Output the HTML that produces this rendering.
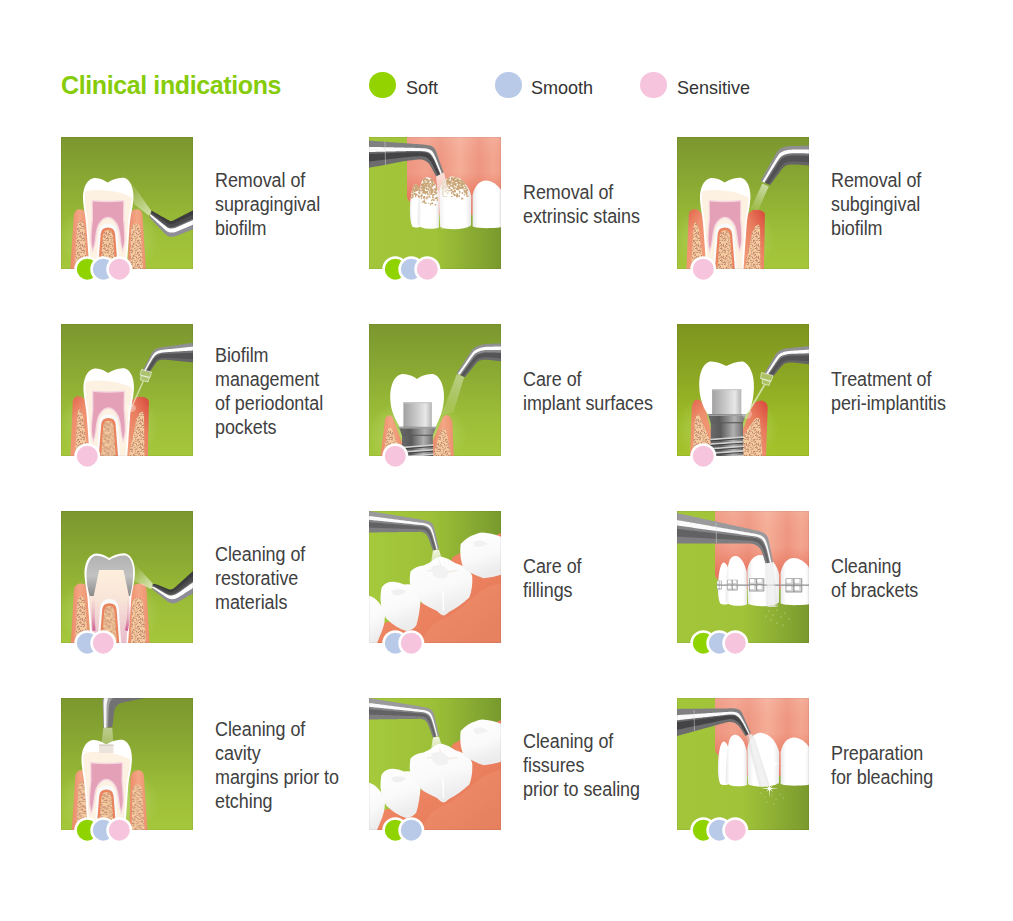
<!DOCTYPE html>
<html><head><meta charset="utf-8"><style>
html,body{margin:0;padding:0;background:#fff;}
body{width:1013px;height:921px;position:relative;overflow:hidden;font-family:"Liberation Sans",sans-serif;}
.t{position:absolute;left:61px;top:72.7px;font-size:25px;line-height:25px;font-weight:bold;color:#86cc0a;letter-spacing:-0.39px;white-space:nowrap;}
.lg{position:absolute;width:26.8px;height:26.8px;border-radius:50%;top:71.6px;}
.lt{position:absolute;top:77.5px;font-size:19px;line-height:19px;color:#333;white-space:nowrap;letter-spacing:0;transform:scaleX(0.948);transform-origin:0 50%}
.cell{position:absolute;width:132px;height:132px;}
.cell svg{position:absolute;left:0;top:0;overflow:visible}
.cap{position:absolute;height:132px;display:flex;align-items:center;font-size:19.5px;line-height:24.2px;color:#404040;letter-spacing:-0.05px;transform:scaleX(0.92);transform-origin:0 50%;white-space:nowrap;}
</style></head><body>

<div class="t">Clinical indications</div>
<div class="lg" style="left:368.8px;background:#93d300"></div><div class="lt" style="left:405.8px">Soft</div>
<div class="lg" style="left:494.8px;background:#b9cae9"></div><div class="lt" style="left:531px">Smooth</div>
<div class="lg" style="left:640.4px;background:#f6c5dd"></div><div class="lt" style="left:677px">Sensitive</div>
<svg width="0" height="0" style="position:absolute">
<defs>
<linearGradient id="bgV" x1="0" y1="0" x2="0" y2="1"><stop offset="0" stop-color="#7b972f"/><stop offset="0.35" stop-color="#8aa933"/><stop offset="0.7" stop-color="#9cbd38"/><stop offset="1" stop-color="#a5c73b"/></linearGradient>
<linearGradient id="bgV6" x1="0" y1="0" x2="0" y2="1"><stop offset="0" stop-color="#7e941f"/><stop offset="0.35" stop-color="#8aa523"/><stop offset="0.7" stop-color="#9bba27"/><stop offset="1" stop-color="#a4c22a"/></linearGradient>
<linearGradient id="bgH" x1="0" y1="0" x2="1" y2="0"><stop offset="0" stop-color="#a2c53a"/><stop offset="0.5" stop-color="#a0c339"/><stop offset="1" stop-color="#7a992e"/></linearGradient>
<linearGradient id="bgM" x1="0" y1="0" x2="1" y2="0"><stop offset="0" stop-color="#a6ca3c"/><stop offset="0.5" stop-color="#9cbf38"/><stop offset="1" stop-color="#789a2e"/></linearGradient>
<radialGradient id="glow" cx="0.5" cy="0.5" r="0.5"><stop offset="0" stop-color="#d8f0a0" stop-opacity="0.6"/><stop offset="0.6" stop-color="#c8e890" stop-opacity="0.3"/><stop offset="1" stop-color="#c8e890" stop-opacity="0"/></radialGradient>
<linearGradient id="gumG" x1="0" y1="0" x2="1" y2="0"><stop offset="0" stop-color="#ea8a6a"/><stop offset="0.5" stop-color="#f4a684"/><stop offset="1" stop-color="#ec906e"/></linearGradient>
<linearGradient id="gumRL" x1="0" y1="0" x2="0.4" y2="1"><stop offset="0" stop-color="#e2624a"/><stop offset="0.4" stop-color="#ee8e6c"/><stop offset="1" stop-color="#f19c7a"/></linearGradient>
<linearGradient id="gumRR" x1="1" y1="0" x2="0.3" y2="1"><stop offset="0" stop-color="#d8463a"/><stop offset="0.45" stop-color="#e97d5e"/><stop offset="1" stop-color="#f09a78"/></linearGradient>
<linearGradient id="gumF" x1="0" y1="0" x2="1" y2="0"><stop offset="0" stop-color="#ee9580"/><stop offset="0.2" stop-color="#f2a28c"/><stop offset="0.35" stop-color="#ee9782"/><stop offset="0.55" stop-color="#f5ae98"/><stop offset="0.75" stop-color="#ee9680"/><stop offset="0.9" stop-color="#f3a690"/><stop offset="1" stop-color="#ef9a84"/></linearGradient>
<linearGradient id="gumFv" x1="0" y1="0" x2="0" y2="1"><stop offset="0" stop-color="#fff" stop-opacity="0.1"/><stop offset="0.45" stop-color="#e8705a" stop-opacity="0"/><stop offset="0.8" stop-color="#e66a52" stop-opacity="0.75"/><stop offset="1" stop-color="#e66a52" stop-opacity="0.8"/></linearGradient>
<linearGradient id="gumM" x1="0" y1="0" x2="1" y2="1"><stop offset="0" stop-color="#ea7452"/><stop offset="0.5" stop-color="#ee8562"/><stop offset="1" stop-color="#e07454"/></linearGradient>
<pattern id="bone" width="12" height="12" patternUnits="userSpaceOnUse"><rect width="12" height="12" fill="#f4cb9e"/><rect x="5.4" y="6.7" width="1.2" height="0.9" fill="#c88a74"/><rect x="10.3" y="2.3" width="1.2" height="0.9" fill="#c88a74"/><rect x="9.5" y="1.1" width="0.8" height="0.7" fill="#9e5e54"/><rect x="7.6" y="7.1" width="0.9" height="0.9" fill="#9e5e54"/><rect x="7.4" y="1.9" width="0.6" height="1.0" fill="#b06a5c"/><rect x="0.4" y="10.6" width="1.0" height="1.1" fill="#c07a68"/><rect x="5.3" y="10.1" width="1.0" height="1.0" fill="#b87464"/><rect x="0.1" y="1.0" width="1.1" height="0.9" fill="#c88a74"/><rect x="11.9" y="10.1" width="1.1" height="0.8" fill="#a8645a"/><rect x="6.2" y="0.4" width="1.0" height="0.7" fill="#b06a5c"/><rect x="10.2" y="4.6" width="1.3" height="1.2" fill="#b06a5c"/><rect x="2.6" y="11.1" width="0.6" height="0.9" fill="#9e5e54"/><rect x="4.8" y="0.9" width="1.0" height="1.1" fill="#c07a68"/><rect x="4.0" y="3.7" width="0.6" height="0.9" fill="#b06a5c"/><rect x="1.6" y="8.5" width="0.6" height="0.9" fill="#b87464"/><rect x="2.1" y="6.7" width="0.9" height="0.7" fill="#9e5e54"/><rect x="9.2" y="5.0" width="0.9" height="0.9" fill="#a8645a"/><rect x="0.0" y="10.4" width="1.3" height="1.0" fill="#b06a5c"/><rect x="2.5" y="4.7" width="1.2" height="1.0" fill="#b06a5c"/><rect x="0.5" y="1.8" width="0.9" height="0.6" fill="#c88a74"/><rect x="3.9" y="3.6" width="0.7" height="0.7" fill="#c88a74"/><rect x="7.6" y="0.2" width="0.9" height="1.0" fill="#a8645a"/><rect x="11.5" y="5.8" width="1.0" height="1.2" fill="#a8645a"/><rect x="7.5" y="3.7" width="0.8" height="1.0" fill="#9e5e54"/><rect x="2.3" y="8.9" width="1.3" height="0.7" fill="#b87464"/><rect x="10.6" y="7.2" width="0.9" height="0.7" fill="#b06a5c"/><rect x="6.1" y="3.1" width="1.1" height="0.9" fill="#b87464"/><rect x="9.9" y="7.2" width="0.8" height="0.7" fill="#9e5e54"/><rect x="11.7" y="1.5" width="0.9" height="1.1" fill="#c88a74"/><rect x="7.4" y="3.4" width="1.2" height="0.7" fill="#b06a5c"/><rect x="0.8" y="4.9" width="0.8" height="0.6" fill="#c07a68"/><rect x="4.4" y="6.9" width="0.7" height="0.9" fill="#b87464"/><rect x="11.8" y="7.9" width="1.1" height="1.0" fill="#a8645a"/><rect x="7.1" y="11.1" width="0.9" height="0.9" fill="#c07a68"/><rect x="11.6" y="0.3" width="1.0" height="0.9" fill="#9e5e54"/><rect x="3.7" y="1.6" width="0.7" height="0.9" fill="#c07a68"/><rect x="8.8" y="10.8" width="1.1" height="1.1" fill="#c07a68"/><rect x="4.2" y="8.2" width="1.2" height="1.2" fill="#b87464"/><rect x="11.3" y="0.4" width="0.9" height="0.6" fill="#9e5e54"/><rect x="4.6" y="7.0" width="1.0" height="0.7" fill="#9e5e54"/><rect x="1.4" y="3.1" width="0.9" height="0.8" fill="#9e5e54"/><rect x="8.3" y="5.5" width="0.9" height="1.0" fill="#c88a74"/><rect x="9.0" y="0.4" width="1.0" height="0.9" fill="#a8645a"/><rect x="11.5" y="1.4" width="1.1" height="1.1" fill="#b87464"/><rect x="3.1" y="0.1" width="0.8" height="1.1" fill="#a8645a"/><rect x="6.2" y="9.0" width="0.8" height="1.3" fill="#b87464"/></pattern>
<pattern id="stain" width="4" height="4" patternUnits="userSpaceOnUse">
<rect width="4" height="4" fill="#c9a678"/><rect x="0.5" y="0.5" width="1.2" height="1" fill="#fff"/><rect x="2.6" y="2.2" width="1" height="1.2" fill="#f4eee2"/>
</pattern>
<linearGradient id="toothF" x1="0" y1="0" x2="1" y2="0"><stop offset="0" stop-color="#e8e8e8"/><stop offset="0.18" stop-color="#ffffff"/><stop offset="0.82" stop-color="#ffffff"/><stop offset="1" stop-color="#e6e6e6"/></linearGradient>
<linearGradient id="abut" x1="0" y1="0" x2="1" y2="0"><stop offset="0" stop-color="#a2a2a2"/><stop offset="0.4" stop-color="#c4c4c4"/><stop offset="0.78" stop-color="#e8e8e8"/><stop offset="1" stop-color="#b4b4b4"/></linearGradient>
<linearGradient id="collar" x1="0" y1="0" x2="1" y2="0"><stop offset="0" stop-color="#6a6a6a"/><stop offset="0.3" stop-color="#5a5a5a"/><stop offset="0.7" stop-color="#b0b0b0"/><stop offset="1" stop-color="#707070"/></linearGradient>
<linearGradient id="resto" x1="0" y1="0" x2="0" y2="1"><stop offset="0" stop-color="#b2b2b2"/><stop offset="0.5" stop-color="#c2c2c2"/><stop offset="1" stop-color="#8a8a8a"/></linearGradient>
<linearGradient id="canalP" x1="0" y1="0" x2="0" y2="1"><stop offset="0" stop-color="#e8b0c0" stop-opacity="0"/><stop offset="0.6" stop-color="#dc90ac" stop-opacity="0.6"/><stop offset="1" stop-color="#c8508a" stop-opacity="0.9"/></linearGradient>
<linearGradient id="dentP" gradientUnits="userSpaceOnUse" x1="0" y1="57" x2="0" y2="125"><stop offset="0" stop-color="#fef0dc"/><stop offset="0.45" stop-color="#f8e4d8"/><stop offset="1" stop-color="#eac0cc"/></linearGradient>
<linearGradient id="molar" x1="0" y1="0" x2="0.3" y2="1"><stop offset="0" stop-color="#ffffff"/><stop offset="0.6" stop-color="#fafafa"/><stop offset="1" stop-color="#ececec"/></linearGradient>
<linearGradient id="beam" x1="0" y1="0" x2="0" y2="1"><stop offset="0" stop-color="#fff" stop-opacity="0.7"/><stop offset="1" stop-color="#fff" stop-opacity="0.3"/></linearGradient>
<clipPath id="cb"><rect width="132" height="132"/></clipPath>
</defs></svg>
<div class="cell" style="left:61px;top:137px"><svg width="132" height="132" viewBox="0 0 132 132"><g clip-path="url(#cb)"><rect width="132" height="132" fill="url(#bgV)"/><ellipse cx="48" cy="102" rx="50" ry="40" fill="url(#glow)"/><g transform="translate(0.0,0)"><path d="M9.4,132 L12.8,78 Q14,72.2 18.8,72.2 Q24.5,72.2 26,80 L28,132 Z" fill="url(#gumG)"/><path d="M13.8,132 L16,88 Q17,83.6 19.2,83.6 Q22,83.6 23.5,90 L26,132 Z" fill="url(#bone)"/><path d="M67,132 L68,80 Q69.5,72.2 75.5,72.2 Q81,72.2 81.4,78 L84.9,132 Z" fill="url(#gumG)"/><path d="M69.1,132 L70,92 Q71.5,86.6 75,86.6 Q78.5,86.6 79.5,92 L82,132 Z" fill="url(#bone)"/></g><g transform="translate(0.0,0.0)"><path d="M22.3,66 C20.8,55 24,43.5 32,41.2 C38,40.2 43,43 46.7,45.5 C51,42.6 57,40.2 63,40.8 C71,43 73.3,55 72.2,64 C71.6,72 69.5,78 68.8,86 L65.5,132 L28.5,132 L25,86 C24.2,78 22.8,72 22.3,66 Z" fill="#ffffff"/><path d="M24.2,66 C23.6,61 23.6,57 24.2,54.5 C32,52.5 40,53 46.7,53.8 C56,54.5 64,57 70.6,60.5 C70.8,62 70.7,63 70.5,64 C70,72 67.8,78 67,86 L63.8,132 L30.2,132 L26.8,86 C26,78 24.5,72 24.2,66 Z" fill="#fdf2e2"/><path d="M30.6,63.2 Q31,63 32,63 Q46.9,64.6 62,63 Q63,63 63.4,63.2 L63.2,82 Q64.6,95 64.4,104 Q63.5,110 61.7,116 Q59.8,110 58.8,104 Q57.8,94 56,89 Q52,81.5 46.9,81.2 Q41.8,81.5 37.8,89 Q36,94 35,104 Q34,110 31.6,116 Q29.8,110 29.4,104 Q29.2,95 30.8,82 Z" fill="#f5d6e0"/><path d="M31.8,64.4 Q46.9,66 62.2,64.4 L62,82 Q63.3,95 63.1,104 Q62.6,108 61.7,112 Q60.8,108 60.2,104 Q59.2,94 57.3,88.5 Q53,80 46.9,79.8 Q40.8,80 36.5,88.5 Q34.6,94 33.6,104 Q33,108 31.8,112 Q30.8,108 30.6,104 Q30.5,95 32,82 Z" fill="#e3a0b7"/><path d="M35,132 L37.5,96 Q38.5,86.5 46.9,86.5 Q55.3,86.5 56.3,96 L58.8,132 Z" fill="#f8fafc"/><path d="M37,132 L39.7,97 Q40.5,90.6 46.9,90.6 Q53.3,90.6 54.1,97 L56.8,132 Z" fill="#e9845f"/><path d="M39.3,132 L41.8,98.5 Q42.5,93.3 46.9,93.3 Q51.3,93.3 52,98.5 L54.5,132 Z" fill="url(#bone)"/></g><linearGradient id="sp1" gradientUnits="userSpaceOnUse" x1="89.5" y1="77.0" x2="67.0" y2="49.5"><stop offset="0" stop-color="#f6fbee" stop-opacity="0.60"/><stop offset="1" stop-color="#f6fbee" stop-opacity="0.03"/></linearGradient><polygon points="91.4,75.4 61.0,32.0 73.0,67.0 87.6,78.6" fill="url(#sp1)"/><polygon points="90.50,73.60 91.32,74.06 92.14,74.53 92.97,74.99 93.79,75.45 94.61,75.92 95.43,76.38 96.25,76.85 97.07,77.31 97.90,77.77 98.72,78.24 99.54,78.70 100.36,79.16 101.18,79.63 102.01,80.09 102.83,80.55 103.65,81.02 104.47,81.48 105.29,81.94 106.12,82.41 106.94,82.87 107.76,83.34 108.61,83.74 109.53,83.97 110.47,83.99 111.39,83.81 112.26,83.45 113.10,83.02 113.94,82.59 114.78,82.16 115.62,81.73 116.46,81.30 117.30,80.87 118.14,80.45 118.99,80.02 119.83,79.59 120.67,79.16 121.51,78.73 122.35,78.30 123.19,77.87 124.03,77.45 124.87,77.02 125.71,76.59 126.55,76.16 127.39,75.73 128.23,75.30 129.07,74.87 129.91,74.44 130.75,74.02 131.59,73.59 132.43,73.16 133.28,72.73 134.12,72.30 134.96,71.87 135.80,71.44 136.64,71.01 137.48,70.59 138.32,70.16 139.16,69.73 140.00,69.30 140.00,74.87 139.12,75.29 138.25,75.70 137.37,76.12 136.50,76.53 135.62,76.94 134.74,77.36 133.87,77.77 132.99,78.19 132.12,78.60 131.24,79.02 130.36,79.43 129.49,79.84 128.61,80.26 127.74,80.67 126.86,81.09 125.98,81.50 125.11,81.92 124.23,82.33 123.36,82.75 122.48,83.16 121.60,83.57 120.73,83.99 119.85,84.40 118.98,84.82 118.10,85.23 117.22,85.64 116.34,86.05 115.45,86.43 114.56,86.78 113.67,87.10 112.77,87.39 111.88,87.65 111.00,87.87 110.11,88.01 109.19,88.00 108.28,87.81 107.40,87.46 106.58,86.96 105.78,86.42 104.99,85.87 104.20,85.33 103.41,84.79 102.62,84.24 101.82,83.70 101.03,83.15 100.24,82.61 99.45,82.06 98.65,81.52 97.86,80.98 97.07,80.43 96.28,79.89 95.49,79.34 94.69,78.80 93.90,78.25 93.11,77.71 92.32,77.16 91.52,76.62 90.73,76.08 89.94,75.53" fill="#3c3c3e"/><polygon points="90.06,75.12 90.86,75.65 91.66,76.17 92.46,76.70 93.25,77.23 94.05,77.75 94.85,78.28 95.65,78.81 96.45,79.33 97.25,79.86 98.05,80.39 98.84,80.92 99.64,81.44 100.44,81.97 101.24,82.50 102.04,83.02 102.84,83.55 103.64,84.08 104.43,84.60 105.23,85.13 106.03,85.66 106.83,86.19 107.66,86.66 108.54,86.99 109.46,87.14 110.38,87.11 111.27,86.92 112.14,86.65 113.02,86.36 113.91,86.04 114.79,85.70 115.67,85.33 116.55,84.94 117.42,84.53 118.29,84.11 119.16,83.70 120.03,83.28 120.89,82.86 121.76,82.44 122.63,82.03 123.50,81.61 124.37,81.19 125.24,80.77 126.11,80.36 126.97,79.94 127.84,79.52 128.71,79.11 129.58,78.69 130.45,78.27 131.32,77.85 132.18,77.44 133.05,77.02 133.92,76.60 134.79,76.18 135.66,75.77 136.53,75.35 137.39,74.93 138.26,74.51 139.13,74.10 140.00,73.68 140.00,79.05 139.10,79.45 138.19,79.86 137.29,80.26 136.39,80.67 135.49,81.07 134.58,81.47 133.68,81.88 132.78,82.28 131.88,82.68 130.97,83.09 130.07,83.49 129.17,83.90 128.27,84.30 127.36,84.70 126.46,85.11 125.56,85.51 124.66,85.91 123.75,86.32 122.85,86.72 121.95,87.12 121.05,87.53 120.14,87.93 119.24,88.34 118.34,88.74 117.43,89.14 116.53,89.54 115.62,89.93 114.70,90.27 113.77,90.56 112.83,90.81 111.89,90.99 110.97,91.12 110.05,91.18 109.14,91.16 108.23,91.00 107.34,90.69 106.49,90.24 105.69,89.68 104.92,89.08 104.15,88.47 103.38,87.87 102.61,87.26 101.84,86.66 101.07,86.05 100.30,85.45 99.53,84.84 98.76,84.24 97.99,83.63 97.22,83.03 96.45,82.42 95.68,81.82 94.91,81.21 94.14,80.61 93.37,80.01 92.60,79.40 91.83,78.80 91.06,78.19 90.29,77.59 89.52,76.98" fill="#4c4c4e"/><polygon points="89.64,76.57 90.42,77.15 91.19,77.74 91.97,78.33 92.75,78.92 93.52,79.50 94.30,80.09 95.07,80.68 95.85,81.27 96.63,81.85 97.40,82.44 98.18,83.03 98.96,83.62 99.73,84.21 100.51,84.79 101.29,85.38 102.06,85.97 102.84,86.56 103.61,87.14 104.39,87.73 105.17,88.32 105.94,88.91 106.75,89.45 107.61,89.87 108.51,90.14 109.42,90.26 110.32,90.24 111.23,90.13 112.14,89.96 113.07,89.75 113.99,89.48 114.91,89.17 115.83,88.82 116.73,88.43 117.62,88.03 118.52,87.62 119.41,87.21 120.31,86.81 121.20,86.40 122.10,85.99 122.99,85.59 123.89,85.18 124.78,84.77 125.68,84.36 126.57,83.96 127.47,83.55 128.36,83.14 129.26,82.74 130.15,82.33 131.05,81.92 131.94,81.52 132.84,81.11 133.73,80.70 134.63,80.30 135.52,79.89 136.42,79.48 137.31,79.08 138.21,78.67 139.10,78.26 140.00,77.86 140.00,80.64 139.09,81.04 138.17,81.44 137.26,81.84 136.35,82.24 135.44,82.64 134.52,83.04 133.61,83.44 132.70,83.84 131.79,84.24 130.87,84.64 129.96,85.04 129.05,85.44 128.13,85.84 127.22,86.24 126.31,86.64 125.40,87.04 124.48,87.44 123.57,87.84 122.66,88.24 121.75,88.64 120.83,89.03 119.92,89.43 119.01,89.83 118.09,90.23 117.18,90.63 116.27,91.03 115.35,91.40 114.41,91.73 113.46,92.00 112.51,92.22 111.56,92.36 110.62,92.44 109.69,92.45 108.78,92.36 107.87,92.15 106.98,91.79 106.14,91.31 105.35,90.72 104.59,90.09 103.83,89.46 103.07,88.84 102.31,88.21 101.54,87.58 100.78,86.95 100.02,86.32 99.26,85.70 98.50,85.07 97.74,84.44 96.98,83.81 96.21,83.18 95.45,82.56 94.69,81.93 93.93,81.30 93.17,80.67 92.41,80.04 91.64,79.42 90.88,78.79 90.12,78.16 89.36,77.53" fill="#707072"/><polygon points="89.48,77.12 90.25,77.73 91.02,78.34 91.78,78.95 92.55,79.56 93.32,80.17 94.09,80.78 94.86,81.39 95.62,82.00 96.39,82.61 97.16,83.23 97.93,83.84 98.69,84.45 99.46,85.06 100.23,85.67 101.00,86.28 101.77,86.89 102.53,87.50 103.30,88.11 104.07,88.72 104.84,89.33 105.61,89.94 106.40,90.51 107.25,90.97 108.14,91.29 109.05,91.46 109.96,91.50 110.88,91.45 111.81,91.33 112.75,91.16 113.69,90.92 114.63,90.63 115.55,90.29 116.47,89.91 117.37,89.52 118.28,89.11 119.18,88.71 120.09,88.31 120.99,87.90 121.90,87.50 122.80,87.10 123.71,86.70 124.61,86.29 125.52,85.89 126.42,85.49 127.33,85.09 128.23,84.68 129.14,84.28 130.04,83.88 130.95,83.48 131.85,83.07 132.76,82.67 133.66,82.27 134.57,81.86 135.47,81.46 136.38,81.06 137.28,80.66 138.19,80.25 139.09,79.85 140.00,79.45 140.00,85.62 139.06,86.00 138.11,86.39 137.17,86.78 136.22,87.17 135.28,87.55 134.33,87.94 133.39,88.33 132.45,88.71 131.50,89.10 130.56,89.49 129.61,89.87 128.67,90.26 127.72,90.65 126.78,91.03 125.83,91.42 124.89,91.81 123.95,92.19 123.00,92.58 122.06,92.97 121.11,93.35 120.17,93.74 119.22,94.13 118.28,94.52 117.34,94.90 116.39,95.29 115.44,95.67 114.49,96.02 113.51,96.30 112.52,96.51 111.52,96.63 110.51,96.65 109.53,96.57 108.56,96.39 107.63,96.12 106.73,95.72 105.87,95.22 105.06,94.63 104.30,93.96 103.56,93.26 102.83,92.56 102.09,91.86 101.36,91.16 100.62,90.46 99.89,89.76 99.15,89.06 98.42,88.36 97.68,87.66 96.95,86.96 96.21,86.26 95.48,85.56 94.74,84.86 94.01,84.16 93.27,83.46 92.54,82.76 91.80,82.06 91.07,81.36 90.33,80.66 89.60,79.96 88.86,79.26" fill="#ffffff"/><polygon points="88.98,78.84 89.72,79.53 90.46,80.21 91.20,80.89 91.95,81.57 92.69,82.26 93.43,82.94 94.17,83.62 94.91,84.31 95.65,84.99 96.39,85.67 97.14,86.35 97.88,87.04 98.62,87.72 99.36,88.40 100.10,89.08 100.84,89.77 101.58,90.45 102.33,91.13 103.07,91.81 103.81,92.50 104.55,93.18 105.32,93.83 106.13,94.40 107.00,94.86 107.90,95.21 108.83,95.45 109.79,95.58 110.77,95.62 111.75,95.57 112.74,95.43 113.73,95.21 114.69,94.91 115.64,94.56 116.58,94.17 117.52,93.78 118.45,93.39 119.39,93.00 120.33,92.61 121.26,92.22 122.20,91.83 123.14,91.44 124.07,91.05 125.01,90.66 125.95,90.27 126.89,89.88 127.82,89.49 128.76,89.10 129.70,88.71 130.63,88.32 131.57,87.93 132.51,87.54 133.44,87.15 134.38,86.76 135.32,86.37 136.25,85.98 137.19,85.59 138.13,85.20 139.06,84.81 140.00,84.42 140.00,89.20 139.03,89.58 138.07,89.96 137.10,90.33 136.13,90.71 135.16,91.09 134.20,91.47 133.23,91.84 132.26,92.22 131.30,92.60 130.33,92.98 129.36,93.35 128.39,93.73 127.43,94.11 126.46,94.49 125.49,94.86 124.53,95.24 123.56,95.62 122.59,96.00 121.62,96.38 120.66,96.75 119.69,97.13 118.72,97.51 117.76,97.89 116.79,98.26 115.82,98.64 114.85,99.01 113.87,99.34 112.86,99.60 111.83,99.75 110.80,99.80 109.76,99.73 108.74,99.55 107.75,99.24 106.80,98.82 105.91,98.30 105.06,97.69 104.28,97.02 103.54,96.29 102.82,95.54 102.10,94.79 101.39,94.03 100.67,93.28 99.96,92.53 99.24,91.78 98.52,91.03 97.81,90.27 97.09,89.52 96.38,88.77 95.66,88.02 94.94,87.27 94.23,86.51 93.51,85.76 92.80,85.01 92.08,84.26 91.36,83.51 90.65,82.76 89.93,82.00 89.22,81.25 88.50,80.50" fill="#8e8d98"/><rect x="0.3" y="0.3" width="131.4" height="131.4" fill="none" stroke="#000" stroke-opacity="0.07" stroke-width="0.8"/></g><circle cx="26.3" cy="132.2" r="11.75" fill="#8fd400" stroke="#fff" stroke-width="2.5"/><circle cx="42.3" cy="132.2" r="11.75" fill="#b9cae9" stroke="#fff" stroke-width="2.5"/><circle cx="58.3" cy="132.2" r="11.75" fill="#f6c5dd" stroke="#fff" stroke-width="2.5"/></svg></div>
<div class="cap" style="left:215px;top:138.0px">Removal of<br>supragingival<br>biofilm</div>
<div class="cell" style="left:369px;top:137px"><svg width="132" height="132" viewBox="0 0 132 132"><g clip-path="url(#cb)"><rect width="132" height="132" fill="url(#bgH)"/><path d="M38,0 H134 V78 H41.5 L41.5,65.0 Q38,63.0 38,58.0 Z" fill="url(#gumF)"/><path d="M38,0 H134 V78 H41.5 L41.5,65.0 Q38,63.0 38,58.0 Z" fill="url(#gumFv)"/><path d="M41,77.3 C40.6,62.3 43,48.3 46.4,47.3 C49.5,47.3 51.5,52.3 52.5,58.3 L51,90.0 C47,91.0 44,90.5 43,89.0 C41.5,85.0 41,80.0 41,77.3 Z" fill="url(#toothF)"/><path d="M48.8,88.0 C48.5,70.0 50,50.4 53,44.0 C55,40.5 57,40.2 59.2,40.4 C64,41.0 68,48.4 69.8,56.4 L70,90.5 C66,92.0 62,92.0 59.7,91.7 C55,91.5 51,90.5 48.8,88.0 Z" fill="url(#toothF)"/><path d="M70.5,54.0 C71.5,46.0 77,39.5 83.4,39.4 C92,39.5 100,48.0 102.3,59.4 L102,88.5 C98,91.0 92,92.2 85.4,92.2 C79,92.0 74,91.0 71.2,90.0 C70.4,80.0 70.3,64.0 70.5,54.0 Z" fill="url(#toothF)"/><path d="M103.6,58.0 C106,48.0 111,43.4 116.9,43.4 C124,43.5 131,50.0 134,56.0 L134,90.0 C128,91.0 122,91.2 117,91.2 C112,91.0 106,90.5 103.6,89.5 Z" fill="url(#toothF)"/><clipPath id="ftc"><path d="M41,77.3 C40.6,62.3 43,48.3 46.4,47.3 C49.5,47.3 51.5,52.3 52.5,58.3 L51,90.0 C47,91.0 44,90.5 43,89.0 C41.5,85.0 41,80.0 41,77.3 Z" fill="url(#toothF)"/><path d="M48.8,88.0 C48.5,70.0 50,50.4 53,44.0 C55,40.5 57,40.2 59.2,40.4 C64,41.0 68,48.4 69.8,56.4 L70,90.5 C66,92.0 62,92.0 59.7,91.7 C55,91.5 51,90.5 48.8,88.0 Z" fill="url(#toothF)"/><path d="M70.5,54.0 C71.5,46.0 77,39.5 83.4,39.4 C92,39.5 100,48.0 102.3,59.4 L102,88.5 C98,91.0 92,92.2 85.4,92.2 C79,92.0 74,91.0 71.2,90.0 C70.4,80.0 70.3,64.0 70.5,54.0 Z" fill="url(#toothF)"/><path d="M103.6,58.0 C106,48.0 111,43.4 116.9,43.4 C124,43.5 131,50.0 134,56.0 L134,90.0 C128,91.0 122,91.2 117,91.2 C112,91.0 106,90.5 103.6,89.5 Z" fill="url(#toothF)"/></clipPath><g clip-path="url(#ftc)"><g fill="#c9a474"><rect x="44.2" y="49.9" width="0.9" height="1.6"/><rect x="44.7" y="48.1" width="0.9" height="1.4"/><rect x="41.7" y="48.7" width="2.0" height="1.0"/><rect x="43.2" y="58.9" width="1.6" height="1.4"/><rect x="46.5" y="48.2" width="1.1" height="1.8"/><rect x="45.3" y="53.0" width="1.4" height="1.2"/><rect x="46.7" y="57.0" width="1.8" height="1.2"/><rect x="48.6" y="49.9" width="0.9" height="1.7"/><rect x="48.6" y="57.9" width="1.2" height="1.8"/><rect x="47.6" y="48.2" width="1.7" height="2.2"/><rect x="49.2" y="52.4" width="1.7" height="0.8"/><rect x="43.5" y="54.4" width="0.9" height="1.4"/><rect x="49.6" y="52.3" width="1.3" height="2.0"/><rect x="43.3" y="51.4" width="1.6" height="1.2"/><rect x="45.0" y="49.0" width="0.9" height="0.9"/><rect x="43.1" y="50.1" width="0.9" height="0.8"/><rect x="42.5" y="48.9" width="0.8" height="2.0"/><rect x="47.1" y="49.8" width="1.3" height="1.3"/><rect x="46.4" y="47.5" width="2.2" height="2.0"/><rect x="48.0" y="52.0" width="1.0" height="1.9"/><rect x="48.4" y="51.3" width="1.3" height="0.8"/><rect x="43.0" y="50.9" width="2.1" height="2.0"/><rect x="41.8" y="59.6" width="1.9" height="1.9"/><rect x="45.8" y="50.4" width="1.3" height="1.9"/><rect x="42.3" y="49.9" width="1.9" height="1.0"/><rect x="46.9" y="51.9" width="1.0" height="2.1"/><rect x="44.5" y="55.7" width="2.1" height="1.4"/><rect x="46.2" y="47.4" width="1.1" height="0.8"/><rect x="49.0" y="50.3" width="1.8" height="1.6"/><rect x="48.8" y="49.0" width="1.1" height="1.2"/><rect x="42.4" y="49.3" width="0.9" height="1.1"/><rect x="50.0" y="49.9" width="1.7" height="1.0"/><rect x="43.0" y="53.1" width="0.8" height="1.6"/><rect x="45.4" y="47.3" width="1.7" height="1.5"/><rect x="42.3" y="55.0" width="1.9" height="1.2"/><rect x="48.0" y="48.7" width="1.8" height="1.4"/><rect x="49.0" y="48.6" width="0.9" height="2.0"/><rect x="45.5" y="53.4" width="2.1" height="1.2"/><rect x="48.6" y="52.5" width="1.0" height="1.3"/><rect x="49.3" y="54.5" width="1.8" height="2.2"/><rect x="45.5" y="52.0" width="2.2" height="1.6"/><rect x="44.6" y="47.0" width="1.5" height="1.5"/><rect x="43.6" y="48.7" width="0.9" height="0.8"/><rect x="44.0" y="51.4" width="1.5" height="1.9"/><rect x="44.9" y="53.2" width="1.0" height="1.8"/><rect x="47.4" y="47.8" width="2.0" height="1.7"/><rect x="46.2" y="56.6" width="1.9" height="2.0"/><rect x="46.0" y="57.2" width="0.9" height="1.8"/><rect x="43.5" y="48.4" width="1.8" height="1.1"/><rect x="44.8" y="56.1" width="1.9" height="1.7"/><rect x="47.4" y="48.5" width="1.2" height="1.8"/><rect x="41.6" y="52.1" width="1.8" height="1.7"/><rect x="45.7" y="49.3" width="1.1" height="2.2"/><rect x="43.7" y="51.0" width="1.1" height="1.6"/><rect x="42.4" y="57.0" width="1.0" height="1.9"/><rect x="44.4" y="53.0" width="0.8" height="1.9"/><rect x="49.4" y="49.3" width="1.8" height="2.1"/><rect x="46.1" y="50.6" width="2.1" height="2.0"/><rect x="49.1" y="59.0" width="2.1" height="1.6"/><rect x="48.2" y="47.9" width="1.4" height="1.9"/><rect x="44.4" y="52.7" width="2.2" height="1.2"/><rect x="47.6" y="52.7" width="1.4" height="1.0"/><rect x="42.6" y="50.9" width="1.5" height="1.1"/><rect x="44.4" y="48.7" width="1.2" height="1.6"/><rect x="44.4" y="48.2" width="2.2" height="1.0"/><rect x="46.0" y="59.0" width="1.1" height="1.2"/><rect x="50.0" y="56.0" width="0.8" height="1.3"/><rect x="42.5" y="56.9" width="2.1" height="1.8"/><rect x="46.5" y="47.8" width="1.1" height="2.1"/><rect x="42.1" y="48.3" width="1.6" height="1.3"/><rect x="55.7" y="55.3" width="1.7" height="2.0"/><rect x="59.0" y="48.3" width="2.1" height="1.8"/><rect x="55.8" y="41.7" width="1.7" height="1.4"/><rect x="54.9" y="61.7" width="1.1" height="0.8"/><rect x="56.4" y="54.0" width="1.1" height="1.9"/><rect x="54.4" y="47.9" width="1.2" height="2.1"/><rect x="59.4" y="46.8" width="1.4" height="1.7"/><rect x="57.1" y="51.3" width="0.8" height="1.2"/><rect x="67.5" y="47.0" width="2.1" height="0.8"/><rect x="67.5" y="49.0" width="2.1" height="1.3"/><rect x="55.2" y="41.1" width="2.1" height="1.7"/><rect x="67.9" y="41.8" width="1.5" height="2.1"/><rect x="58.2" y="56.3" width="1.1" height="1.9"/><rect x="61.5" y="51.2" width="1.3" height="1.9"/><rect x="51.5" y="47.1" width="1.1" height="0.9"/><rect x="55.0" y="43.6" width="1.5" height="1.8"/><rect x="58.5" y="48.3" width="1.7" height="1.7"/><rect x="60.8" y="52.6" width="1.1" height="1.1"/><rect x="54.7" y="45.8" width="1.6" height="1.3"/><rect x="65.6" y="67.1" width="0.9" height="1.2"/><rect x="52.3" y="46.9" width="1.6" height="2.1"/><rect x="54.9" y="65.1" width="0.9" height="1.6"/><rect x="61.8" y="47.7" width="1.0" height="1.1"/><rect x="54.8" y="59.6" width="1.1" height="0.8"/><rect x="55.9" y="47.3" width="1.6" height="0.9"/><rect x="51.9" y="53.3" width="1.7" height="0.9"/><rect x="55.4" y="50.5" width="1.2" height="1.6"/><rect x="56.8" y="53.9" width="2.2" height="1.3"/><rect x="65.6" y="53.6" width="1.4" height="1.0"/><rect x="67.3" y="43.8" width="1.3" height="1.5"/><rect x="52.8" y="49.8" width="2.1" height="1.0"/><rect x="59.3" y="65.9" width="1.1" height="1.0"/><rect x="67.2" y="60.2" width="1.0" height="1.9"/><rect x="54.2" y="53.5" width="2.0" height="1.1"/><rect x="54.1" y="53.4" width="1.3" height="1.0"/><rect x="54.7" y="63.5" width="0.9" height="1.6"/><rect x="64.4" y="42.2" width="1.0" height="1.6"/><rect x="62.5" y="54.9" width="0.8" height="1.7"/><rect x="59.3" y="48.3" width="1.9" height="1.4"/><rect x="62.1" y="43.5" width="1.9" height="1.5"/><rect x="67.0" y="49.5" width="1.0" height="1.5"/><rect x="67.5" y="47.5" width="1.5" height="1.2"/><rect x="67.8" y="62.1" width="1.0" height="1.9"/><rect x="52.2" y="57.5" width="1.3" height="2.0"/><rect x="60.5" y="59.0" width="0.9" height="2.2"/><rect x="62.0" y="53.2" width="1.2" height="2.2"/><rect x="61.0" y="52.2" width="1.4" height="1.0"/><rect x="64.1" y="42.5" width="1.2" height="1.7"/><rect x="55.9" y="41.1" width="1.0" height="1.7"/><rect x="58.2" y="56.9" width="1.0" height="1.1"/><rect x="62.4" y="41.7" width="1.3" height="0.9"/><rect x="56.8" y="48.0" width="1.6" height="1.1"/><rect x="67.8" y="48.6" width="0.9" height="1.7"/><rect x="55.0" y="41.4" width="1.6" height="1.3"/><rect x="62.3" y="54.8" width="1.8" height="1.1"/><rect x="67.2" y="42.4" width="1.4" height="1.1"/><rect x="54.3" y="44.3" width="0.9" height="1.3"/><rect x="64.2" y="62.5" width="1.8" height="1.2"/><rect x="60.5" y="54.5" width="1.5" height="1.2"/><rect x="66.7" y="41.5" width="1.1" height="1.8"/><rect x="66.7" y="51.2" width="2.1" height="1.7"/><rect x="63.2" y="61.6" width="1.5" height="2.0"/><rect x="67.3" y="45.5" width="0.9" height="2.1"/><rect x="56.6" y="45.4" width="0.9" height="1.8"/><rect x="62.0" y="62.6" width="0.9" height="1.6"/><rect x="66.9" y="43.0" width="2.1" height="2.1"/><rect x="52.0" y="47.4" width="0.8" height="2.0"/><rect x="65.4" y="60.7" width="1.7" height="1.2"/><rect x="51.9" y="44.0" width="1.1" height="1.2"/><rect x="58.1" y="41.6" width="1.2" height="1.8"/><rect x="57.0" y="50.9" width="1.5" height="2.0"/><rect x="61.7" y="42.0" width="1.4" height="1.9"/><rect x="65.6" y="46.3" width="1.1" height="1.9"/><rect x="59.4" y="51.8" width="1.2" height="2.1"/><rect x="55.4" y="47.7" width="1.5" height="1.0"/><rect x="62.1" y="43.5" width="1.8" height="1.9"/><rect x="61.9" y="52.0" width="1.4" height="2.0"/><rect x="53.9" y="49.2" width="1.5" height="1.3"/><rect x="66.8" y="48.2" width="1.5" height="1.9"/><rect x="56.2" y="45.8" width="1.7" height="1.8"/><rect x="53.2" y="54.6" width="1.6" height="1.0"/><rect x="53.6" y="50.3" width="2.0" height="1.0"/><rect x="53.0" y="48.7" width="1.5" height="1.0"/><rect x="56.2" y="46.9" width="1.8" height="0.9"/><rect x="58.3" y="47.1" width="0.9" height="1.1"/><rect x="57.4" y="42.1" width="1.9" height="1.8"/><rect x="54.3" y="63.4" width="1.9" height="1.8"/><rect x="58.6" y="50.7" width="0.9" height="1.4"/><rect x="54.8" y="54.1" width="1.7" height="1.4"/><rect x="60.3" y="46.0" width="2.1" height="1.5"/><rect x="63.6" y="56.9" width="2.0" height="1.5"/><rect x="63.0" y="53.2" width="1.0" height="2.2"/><rect x="56.8" y="42.8" width="1.4" height="0.8"/><rect x="58.0" y="54.0" width="1.3" height="1.2"/><rect x="54.3" y="64.0" width="1.5" height="1.1"/><rect x="62.1" y="55.5" width="1.1" height="2.1"/><rect x="56.7" y="60.8" width="1.9" height="1.5"/><rect x="65.8" y="52.0" width="1.2" height="1.3"/><rect x="54.7" y="50.4" width="1.4" height="1.7"/><rect x="62.5" y="52.2" width="2.0" height="0.9"/><rect x="62.5" y="48.8" width="1.0" height="1.1"/><rect x="66.9" y="59.9" width="1.7" height="2.1"/><rect x="63.2" y="57.5" width="1.4" height="2.0"/><rect x="60.5" y="49.2" width="1.0" height="1.5"/><rect x="59.3" y="56.4" width="2.0" height="0.8"/><rect x="66.0" y="55.5" width="1.7" height="2.0"/><rect x="57.1" y="54.0" width="0.9" height="1.7"/><rect x="62.1" y="41.9" width="1.8" height="2.1"/><rect x="66.4" y="52.4" width="1.5" height="1.9"/><rect x="54.0" y="54.5" width="1.6" height="2.0"/><rect x="59.6" y="49.4" width="2.2" height="1.7"/><rect x="65.0" y="51.3" width="1.2" height="1.6"/><rect x="62.5" y="65.5" width="1.7" height="1.7"/><rect x="62.9" y="47.6" width="1.4" height="1.9"/><rect x="51.9" y="46.6" width="1.9" height="2.1"/><rect x="62.5" y="52.4" width="1.9" height="1.6"/><rect x="54.9" y="50.4" width="1.2" height="1.4"/><rect x="60.8" y="42.2" width="1.9" height="1.6"/><rect x="57.4" y="59.4" width="2.2" height="1.5"/><rect x="57.8" y="44.2" width="1.1" height="1.0"/><rect x="66.5" y="45.0" width="1.8" height="1.1"/><rect x="63.9" y="46.8" width="1.9" height="1.8"/><rect x="67.7" y="48.9" width="1.8" height="0.8"/><rect x="51.5" y="50.6" width="1.0" height="2.0"/><rect x="59.2" y="42.9" width="1.6" height="1.4"/><rect x="62.9" y="45.5" width="1.3" height="1.7"/><rect x="62.0" y="54.0" width="1.9" height="2.1"/><rect x="65.7" y="51.3" width="2.2" height="2.0"/><rect x="61.4" y="50.6" width="2.0" height="1.3"/><rect x="63.0" y="59.7" width="1.9" height="1.2"/><rect x="61.1" y="66.3" width="0.9" height="2.0"/><rect x="51.6" y="58.2" width="1.1" height="1.9"/><rect x="67.7" y="48.3" width="1.7" height="1.5"/><rect x="53.9" y="48.9" width="1.9" height="1.4"/><rect x="54.4" y="59.0" width="2.0" height="1.5"/><rect x="53.7" y="46.6" width="1.3" height="1.6"/><rect x="52.0" y="60.6" width="1.0" height="1.6"/><rect x="64.8" y="54.2" width="1.9" height="1.9"/><rect x="53.8" y="46.6" width="0.9" height="1.6"/><rect x="66.5" y="55.2" width="2.1" height="0.9"/><rect x="52.8" y="64.4" width="1.7" height="1.2"/><rect x="56.2" y="49.0" width="1.5" height="1.0"/><rect x="54.5" y="45.4" width="0.8" height="1.8"/><rect x="53.7" y="42.1" width="1.1" height="2.1"/><rect x="58.5" y="44.0" width="2.0" height="1.7"/><rect x="58.6" y="51.5" width="1.5" height="1.7"/><rect x="52.7" y="47.9" width="1.8" height="1.6"/><rect x="57.8" y="45.8" width="2.0" height="1.3"/><rect x="67.2" y="44.5" width="0.9" height="2.1"/><rect x="62.7" y="47.5" width="1.2" height="1.2"/><rect x="53.8" y="52.3" width="2.2" height="2.1"/><rect x="51.9" y="50.0" width="0.9" height="1.8"/><rect x="53.5" y="54.5" width="1.1" height="1.6"/><rect x="52.6" y="46.6" width="1.8" height="1.1"/><rect x="51.5" y="43.7" width="1.5" height="1.2"/><rect x="53.9" y="60.0" width="1.9" height="1.6"/><rect x="53.8" y="43.0" width="1.4" height="1.8"/><rect x="66.6" y="49.3" width="2.0" height="1.3"/><rect x="53.1" y="52.5" width="0.8" height="1.5"/><rect x="64.3" y="42.9" width="2.1" height="1.5"/><rect x="59.8" y="57.4" width="0.8" height="2.2"/><rect x="54.3" y="46.7" width="1.2" height="1.9"/><rect x="53.7" y="41.5" width="1.6" height="1.5"/><rect x="63.4" y="44.2" width="1.8" height="0.9"/><rect x="52.3" y="56.3" width="1.2" height="1.0"/><rect x="57.7" y="45.2" width="2.0" height="1.0"/><rect x="56.4" y="48.5" width="1.4" height="2.2"/><rect x="66.1" y="42.7" width="2.1" height="2.1"/><rect x="54.7" y="54.1" width="1.3" height="1.5"/><rect x="51.3" y="54.4" width="0.8" height="1.0"/><rect x="62.0" y="66.1" width="2.0" height="0.8"/><rect x="62.2" y="49.2" width="1.2" height="1.6"/><rect x="59.9" y="54.4" width="1.2" height="1.2"/><rect x="62.3" y="44.7" width="2.1" height="1.5"/><rect x="55.1" y="55.5" width="1.0" height="1.0"/><rect x="52.5" y="50.1" width="1.2" height="1.1"/><rect x="51.7" y="57.9" width="1.7" height="1.6"/><rect x="62.4" y="47.2" width="1.4" height="1.6"/><rect x="54.6" y="47.9" width="1.3" height="1.6"/><rect x="64.7" y="45.9" width="2.0" height="1.4"/><rect x="51.2" y="53.0" width="1.8" height="1.0"/><rect x="52.9" y="51.4" width="1.7" height="1.7"/><rect x="67.4" y="44.9" width="0.8" height="1.9"/><rect x="61.1" y="56.4" width="1.6" height="1.4"/><rect x="57.2" y="55.0" width="1.8" height="1.2"/><rect x="56.1" y="65.4" width="1.5" height="1.4"/><rect x="53.5" y="50.4" width="1.6" height="1.6"/><rect x="66.0" y="67.0" width="1.1" height="1.4"/><rect x="67.3" y="41.3" width="1.6" height="1.5"/><rect x="63.0" y="53.1" width="1.6" height="1.3"/><rect x="73.9" y="49.7" width="1.6" height="1.6"/><rect x="83.8" y="56.2" width="1.3" height="1.5"/><rect x="94.7" y="44.4" width="2.2" height="2.0"/><rect x="85.9" y="42.9" width="1.8" height="1.9"/><rect x="75.5" y="47.5" width="1.5" height="1.1"/><rect x="72.2" y="50.7" width="1.2" height="1.8"/><rect x="89.8" y="53.8" width="1.6" height="1.4"/><rect x="74.5" y="44.1" width="0.9" height="0.9"/><rect x="75.9" y="53.6" width="1.7" height="1.9"/><rect x="72.8" y="40.3" width="1.3" height="1.8"/><rect x="81.3" y="44.4" width="0.9" height="2.1"/><rect x="87.9" y="49.1" width="1.3" height="0.9"/><rect x="96.8" y="55.1" width="1.4" height="1.7"/><rect x="78.2" y="41.1" width="2.0" height="1.2"/><rect x="91.8" y="45.8" width="2.0" height="1.5"/><rect x="94.0" y="46.3" width="1.3" height="1.1"/><rect x="82.7" y="41.7" width="2.0" height="1.3"/><rect x="78.1" y="45.0" width="1.1" height="0.8"/><rect x="91.5" y="42.4" width="2.0" height="1.0"/><rect x="75.6" y="49.2" width="1.3" height="2.1"/><rect x="91.5" y="46.8" width="1.6" height="1.3"/><rect x="96.3" y="43.2" width="1.6" height="1.2"/><rect x="93.4" y="50.0" width="1.6" height="1.2"/><rect x="82.3" y="42.2" width="2.0" height="1.2"/><rect x="90.2" y="42.8" width="1.3" height="1.5"/><rect x="79.6" y="41.7" width="1.1" height="1.0"/><rect x="91.8" y="47.3" width="2.1" height="1.9"/><rect x="79.0" y="40.8" width="1.7" height="1.3"/><rect x="89.2" y="44.7" width="2.1" height="1.8"/><rect x="91.7" y="41.1" width="1.0" height="1.1"/><rect x="95.3" y="54.8" width="1.2" height="1.4"/><rect x="72.4" y="46.4" width="1.9" height="1.1"/><rect x="91.1" y="50.2" width="2.0" height="1.2"/><rect x="93.1" y="41.1" width="1.9" height="1.2"/><rect x="80.0" y="43.6" width="1.7" height="1.1"/><rect x="96.7" y="43.7" width="1.3" height="1.9"/><rect x="72.7" y="47.3" width="1.8" height="1.4"/><rect x="74.3" y="48.4" width="1.3" height="1.0"/><rect x="73.1" y="40.3" width="1.9" height="0.9"/><rect x="78.1" y="43.6" width="1.9" height="2.0"/><rect x="79.6" y="44.8" width="2.0" height="2.1"/><rect x="94.9" y="48.3" width="1.6" height="1.3"/><rect x="87.4" y="56.3" width="1.8" height="2.1"/><rect x="75.6" y="47.8" width="0.9" height="1.8"/><rect x="75.7" y="51.5" width="0.9" height="0.9"/><rect x="83.7" y="45.0" width="0.8" height="2.0"/><rect x="83.2" y="48.8" width="1.7" height="2.0"/><rect x="97.2" y="44.3" width="1.4" height="1.6"/><rect x="81.1" y="45.1" width="1.3" height="1.4"/><rect x="94.5" y="41.6" width="1.7" height="1.2"/><rect x="89.8" y="47.8" width="2.0" height="0.8"/><rect x="87.8" y="50.8" width="1.6" height="1.4"/><rect x="74.3" y="44.7" width="1.6" height="1.0"/><rect x="86.4" y="46.5" width="1.6" height="1.1"/><rect x="87.6" y="42.9" width="1.6" height="0.9"/><rect x="82.8" y="41.9" width="2.0" height="1.6"/><rect x="88.2" y="45.5" width="1.8" height="1.4"/><rect x="96.8" y="56.2" width="1.6" height="2.1"/><rect x="96.3" y="44.4" width="1.3" height="1.9"/><rect x="81.8" y="59.2" width="1.8" height="0.9"/><rect x="88.5" y="42.6" width="1.9" height="1.0"/><rect x="76.6" y="51.6" width="1.6" height="1.0"/><rect x="96.4" y="54.0" width="1.9" height="2.1"/><rect x="72.0" y="44.7" width="1.8" height="1.3"/><rect x="84.8" y="44.1" width="1.4" height="2.0"/><rect x="88.7" y="42.0" width="1.1" height="2.1"/><rect x="88.1" y="41.1" width="1.3" height="1.5"/><rect x="72.3" y="43.8" width="1.2" height="1.2"/><rect x="85.5" y="46.8" width="1.5" height="2.1"/><rect x="89.4" y="49.1" width="1.4" height="0.9"/><rect x="80.8" y="48.4" width="1.5" height="1.3"/><rect x="78.1" y="46.1" width="1.0" height="0.8"/><rect x="72.9" y="47.8" width="1.8" height="1.6"/><rect x="87.9" y="42.1" width="1.6" height="2.2"/><rect x="96.2" y="41.8" width="2.1" height="1.2"/><rect x="78.5" y="40.6" width="1.2" height="1.8"/><rect x="76.7" y="59.1" width="1.6" height="0.9"/><rect x="75.0" y="44.9" width="2.0" height="1.7"/><rect x="97.8" y="45.5" width="1.8" height="1.7"/><rect x="89.2" y="48.7" width="1.6" height="1.2"/><rect x="84.4" y="40.4" width="1.6" height="2.2"/><rect x="72.6" y="56.0" width="1.3" height="0.9"/><rect x="75.5" y="43.7" width="0.9" height="1.9"/><rect x="83.3" y="54.0" width="1.6" height="1.7"/><rect x="88.4" y="48.6" width="1.2" height="1.8"/><rect x="79.1" y="53.6" width="1.0" height="0.8"/><rect x="84.8" y="57.0" width="1.3" height="2.2"/><rect x="76.1" y="59.2" width="1.0" height="0.8"/><rect x="93.6" y="46.3" width="1.5" height="1.7"/><rect x="92.3" y="41.7" width="1.4" height="2.0"/><rect x="77.5" y="46.6" width="1.4" height="1.1"/><rect x="87.5" y="44.1" width="2.0" height="1.2"/><rect x="80.6" y="52.6" width="1.0" height="1.8"/><rect x="88.3" y="51.8" width="2.0" height="1.1"/><rect x="96.6" y="49.4" width="2.0" height="1.1"/><rect x="92.3" y="42.5" width="1.8" height="0.9"/><rect x="83.5" y="42.7" width="2.2" height="1.2"/><rect x="96.5" y="43.1" width="1.0" height="1.4"/><rect x="81.3" y="52.9" width="1.3" height="1.1"/><rect x="78.9" y="44.6" width="0.9" height="0.9"/><rect x="85.8" y="50.6" width="1.3" height="0.8"/><rect x="86.9" y="57.9" width="2.0" height="1.8"/><rect x="82.6" y="48.3" width="2.2" height="1.3"/><rect x="97.9" y="46.6" width="1.3" height="1.1"/><rect x="76.8" y="43.0" width="1.9" height="2.1"/><rect x="95.8" y="53.3" width="2.2" height="1.1"/><rect x="91.7" y="50.2" width="1.7" height="1.7"/><rect x="97.4" y="52.3" width="1.5" height="1.5"/><rect x="77.4" y="43.7" width="1.5" height="1.5"/><rect x="96.2" y="41.1" width="2.0" height="1.9"/><rect x="74.6" y="44.0" width="0.9" height="1.3"/><rect x="73.6" y="50.3" width="1.8" height="1.4"/><rect x="86.1" y="46.2" width="1.3" height="1.3"/><rect x="72.7" y="44.6" width="1.2" height="1.3"/><rect x="81.8" y="41.1" width="1.3" height="1.8"/><rect x="79.6" y="50.6" width="1.9" height="1.3"/><rect x="82.2" y="55.0" width="1.1" height="2.2"/><rect x="91.6" y="49.7" width="1.3" height="0.9"/><rect x="92.9" y="49.9" width="1.5" height="2.1"/><rect x="93.0" y="40.7" width="1.4" height="1.4"/><rect x="95.3" y="50.8" width="2.0" height="1.4"/><rect x="85.2" y="53.3" width="1.7" height="1.8"/><rect x="82.6" y="41.1" width="1.6" height="1.9"/><rect x="93.3" y="43.1" width="0.9" height="1.9"/><rect x="73.9" y="42.3" width="1.6" height="0.9"/><rect x="96.3" y="43.8" width="1.5" height="0.8"/><rect x="80.1" y="46.6" width="1.6" height="1.5"/><rect x="83.2" y="41.3" width="2.0" height="1.9"/><rect x="95.8" y="46.7" width="0.9" height="1.6"/><rect x="81.8" y="52.1" width="1.6" height="1.3"/><rect x="94.2" y="45.2" width="1.6" height="0.9"/><rect x="87.4" y="48.4" width="1.9" height="1.2"/><rect x="96.5" y="41.5" width="1.7" height="0.9"/><rect x="96.0" y="41.9" width="1.1" height="2.1"/><rect x="97.6" y="45.4" width="0.9" height="1.9"/><rect x="75.5" y="41.5" width="0.9" height="2.0"/><rect x="79.5" y="46.0" width="1.2" height="1.6"/><rect x="95.4" y="43.9" width="2.2" height="1.3"/><rect x="90.7" y="43.0" width="1.0" height="2.1"/><rect x="79.4" y="49.0" width="1.5" height="2.1"/><rect x="73.7" y="52.6" width="1.6" height="1.6"/><rect x="73.6" y="43.6" width="2.1" height="2.0"/><rect x="92.5" y="44.7" width="1.2" height="0.9"/><rect x="87.2" y="42.5" width="1.9" height="1.6"/><rect x="84.4" y="40.9" width="0.9" height="1.7"/><rect x="75.3" y="42.4" width="1.0" height="1.5"/><rect x="86.5" y="43.1" width="1.0" height="1.5"/><rect x="82.7" y="45.3" width="1.1" height="2.0"/><rect x="92.8" y="44.0" width="0.8" height="1.4"/><rect x="86.0" y="47.6" width="0.9" height="1.6"/><rect x="77.8" y="55.5" width="1.8" height="0.9"/><rect x="78.1" y="55.6" width="0.9" height="1.7"/><rect x="94.5" y="52.0" width="0.8" height="2.1"/><rect x="76.7" y="45.7" width="2.2" height="2.2"/><rect x="89.5" y="45.2" width="2.0" height="1.9"/><rect x="92.6" y="43.5" width="2.1" height="2.1"/><rect x="88.1" y="51.3" width="1.9" height="2.0"/><rect x="93.8" y="46.6" width="1.1" height="1.1"/><rect x="84.3" y="46.2" width="2.1" height="1.8"/><rect x="91.6" y="50.2" width="1.9" height="1.8"/><rect x="73.5" y="57.0" width="1.3" height="1.6"/><rect x="85.2" y="40.4" width="1.9" height="1.4"/><rect x="77.2" y="49.2" width="1.7" height="1.2"/><rect x="73.6" y="47.0" width="1.4" height="1.7"/><rect x="94.4" y="43.1" width="0.9" height="2.0"/><rect x="76.3" y="47.1" width="1.3" height="1.1"/><rect x="96.8" y="55.9" width="1.4" height="1.5"/><rect x="86.3" y="40.0" width="2.1" height="1.4"/><rect x="94.5" y="46.5" width="0.9" height="1.6"/><rect x="89.3" y="49.8" width="1.7" height="2.1"/><rect x="85.4" y="49.5" width="0.9" height="2.0"/><rect x="92.7" y="40.9" width="1.0" height="2.1"/><rect x="96.9" y="43.8" width="1.6" height="0.9"/><rect x="86.8" y="50.9" width="1.7" height="1.9"/><rect x="90.6" y="49.9" width="1.8" height="1.8"/><rect x="79.0" y="44.2" width="2.0" height="1.9"/><rect x="81.1" y="43.6" width="2.0" height="1.0"/><rect x="92.4" y="44.4" width="0.9" height="1.2"/><rect x="76.4" y="48.0" width="1.1" height="1.2"/><rect x="83.7" y="42.8" width="1.4" height="1.3"/><rect x="97.4" y="51.7" width="1.7" height="1.9"/><rect x="80.1" y="44.0" width="1.5" height="1.6"/><rect x="93.4" y="41.1" width="1.6" height="1.3"/><rect x="73.0" y="54.3" width="1.7" height="1.4"/><rect x="94.4" y="42.9" width="1.7" height="2.2"/><rect x="89.4" y="58.0" width="1.4" height="2.1"/><rect x="92.5" y="48.9" width="1.9" height="1.3"/><rect x="86.1" y="57.4" width="1.0" height="1.3"/><rect x="72.9" y="50.7" width="2.0" height="1.7"/><rect x="87.8" y="50.5" width="1.2" height="2.0"/><rect x="94.8" y="56.9" width="1.0" height="1.8"/><rect x="73.0" y="55.7" width="1.2" height="1.1"/><rect x="77.5" y="42.4" width="2.2" height="1.9"/><rect x="89.2" y="43.6" width="0.9" height="1.4"/><rect x="95.0" y="42.9" width="1.7" height="1.3"/><rect x="94.0" y="45.4" width="1.9" height="1.6"/><rect x="82.6" y="53.3" width="1.1" height="2.0"/><rect x="84.9" y="43.5" width="1.8" height="1.8"/><rect x="82.7" y="47.3" width="1.8" height="1.5"/><rect x="83.7" y="45.1" width="1.1" height="1.2"/><rect x="87.2" y="58.2" width="1.8" height="2.1"/><rect x="72.8" y="45.3" width="2.0" height="1.8"/><rect x="89.3" y="46.9" width="1.0" height="1.7"/><rect x="76.1" y="49.2" width="1.9" height="1.4"/><rect x="74.0" y="42.8" width="1.9" height="1.5"/><rect x="97.4" y="58.5" width="2.2" height="1.4"/><rect x="92.2" y="50.0" width="2.0" height="1.0"/><rect x="82.0" y="40.2" width="1.9" height="1.4"/><rect x="73.1" y="48.4" width="2.0" height="1.5"/><rect x="89.5" y="45.3" width="2.1" height="1.3"/><rect x="76.8" y="51.9" width="1.7" height="1.8"/><rect x="83.7" y="41.8" width="0.9" height="1.5"/><rect x="84.7" y="43.7" width="1.6" height="0.9"/><rect x="72.1" y="41.3" width="2.1" height="1.1"/><rect x="97.7" y="46.8" width="0.8" height="1.9"/><rect x="85.9" y="42.8" width="2.0" height="2.1"/><rect x="94.8" y="53.1" width="1.6" height="1.9"/><rect x="73.3" y="41.4" width="1.2" height="1.4"/><rect x="83.4" y="42.9" width="1.6" height="1.3"/><rect x="73.7" y="59.0" width="2.0" height="0.9"/><rect x="81.7" y="47.9" width="1.0" height="1.6"/><rect x="73.2" y="43.0" width="1.6" height="1.5"/><rect x="84.2" y="50.6" width="1.7" height="2.1"/><rect x="92.2" y="60.7" width="2.0" height="1.8"/><rect x="78.3" y="47.8" width="1.3" height="0.9"/><rect x="89.2" y="49.5" width="2.2" height="1.0"/><rect x="77.2" y="47.5" width="0.8" height="1.2"/><rect x="78.5" y="40.7" width="1.1" height="1.2"/><rect x="90.0" y="55.5" width="1.2" height="0.9"/><rect x="72.9" y="40.4" width="1.0" height="1.0"/><rect x="73.9" y="47.9" width="1.8" height="1.4"/><rect x="92.1" y="42.5" width="1.3" height="2.0"/><rect x="79.1" y="40.3" width="2.1" height="1.0"/><rect x="90.1" y="55.3" width="1.1" height="1.0"/><rect x="72.9" y="40.4" width="1.0" height="2.1"/><rect x="93.9" y="46.5" width="1.5" height="1.0"/><rect x="76.6" y="45.7" width="1.3" height="1.7"/><rect x="73.0" y="49.4" width="2.1" height="1.6"/><rect x="73.1" y="45.8" width="1.6" height="2.0"/><rect x="73.4" y="46.9" width="1.4" height="1.8"/><rect x="76.2" y="40.3" width="1.5" height="0.8"/><rect x="77.8" y="53.0" width="1.7" height="1.0"/><rect x="95.9" y="49.6" width="1.1" height="1.1"/><rect x="77.3" y="40.9" width="1.0" height="1.1"/><rect x="92.7" y="55.2" width="1.4" height="1.8"/><rect x="84.8" y="53.3" width="1.5" height="2.2"/><rect x="89.0" y="45.6" width="1.1" height="2.2"/><rect x="84.2" y="45.9" width="1.3" height="1.4"/><rect x="81.8" y="44.2" width="0.8" height="1.7"/></g></g><polygon points="67,38 75,35.5 88,92 72,92" fill="url(#beam)"/><polygon points="0.00,3.60 1.56,3.71 3.13,3.83 4.69,3.94 6.25,4.05 7.81,4.17 9.38,4.28 10.94,4.39 12.50,4.51 14.06,4.62 15.63,4.74 17.19,4.85 18.75,4.96 20.31,5.08 21.88,5.19 23.44,5.30 25.00,5.42 26.57,5.53 28.13,5.64 29.69,5.76 31.25,5.87 32.82,5.98 34.38,6.10 35.94,6.21 37.50,6.32 39.07,6.44 40.63,6.55 42.19,6.66 43.75,6.78 45.32,6.89 46.88,7.01 48.44,7.12 50.01,7.23 51.57,7.35 53.13,7.46 54.69,7.58 56.25,7.73 57.80,7.95 59.34,8.23 60.87,8.60 62.36,9.08 63.76,9.78 64.97,10.77 65.94,11.99 66.67,13.38 67.22,14.84 67.75,16.32 68.28,17.79 68.80,19.27 69.33,20.74 69.86,22.22 70.38,23.70 70.91,25.17 71.44,26.65 71.97,28.12 72.49,29.60 73.02,31.07 73.55,32.55 74.07,34.02 74.60,35.50 72.42,36.66 71.88,35.28 71.33,33.90 70.78,32.52 70.23,31.14 69.68,29.76 69.13,28.37 68.58,26.99 68.03,25.61 67.48,24.23 66.91,22.86 66.31,21.51 65.68,20.19 65.03,18.88 64.36,17.61 63.65,16.37 62.78,15.24 61.73,14.27 60.50,13.50 59.13,12.98 57.69,12.64 56.24,12.40 54.77,12.24 53.29,12.12 51.81,12.05 50.33,12.01 48.84,11.96 47.36,11.92 45.88,11.89 44.39,11.85 42.91,11.83 41.43,11.81 39.95,11.79 38.47,11.78 36.99,11.77 35.51,11.76 34.03,11.75 32.55,11.74 31.07,11.72 29.59,11.71 28.11,11.70 26.63,11.69 25.15,11.68 23.67,11.67 22.19,11.66 20.71,11.65 19.24,11.63 17.76,11.62 16.28,11.61 14.80,11.60 13.32,11.59 11.84,11.58 10.36,11.57 8.88,11.56 7.40,11.54 5.92,11.53 4.44,11.52 2.96,11.51 1.48,11.50 0.00,11.49" fill="#808082"/><polygon points="0.00,9.86 1.50,9.89 2.99,9.92 4.49,9.95 5.99,9.99 7.48,10.02 8.98,10.05 10.48,10.08 11.97,10.12 13.47,10.15 14.97,10.18 16.46,10.21 17.96,10.24 19.46,10.28 20.96,10.31 22.45,10.34 23.95,10.37 25.45,10.41 26.94,10.44 28.44,10.47 29.94,10.50 31.43,10.54 32.93,10.57 34.43,10.60 35.92,10.63 37.42,10.67 38.92,10.70 40.41,10.73 41.91,10.77 43.41,10.81 44.91,10.85 46.41,10.90 47.91,10.95 49.41,11.01 50.91,11.06 52.41,11.13 53.91,11.21 55.40,11.35 56.88,11.54 58.35,11.80 59.80,12.17 61.17,12.73 62.40,13.54 63.43,14.57 64.27,15.75 64.95,17.04 65.60,18.35 66.22,19.69 66.82,21.05 67.41,22.43 67.97,23.82 68.52,25.22 69.06,26.62 69.61,28.02 70.15,29.42 70.70,30.82 71.24,32.22 71.79,33.62 72.33,35.02 72.88,36.42 71.00,37.42 70.44,36.10 69.87,34.78 69.31,33.46 68.74,32.14 68.18,30.83 67.62,29.51 67.05,28.19 66.49,26.87 65.92,25.55 65.32,24.25 64.67,22.99 63.99,21.75 63.25,20.56 62.48,19.42 61.66,18.33 60.71,17.37 59.61,16.56 58.36,15.94 57.02,15.53 55.62,15.28 54.20,15.13 52.78,15.05 51.36,15.00 49.93,14.98 48.49,14.98 47.06,14.99 45.63,14.99 44.20,15.01 42.77,15.03 41.34,15.06 39.91,15.10 38.48,15.15 37.06,15.21 35.63,15.26 34.21,15.32 32.78,15.37 31.36,15.43 29.93,15.49 28.50,15.54 27.08,15.60 25.65,15.65 24.23,15.71 22.80,15.76 21.38,15.82 19.95,15.88 18.53,15.93 17.10,15.99 15.68,16.04 14.25,16.10 12.83,16.15 11.40,16.21 9.98,16.27 8.55,16.32 7.13,16.38 5.70,16.43 4.28,16.49 2.85,16.54 1.43,16.60 0.00,16.66" fill="#fafafa"/><polygon points="0.00,15.02 1.44,14.99 2.88,14.95 4.33,14.92 5.77,14.89 7.21,14.85 8.65,14.82 10.10,14.78 11.54,14.75 12.98,14.71 14.42,14.68 15.87,14.64 17.31,14.61 18.75,14.57 20.19,14.54 21.64,14.51 23.08,14.47 24.52,14.44 25.96,14.40 27.41,14.37 28.85,14.33 30.29,14.30 31.73,14.26 33.18,14.23 34.62,14.19 36.06,14.16 37.50,14.12 38.95,14.09 40.39,14.06 41.83,14.04 43.28,14.03 44.73,14.02 46.17,14.02 47.62,14.03 49.07,14.04 50.52,14.06 51.97,14.09 53.41,14.16 54.85,14.27 56.27,14.45 57.68,14.72 59.04,15.17 60.28,15.83 61.36,16.70 62.29,17.72 63.08,18.85 63.82,20.03 64.52,21.26 65.19,22.52 65.82,23.81 66.41,25.14 66.97,26.47 67.53,27.81 68.09,29.15 68.65,30.49 69.21,31.83 69.77,33.16 70.33,34.50 70.89,35.84 71.45,37.18 70.47,37.70 69.91,36.40 69.34,35.11 68.77,33.81 68.20,32.52 67.63,31.22 67.06,29.92 66.49,28.63 65.92,27.33 65.34,26.04 64.73,24.77 64.07,23.53 63.36,22.33 62.60,21.18 61.79,20.09 60.93,19.06 59.95,18.15 58.83,17.40 57.58,16.84 56.24,16.47 54.85,16.26 53.45,16.14 52.05,16.08 50.64,16.06 49.23,16.06 47.82,16.08 46.40,16.10 44.99,16.13 43.58,16.16 42.17,16.20 40.76,16.26 39.35,16.32 37.94,16.39 36.54,16.47 35.13,16.55 33.72,16.63 32.32,16.71 30.91,16.79 29.51,16.87 28.10,16.95 26.70,17.03 25.29,17.11 23.89,17.19 22.48,17.27 21.08,17.35 19.67,17.43 18.27,17.51 16.86,17.59 15.46,17.68 14.05,17.76 12.65,17.84 11.24,17.92 9.84,18.00 8.43,18.08 7.03,18.16 5.62,18.24 4.22,18.32 2.81,18.40 1.41,18.48 0.00,18.56" fill="#6a6a6c"/><polygon points="0.00,16.93 1.42,16.87 2.84,16.81 4.27,16.75 5.69,16.69 7.11,16.63 8.53,16.57 9.96,16.51 11.38,16.45 12.80,16.39 14.22,16.34 15.65,16.28 17.07,16.22 18.49,16.16 19.91,16.10 21.34,16.04 22.76,15.98 24.18,15.92 25.60,15.86 27.03,15.80 28.45,15.74 29.87,15.68 31.29,15.62 32.71,15.56 34.14,15.51 35.56,15.45 36.98,15.39 38.40,15.33 39.83,15.28 41.25,15.23 42.68,15.20 44.11,15.17 45.54,15.16 46.97,15.15 48.40,15.14 49.83,15.14 51.25,15.15 52.68,15.20 54.10,15.28 55.51,15.42 56.90,15.66 58.25,16.07 59.50,16.68 60.60,17.48 61.56,18.44 62.39,19.51 63.16,20.65 63.90,21.84 64.59,23.06 65.24,24.33 65.84,25.62 66.41,26.93 66.97,28.25 67.54,29.57 68.10,30.88 68.67,32.20 69.23,33.51 69.80,34.83 70.36,36.14 70.92,37.46 68.38,38.82 67.78,37.62 67.19,36.41 66.60,35.21 66.01,34.00 65.42,32.80 64.83,31.59 64.24,30.39 63.64,29.18 63.05,27.98 62.39,26.81 61.66,25.69 60.86,24.64 59.98,23.66 59.03,22.76 58.01,21.95 56.90,21.29 55.70,20.78 54.43,20.43 53.12,20.23 51.79,20.15 50.46,20.17 49.12,20.23 47.79,20.30 46.45,20.38 45.11,20.47 43.77,20.56 42.44,20.65 41.10,20.76 39.77,20.88 38.43,21.02 37.10,21.17 35.78,21.34 34.45,21.52 33.13,21.70 31.80,21.88 30.48,22.06 29.15,22.23 27.83,22.41 26.50,22.59 25.18,22.77 23.85,22.95 22.53,23.13 21.20,23.31 19.88,23.49 18.55,23.67 17.23,23.85 15.90,24.03 14.58,24.21 13.25,24.38 11.93,24.56 10.60,24.74 9.28,24.92 7.95,25.10 6.63,25.28 5.30,25.46 3.98,25.64 2.65,25.82 1.33,26.00 0.00,26.18" fill="#444446"/><polygon points="0.00,24.54 1.34,24.39 2.68,24.23 4.03,24.07 5.37,23.91 6.71,23.75 8.05,23.60 9.40,23.44 10.74,23.28 12.08,23.12 13.42,22.96 14.76,22.81 16.11,22.65 17.45,22.49 18.79,22.33 20.13,22.17 21.48,22.02 22.82,21.86 24.16,21.70 25.50,21.54 26.84,21.38 28.19,21.23 29.53,21.07 30.87,20.91 32.21,20.75 33.56,20.59 34.90,20.44 36.24,20.28 37.58,20.13 38.93,20.00 40.28,19.88 41.63,19.78 42.98,19.68 44.34,19.61 45.69,19.53 47.04,19.46 48.40,19.39 49.75,19.34 51.10,19.30 52.45,19.32 53.79,19.42 55.11,19.66 56.37,20.06 57.55,20.62 58.64,21.33 59.62,22.18 60.54,23.13 61.39,24.14 62.18,25.23 62.90,26.37 63.54,27.56 64.13,28.79 64.72,30.01 65.31,31.23 65.89,32.46 66.48,33.68 67.07,34.91 67.65,36.13 68.24,37.36 68.82,38.58 67.10,39.50 66.50,38.35 65.89,37.20 65.29,36.05 64.68,34.90 64.08,33.75 63.47,32.60 62.87,31.45 62.26,30.31 61.65,29.16 60.97,28.05 60.20,27.01 59.34,26.04 58.39,25.16 57.35,24.38 56.24,23.71 55.05,23.19 53.80,22.83 52.52,22.61 51.23,22.51 49.93,22.52 48.64,22.61 47.34,22.74 46.05,22.87 44.76,23.01 43.47,23.14 42.18,23.27 40.88,23.40 39.60,23.56 38.31,23.73 37.02,23.92 35.74,24.12 34.46,24.35 33.19,24.58 31.91,24.82 30.63,25.06 29.36,25.30 28.08,25.54 26.80,25.78 25.53,26.02 24.25,26.26 22.97,26.50 21.70,26.74 20.42,26.97 19.15,27.21 17.87,27.45 16.59,27.69 15.32,27.93 14.04,28.17 12.76,28.41 11.49,28.65 10.21,28.89 8.93,29.13 7.66,29.37 6.38,29.60 5.11,29.84 3.83,30.08 2.55,30.32 1.28,30.56 0.00,30.80" fill="#6c6c6e"/><line x1="16" y1="4.5" x2="16.5" y2="28" stroke="#d8d8d8" stroke-width="0.5"/><rect x="0.3" y="0.3" width="131.4" height="131.4" fill="none" stroke="#000" stroke-opacity="0.07" stroke-width="0.8"/></g><circle cx="26.3" cy="132.2" r="11.75" fill="#8fd400" stroke="#fff" stroke-width="2.5"/><circle cx="42.3" cy="132.2" r="11.75" fill="#b9cae9" stroke="#fff" stroke-width="2.5"/><circle cx="58.3" cy="132.2" r="11.75" fill="#f6c5dd" stroke="#fff" stroke-width="2.5"/></svg></div>
<div class="cap" style="left:523px;top:138.0px">Removal of<br>extrinsic stains</div>
<div class="cell" style="left:677px;top:137px"><svg width="132" height="132" viewBox="0 0 132 132"><g clip-path="url(#cb)"><rect width="132" height="132" fill="url(#bgV)"/><ellipse cx="48" cy="102" rx="50" ry="40" fill="url(#glow)"/><g transform="translate(0.0,0.0)"><path d="M9.4,132 L11.8,77 Q13,72.2 17.3,72.2 Q24,72.2 27,82 L29,132 Z" fill="url(#gumRL)"/><path d="M13.8,132 L16.5,90 Q17.3,85.6 18.3,85.6 Q20,85.6 22,92 L27,132 Z" fill="url(#bone)"/><path d="M66,132 L68,82 Q72,72.7 79,72.7 Q86,72.7 87.9,77 L86.9,132 Z" fill="url(#gumRR)"/><path d="M68,132 L75,96 Q78.5,87.6 81,87.6 Q82.5,87.6 83,92 L83.5,132 Z" fill="url(#bone)"/></g><g transform="translate(1.0,0.0)"><path d="M22.3,66 C20.8,55 24,43.5 32,41.2 C38,40.2 43,43 46.7,45.5 C51,42.6 57,40.2 63,40.8 C71,43 73.3,55 72.2,64 C71.6,72 69.5,78 68.8,86 L65.5,132 L28.5,132 L25,86 C24.2,78 22.8,72 22.3,66 Z" fill="#ffffff"/><path d="M24.2,66 C23.6,61 23.6,57 24.2,54.5 C32,52.5 40,53 46.7,53.8 C56,54.5 64,57 70.6,60.5 C70.8,62 70.7,63 70.5,64 C70,72 67.8,78 67,86 L63.8,132 L30.2,132 L26.8,86 C26,78 24.5,72 24.2,66 Z" fill="#fdf2e2"/><path d="M30.6,63.2 Q31,63 32,63 Q46.9,64.6 62,63 Q63,63 63.4,63.2 L63.2,82 Q64.6,95 64.4,104 Q63.5,110 61.7,116 Q59.8,110 58.8,104 Q57.8,94 56,89 Q52,81.5 46.9,81.2 Q41.8,81.5 37.8,89 Q36,94 35,104 Q34,110 31.6,116 Q29.8,110 29.4,104 Q29.2,95 30.8,82 Z" fill="#f5d6e0"/><path d="M31.8,64.4 Q46.9,66 62.2,64.4 L62,82 Q63.3,95 63.1,104 Q62.6,108 61.7,112 Q60.8,108 60.2,104 Q59.2,94 57.3,88.5 Q53,80 46.9,79.8 Q40.8,80 36.5,88.5 Q34.6,94 33.6,104 Q33,108 31.8,112 Q30.8,108 30.6,104 Q30.5,95 32,82 Z" fill="#e3a0b7"/><path d="M35,132 L37.5,96 Q38.5,86.5 46.9,86.5 Q55.3,86.5 56.3,96 L58.8,132 Z" fill="#f8fafc"/><path d="M37,132 L39.7,97 Q40.5,90.6 46.9,90.6 Q53.3,90.6 54.1,97 L56.8,132 Z" fill="#e9845f"/><path d="M39.3,132 L41.8,98.5 Q42.5,93.3 46.9,93.3 Q51.3,93.3 52,98.5 L54.5,132 Z" fill="url(#bone)"/></g><linearGradient id="sp2" gradientUnits="userSpaceOnUse" x1="88.5" y1="48.0" x2="77.5" y2="72.5"><stop offset="0" stop-color="#f6fbee" stop-opacity="0.60"/><stop offset="1" stop-color="#f6fbee" stop-opacity="0.10"/></linearGradient><polygon points="85.3,46.6 74.0,71.0 81.0,74.0 91.7,49.4" fill="url(#sp2)"/><polygon points="83.50,44.00 84.13,42.89 84.75,41.78 85.38,40.67 86.01,39.56 86.63,38.45 87.26,37.34 87.89,36.23 88.51,35.12 89.14,34.01 89.77,32.90 90.39,31.79 91.02,30.68 91.65,29.57 92.27,28.46 92.90,27.35 93.53,26.24 94.15,25.13 94.78,24.02 95.41,22.91 96.03,21.80 96.66,20.69 97.29,19.58 97.91,18.47 98.54,17.36 99.17,16.25 99.80,15.15 100.55,14.12 101.42,13.19 102.40,12.37 103.48,11.69 104.61,11.10 105.77,10.57 106.97,10.15 108.20,9.82 109.45,9.56 110.71,9.37 111.97,9.23 113.25,9.15 114.52,9.10 115.79,9.06 117.07,9.02 118.34,8.98 119.62,8.94 120.89,8.90 122.16,8.86 123.44,8.82 124.71,8.78 125.99,8.74 127.26,8.70 128.53,8.66 129.81,8.62 131.08,8.58 132.36,8.54 133.63,8.50 134.90,8.46 136.18,8.42 137.45,8.38 138.73,8.34 140.00,8.30 140.00,13.53 138.81,13.53 137.61,13.54 136.42,13.55 135.23,13.56 134.03,13.57 132.84,13.58 131.64,13.59 130.45,13.60 129.26,13.61 128.06,13.62 126.87,13.63 125.68,13.64 124.48,13.65 123.29,13.66 122.10,13.67 120.90,13.68 119.71,13.69 118.51,13.70 117.32,13.71 116.13,13.72 114.93,13.74 113.74,13.79 112.55,13.88 111.37,14.01 110.19,14.21 109.03,14.46 107.89,14.79 106.78,15.20 105.70,15.68 104.66,16.22 103.69,16.89 102.81,17.67 102.04,18.55 101.36,19.51 100.70,20.48 100.05,21.47 99.41,22.47 98.78,23.48 98.16,24.50 97.54,25.52 96.93,26.55 96.32,27.57 95.71,28.60 95.10,29.62 94.49,30.65 93.87,31.67 93.26,32.70 92.65,33.72 92.04,34.75 91.43,35.77 90.82,36.80 90.21,37.82 89.59,38.85 88.98,39.87 88.37,40.90 87.76,41.92 87.15,42.95 86.54,43.97 85.92,45.00" fill="#909092"/><polygon points="85.34,44.76 85.96,43.71 86.57,42.67 87.19,41.62 87.80,40.58 88.42,39.53 89.03,38.49 89.65,37.44 90.26,36.40 90.88,35.35 91.49,34.31 92.11,33.26 92.72,32.21 93.34,31.17 93.95,30.12 94.57,29.08 95.18,28.03 95.80,26.99 96.41,25.94 97.03,24.90 97.65,23.85 98.27,22.81 98.90,21.78 99.54,20.75 100.18,19.73 100.83,18.72 101.50,17.73 102.27,16.82 103.14,16.00 104.12,15.30 105.17,14.72 106.26,14.22 107.38,13.78 108.54,13.43 109.71,13.15 110.91,12.94 112.11,12.80 113.32,12.69 114.53,12.63 115.74,12.61 116.95,12.59 118.17,12.57 119.38,12.56 120.59,12.54 121.81,12.52 123.02,12.51 124.23,12.49 125.44,12.47 126.66,12.46 127.87,12.44 129.08,12.42 130.30,12.41 131.51,12.39 132.72,12.37 133.94,12.36 135.15,12.34 136.36,12.32 137.57,12.30 138.79,12.29 140.00,12.27 140.00,17.70 138.87,17.69 137.74,17.68 136.61,17.66 135.48,17.65 134.35,17.63 133.22,17.62 132.09,17.60 130.97,17.59 129.84,17.57 128.71,17.56 127.58,17.54 126.45,17.53 125.32,17.51 124.19,17.50 123.06,17.48 121.93,17.47 120.80,17.46 119.67,17.44 118.54,17.43 117.41,17.41 116.28,17.41 115.16,17.43 114.03,17.49 112.91,17.58 111.79,17.72 110.68,17.91 109.59,18.17 108.52,18.49 107.48,18.86 106.46,19.30 105.50,19.85 104.62,20.51 103.83,21.27 103.11,22.11 102.42,22.98 101.76,23.87 101.11,24.79 100.47,25.72 99.86,26.66 99.25,27.61 98.65,28.57 98.05,29.53 97.45,30.49 96.85,31.44 96.26,32.40 95.66,33.36 95.06,34.31 94.46,35.27 93.86,36.23 93.26,37.19 92.66,38.14 92.06,39.10 91.46,40.06 90.86,41.01 90.26,41.97 89.66,42.93 89.06,43.89 88.46,44.84 87.86,45.80" fill="#fcfcfc"/><polygon points="87.28,45.56 87.89,44.58 88.49,43.60 89.09,42.63 89.69,41.65 90.30,40.67 90.90,39.69 91.50,38.72 92.11,37.74 92.71,36.76 93.31,35.78 93.92,34.81 94.52,33.83 95.12,32.85 95.72,31.87 96.33,30.90 96.93,29.92 97.53,28.94 98.14,27.96 98.74,26.99 99.35,26.01 99.97,25.05 100.60,24.09 101.24,23.15 101.91,22.23 102.59,21.33 103.29,20.46 104.08,19.66 104.96,18.96 105.92,18.38 106.94,17.91 108.00,17.50 109.08,17.15 110.19,16.88 111.31,16.67 112.44,16.51 113.59,16.41 114.73,16.34 115.88,16.31 117.03,16.30 118.18,16.31 119.32,16.32 120.47,16.32 121.62,16.33 122.77,16.34 123.92,16.35 125.07,16.35 126.22,16.36 127.37,16.37 128.51,16.38 129.66,16.38 130.81,16.39 131.96,16.40 133.11,16.41 134.26,16.41 135.41,16.42 136.55,16.43 137.70,16.44 138.85,16.44 140.00,16.45 140.00,20.21 138.91,20.18 137.82,20.15 136.73,20.13 135.64,20.10 134.55,20.07 133.46,20.04 132.36,20.01 131.27,19.98 130.18,19.95 129.09,19.92 128.00,19.89 126.91,19.86 125.82,19.83 124.73,19.80 123.64,19.77 122.55,19.75 121.46,19.72 120.37,19.69 119.28,19.66 118.19,19.63 117.09,19.61 116.00,19.62 114.91,19.65 113.83,19.72 112.75,19.83 111.67,19.99 110.61,20.19 109.57,20.46 108.54,20.78 107.54,21.15 106.59,21.63 105.71,22.22 104.90,22.91 104.17,23.67 103.46,24.48 102.78,25.31 102.13,26.18 101.49,27.06 100.88,27.96 100.28,28.87 99.69,29.78 99.09,30.70 98.50,31.62 97.91,32.53 97.32,33.45 96.73,34.37 96.13,35.28 95.54,36.20 94.95,37.12 94.36,38.03 93.77,38.95 93.17,39.87 92.58,40.78 91.99,41.70 91.40,42.61 90.81,43.53 90.21,44.45 89.62,45.36 89.03,46.28" fill="#727274"/><polygon points="88.45,46.04 89.04,45.10 89.64,44.17 90.23,43.23 90.83,42.29 91.43,41.36 92.02,40.42 92.62,39.48 93.21,38.55 93.81,37.61 94.40,36.67 95.00,35.74 95.60,34.80 96.19,33.86 96.79,32.93 97.38,31.99 97.98,31.05 98.57,30.11 99.17,29.18 99.77,28.24 100.37,27.31 100.98,26.39 101.62,25.48 102.27,24.59 102.94,23.73 103.64,22.89 104.36,22.09 105.16,21.36 106.05,20.74 107.00,20.22 108.01,19.82 109.05,19.47 110.10,19.18 111.18,18.95 112.27,18.78 113.37,18.65 114.47,18.57 115.58,18.52 116.69,18.51 117.80,18.52 118.91,18.54 120.02,18.56 121.13,18.59 122.24,18.61 123.35,18.63 124.46,18.65 125.57,18.67 126.68,18.70 127.79,18.72 128.90,18.74 130.01,18.76 131.12,18.78 132.23,18.81 133.34,18.83 134.45,18.85 135.56,18.87 136.67,18.89 137.78,18.92 138.89,18.94 140.00,18.96 140.00,26.90 139.01,26.83 138.02,26.77 137.04,26.70 136.05,26.63 135.06,26.56 134.07,26.49 133.09,26.43 132.10,26.36 131.11,26.29 130.12,26.22 129.13,26.15 128.15,26.09 127.16,26.02 126.17,25.95 125.18,25.88 124.19,25.81 123.21,25.75 122.22,25.68 121.23,25.61 120.24,25.54 119.25,25.49 118.27,25.45 117.28,25.43 116.29,25.43 115.30,25.46 114.31,25.51 113.33,25.59 112.36,25.72 111.39,25.87 110.43,26.07 109.49,26.37 108.60,26.76 107.76,27.27 106.97,27.84 106.22,28.48 105.51,29.16 104.84,29.88 104.21,30.63 103.60,31.41 103.01,32.21 102.44,33.02 101.87,33.83 101.30,34.64 100.72,35.44 100.15,36.25 99.58,37.06 99.00,37.87 98.43,38.68 97.86,39.48 97.29,40.29 96.71,41.10 96.14,41.91 95.57,42.71 95.00,43.52 94.42,44.33 93.85,45.14 93.28,45.94 92.71,46.75 92.13,47.56" fill="#525254"/><polygon points="91.55,47.32 92.13,46.49 92.70,45.66 93.28,44.84 93.86,44.01 94.43,43.18 95.01,42.35 95.58,41.52 96.16,40.70 96.74,39.87 97.31,39.04 97.89,38.21 98.47,37.38 99.04,36.55 99.62,35.73 100.20,34.90 100.77,34.07 101.35,33.24 101.92,32.41 102.50,31.59 103.09,30.77 103.70,29.96 104.33,29.19 105.00,28.44 105.71,27.73 106.45,27.06 107.22,26.45 108.06,25.91 108.95,25.48 109.89,25.15 110.85,24.92 111.83,24.73 112.82,24.58 113.82,24.47 114.82,24.40 115.83,24.36 116.83,24.35 117.84,24.36 118.85,24.39 119.86,24.44 120.86,24.49 121.87,24.55 122.88,24.61 123.89,24.68 124.89,24.74 125.90,24.80 126.91,24.86 127.91,24.92 128.92,24.98 129.93,25.04 130.94,25.10 131.94,25.16 132.95,25.22 133.96,25.28 134.96,25.34 135.97,25.40 136.98,25.46 137.99,25.53 138.99,25.59 140.00,25.65 140.00,29.20 139.05,29.12 138.10,29.04 137.14,28.96 136.19,28.87 135.24,28.79 134.29,28.71 133.33,28.63 132.38,28.55 131.43,28.47 130.48,28.39 129.52,28.31 128.57,28.22 127.62,28.14 126.67,28.06 125.71,27.98 124.76,27.90 123.81,27.82 122.86,27.74 121.90,27.66 120.95,27.58 120.00,27.51 119.04,27.45 118.09,27.41 117.13,27.39 116.18,27.39 115.22,27.41 114.27,27.45 113.31,27.52 112.36,27.63 111.42,27.77 110.49,28.00 109.59,28.33 108.74,28.76 107.94,29.27 107.17,29.85 106.45,30.48 105.78,31.15 105.14,31.86 104.53,32.60 103.95,33.36 103.39,34.13 102.82,34.90 102.26,35.67 101.69,36.44 101.12,37.22 100.56,37.99 99.99,38.76 99.43,39.53 98.86,40.30 98.29,41.07 97.73,41.84 97.16,42.61 96.60,43.38 96.03,44.15 95.46,44.92 94.90,45.69 94.33,46.46 93.77,47.23 93.20,48.00" fill="#646466"/><rect x="0.3" y="0.3" width="131.4" height="131.4" fill="none" stroke="#000" stroke-opacity="0.07" stroke-width="0.8"/></g><circle cx="26.3" cy="132.2" r="11.75" fill="#f6c5dd" stroke="#fff" stroke-width="2.5"/></svg></div>
<div class="cap" style="left:831px;top:138.0px">Removal of<br>subgingival<br>biofilm</div>
<div class="cell" style="left:61px;top:324px"><svg width="132" height="132" viewBox="0 0 132 132"><g clip-path="url(#cb)"><rect width="132" height="132" fill="url(#bgV)"/><ellipse cx="48" cy="102" rx="50" ry="40" fill="url(#glow)"/><g transform="translate(0.0,0.0)"><path d="M9.4,132 L11.8,77 Q13,72.2 17.3,72.2 Q24,72.2 27,82 L29,132 Z" fill="url(#gumRL)"/><path d="M13.8,132 L16.5,90 Q17.3,85.6 18.3,85.6 Q20,85.6 22,92 L27,132 Z" fill="url(#bone)"/><path d="M66,132 L68,82 Q72,72.7 79,72.7 Q86,72.7 87.9,77 L86.9,132 Z" fill="url(#gumRR)"/><path d="M68,132 L75,96 Q78.5,87.6 81,87.6 Q82.5,87.6 83,92 L83.5,132 Z" fill="url(#bone)"/></g><g transform="translate(0.5,3.5)"><path d="M22.3,66 C20.8,55 24,43.5 32,41.2 C38,40.2 43,43 46.7,45.5 C51,42.6 57,40.2 63,40.8 C71,43 73.3,55 72.2,64 C71.6,72 69.5,78 68.8,86 L65.5,132 L28.5,132 L25,86 C24.2,78 22.8,72 22.3,66 Z" fill="#ffffff"/><path d="M24.2,66 C23.6,61 23.6,57 24.2,54.5 C32,52.5 40,53 46.7,53.8 C56,54.5 64,57 70.6,60.5 C70.8,62 70.7,63 70.5,64 C70,72 67.8,78 67,86 L63.8,132 L30.2,132 L26.8,86 C26,78 24.5,72 24.2,66 Z" fill="#fdf2e2"/><path d="M30.6,63.2 Q31,63 32,63 Q46.9,64.6 62,63 Q63,63 63.4,63.2 L63.2,82 Q64.6,95 64.4,104 Q63.5,110 61.7,116 Q59.8,110 58.8,104 Q57.8,94 56,89 Q52,81.5 46.9,81.2 Q41.8,81.5 37.8,89 Q36,94 35,104 Q34,110 31.6,116 Q29.8,110 29.4,104 Q29.2,95 30.8,82 Z" fill="#f5d6e0"/><path d="M31.8,64.4 Q46.9,66 62.2,64.4 L62,82 Q63.3,95 63.1,104 Q62.6,108 61.7,112 Q60.8,108 60.2,104 Q59.2,94 57.3,88.5 Q53,80 46.9,79.8 Q40.8,80 36.5,88.5 Q34.6,94 33.6,104 Q33,108 31.8,112 Q30.8,108 30.6,104 Q30.5,95 32,82 Z" fill="#e3a0b7"/><path d="M35,132 L37.5,96 Q38.5,86.5 46.9,86.5 Q55.3,86.5 56.3,96 L58.8,132 Z" fill="#f8fafc"/><path d="M37,132 L39.7,97 Q40.5,90.6 46.9,90.6 Q53.3,90.6 54.1,97 L56.8,132 Z" fill="#e9845f"/><path d="M39.3,132 L41.8,98.5 Q42.5,93.3 46.9,93.3 Q51.3,93.3 52,98.5 L54.5,132 Z" fill="url(#bone)"/></g><polygon points="81.5,57.0 83.0,57.5 70.5,85.0 69.3,84.5" fill="#f4fae8" fill-opacity="0.60"/><ellipse cx="70" cy="84" rx="5" ry="4" fill="#fff" fill-opacity="0.35"/><polygon points="81.90,46.10 82.46,45.04 83.02,43.97 83.58,42.91 84.13,41.85 84.69,40.79 85.25,39.72 85.81,38.66 86.37,37.60 86.93,36.54 87.49,35.47 88.05,34.41 88.60,33.35 89.16,32.29 89.72,31.22 90.28,30.16 90.84,29.10 91.48,28.08 92.22,27.14 93.06,26.29 94.01,25.55 95.05,24.95 96.15,24.47 97.29,24.09 98.45,23.78 99.62,23.53 100.80,23.31 101.99,23.13 103.17,22.96 104.36,22.79 105.55,22.61 106.74,22.44 107.93,22.27 109.11,22.09 110.30,21.92 111.49,21.75 112.68,21.58 113.87,21.40 115.05,21.23 116.24,21.06 117.43,20.88 118.62,20.71 119.81,20.54 120.99,20.37 122.18,20.19 123.37,20.02 124.56,19.85 125.74,19.67 126.93,19.50 128.12,19.33 129.31,19.16 130.50,18.98 131.68,18.81 132.87,18.64 134.06,18.46 135.25,18.29 136.44,18.12 137.62,17.95 138.81,17.77 140.00,17.60 140.00,23.00 138.87,23.11 137.74,23.21 136.61,23.32 135.47,23.42 134.34,23.53 133.21,23.64 132.08,23.74 130.95,23.85 129.82,23.95 128.68,24.06 127.55,24.17 126.42,24.27 125.29,24.38 124.16,24.49 123.03,24.59 121.90,24.70 120.76,24.80 119.63,24.91 118.50,25.02 117.37,25.12 116.24,25.23 115.11,25.33 113.97,25.44 112.84,25.55 111.71,25.65 110.58,25.76 109.45,25.86 108.32,25.97 107.19,26.08 106.05,26.18 104.92,26.29 103.79,26.39 102.66,26.51 101.53,26.65 100.41,26.82 99.30,27.03 98.21,27.31 97.14,27.65 96.12,28.10 95.17,28.66 94.29,29.31 93.50,30.05 92.79,30.87 92.14,31.76 91.52,32.68 90.92,33.63 90.33,34.60 89.76,35.59 89.20,36.58 88.64,37.58 88.09,38.57 87.53,39.57 86.98,40.57 86.42,41.57 85.87,42.56 85.31,43.56 84.76,44.56 84.20,45.55 83.65,46.55" fill="#909092"/><polygon points="83.23,46.44 83.79,45.43 84.34,44.42 84.90,43.40 85.45,42.39 86.01,41.38 86.56,40.37 87.12,39.35 87.68,38.34 88.23,37.33 88.79,36.32 89.35,35.30 89.91,34.30 90.49,33.31 91.09,32.33 91.70,31.37 92.32,30.44 93.01,29.57 93.79,28.79 94.66,28.09 95.61,27.49 96.64,27.00 97.71,26.63 98.82,26.33 99.94,26.09 101.07,25.90 102.21,25.74 103.36,25.61 104.50,25.49 105.65,25.37 106.79,25.24 107.94,25.12 109.08,25.00 110.23,24.88 111.37,24.76 112.52,24.63 113.66,24.51 114.81,24.39 115.95,24.27 117.10,24.15 118.24,24.02 119.39,23.90 120.53,23.78 121.68,23.66 122.82,23.54 123.97,23.41 125.11,23.29 126.26,23.17 127.40,23.05 128.55,22.93 129.69,22.80 130.84,22.68 131.98,22.56 133.13,22.44 134.27,22.31 135.42,22.19 136.56,22.07 137.71,21.95 138.85,21.83 140.00,21.70 140.00,27.32 138.91,27.37 137.83,27.43 136.74,27.48 135.65,27.53 134.57,27.58 133.48,27.64 132.40,27.69 131.31,27.74 130.22,27.79 129.14,27.85 128.05,27.90 126.96,27.95 125.88,28.00 124.79,28.06 123.70,28.11 122.62,28.16 121.53,28.22 120.44,28.27 119.36,28.32 118.27,28.37 117.19,28.43 116.10,28.48 115.01,28.53 113.93,28.58 112.84,28.64 111.75,28.69 110.67,28.74 109.58,28.79 108.49,28.85 107.41,28.90 106.32,28.95 105.23,29.01 104.15,29.06 103.07,29.14 101.99,29.25 100.92,29.39 99.86,29.57 98.81,29.82 97.81,30.14 96.85,30.56 95.95,31.05 95.11,31.62 94.34,32.28 93.63,33.03 92.96,33.85 92.32,34.71 91.71,35.60 91.12,36.53 90.56,37.47 90.01,38.41 89.46,39.35 88.91,40.30 88.36,41.24 87.81,42.19 87.26,43.13 86.70,44.08 86.15,45.02 85.60,45.97 85.05,46.91" fill="#fcfcfc"/><polygon points="84.63,46.80 85.18,45.84 85.73,44.88 86.29,43.92 86.84,42.96 87.39,42.00 87.94,41.04 88.50,40.08 89.05,39.12 89.60,38.16 90.15,37.20 90.71,36.24 91.29,35.30 91.90,34.39 92.53,33.50 93.19,32.65 93.88,31.85 94.63,31.14 95.46,30.53 96.35,29.99 97.30,29.53 98.31,29.17 99.36,28.89 100.43,28.68 101.52,28.52 102.61,28.39 103.70,28.30 104.80,28.22 105.90,28.15 107.00,28.08 108.10,28.02 109.20,27.95 110.30,27.88 111.40,27.81 112.50,27.74 113.60,27.67 114.70,27.60 115.80,27.54 116.90,27.47 118.00,27.40 119.10,27.33 120.20,27.26 121.30,27.19 122.40,27.12 123.50,27.05 124.60,26.99 125.70,26.92 126.80,26.85 127.90,26.78 129.00,26.71 130.10,26.64 131.20,26.57 132.30,26.50 133.40,26.44 134.50,26.37 135.60,26.30 136.70,26.23 137.80,26.16 138.90,26.09 140.00,26.02 140.00,29.91 138.94,29.93 137.88,29.95 136.82,29.97 135.76,29.99 134.70,30.02 133.64,30.04 132.58,30.06 131.53,30.08 130.47,30.10 129.41,30.12 128.35,30.14 127.29,30.16 126.23,30.18 125.17,30.20 124.11,30.22 123.05,30.24 121.99,30.26 120.93,30.28 119.87,30.30 118.81,30.32 117.75,30.35 116.69,30.37 115.64,30.39 114.58,30.41 113.52,30.43 112.46,30.45 111.40,30.47 110.34,30.49 109.28,30.51 108.22,30.53 107.16,30.55 106.10,30.57 105.04,30.60 103.99,30.64 102.93,30.70 101.88,30.80 100.84,30.93 99.82,31.12 98.82,31.37 97.86,31.69 96.95,32.09 96.08,32.56 95.28,33.12 94.53,33.80 93.82,34.55 93.16,35.35 92.53,36.21 91.94,37.09 91.39,38.00 90.84,38.91 90.29,39.82 89.74,40.73 89.19,41.65 88.64,42.56 88.09,43.47 87.54,44.39 86.99,45.30 86.44,46.21 85.89,47.13" fill="#727274"/><polygon points="85.47,47.02 86.02,46.09 86.57,45.16 87.12,44.23 87.67,43.30 88.22,42.37 88.77,41.45 89.32,40.52 89.87,39.59 90.42,38.66 90.98,37.73 91.53,36.81 92.12,35.91 92.74,35.03 93.39,34.20 94.08,33.41 94.81,32.70 95.60,32.09 96.45,31.57 97.36,31.13 98.32,30.76 99.32,30.47 100.35,30.25 101.40,30.09 102.46,29.97 103.53,29.89 104.60,29.83 105.67,29.79 106.74,29.75 107.81,29.72 108.89,29.68 109.96,29.64 111.03,29.61 112.11,29.57 113.18,29.53 114.25,29.50 115.32,29.46 116.40,29.42 117.47,29.39 118.54,29.35 119.62,29.31 120.69,29.28 121.76,29.24 122.83,29.20 123.91,29.17 124.98,29.13 126.05,29.09 127.13,29.06 128.20,29.02 129.27,28.98 130.34,28.95 131.42,28.91 132.49,28.87 133.56,28.84 134.64,28.80 135.71,28.76 136.78,28.73 137.85,28.69 138.93,28.65 140.00,28.62 140.00,36.82 139.01,36.76 138.03,36.69 137.04,36.63 136.05,36.56 135.06,36.50 134.08,36.44 133.09,36.37 132.10,36.31 131.12,36.24 130.13,36.18 129.14,36.11 128.15,36.05 127.17,35.98 126.18,35.92 125.19,35.85 124.21,35.79 123.22,35.72 122.23,35.66 121.24,35.59 120.26,35.53 119.27,35.46 118.28,35.40 117.30,35.33 116.31,35.27 115.32,35.20 114.33,35.14 113.35,35.07 112.36,35.01 111.37,34.94 110.39,34.88 109.40,34.81 108.41,34.75 107.42,34.69 106.44,34.63 105.45,34.59 104.47,34.56 103.48,34.56 102.50,34.58 101.52,34.63 100.56,34.73 99.61,34.87 98.67,35.07 97.77,35.38 96.91,35.84 96.13,36.41 95.40,37.08 94.74,37.81 94.13,38.59 93.58,39.41 93.03,40.24 92.49,41.07 91.94,41.90 91.40,42.73 90.85,43.56 90.31,44.39 89.76,45.21 89.22,46.04 88.67,46.87 88.13,47.70" fill="#525254"/><polygon points="87.71,47.59 88.26,46.75 88.80,45.90 89.35,45.06 89.89,44.21 90.44,43.37 90.98,42.53 91.53,41.68 92.07,40.84 92.62,39.99 93.16,39.15 93.72,38.31 94.33,37.51 94.98,36.75 95.69,36.06 96.47,35.45 97.30,34.96 98.19,34.60 99.11,34.35 100.06,34.16 101.02,34.02 102.00,33.93 102.99,33.88 103.98,33.86 104.98,33.86 105.98,33.88 106.98,33.92 107.98,33.97 108.98,34.02 109.98,34.06 110.98,34.11 111.98,34.16 112.98,34.21 113.98,34.26 114.98,34.31 115.98,34.36 116.98,34.41 117.99,34.45 118.99,34.50 119.99,34.55 120.99,34.60 121.99,34.65 122.99,34.70 123.99,34.75 124.99,34.80 125.99,34.84 126.99,34.89 127.99,34.94 128.99,34.99 129.99,35.04 130.99,35.09 131.99,35.14 133.00,35.19 134.00,35.24 135.00,35.28 136.00,35.33 137.00,35.38 138.00,35.43 139.00,35.48 140.00,35.53 140.00,39.20 139.04,39.11 138.08,39.01 137.11,38.92 136.15,38.82 135.19,38.73 134.23,38.63 133.26,38.54 132.30,38.45 131.34,38.35 130.38,38.26 129.41,38.16 128.45,38.07 127.49,37.98 126.53,37.88 125.57,37.79 124.60,37.69 123.64,37.60 122.68,37.50 121.72,37.41 120.75,37.32 119.79,37.22 118.83,37.13 117.87,37.03 116.90,36.94 115.94,36.85 114.98,36.75 114.02,36.66 113.05,36.56 112.09,36.47 111.13,36.37 110.17,36.28 109.21,36.19 108.24,36.09 107.28,36.00 106.32,35.92 105.35,35.85 104.39,35.80 103.42,35.77 102.45,35.76 101.49,35.77 100.52,35.82 99.56,35.93 98.62,36.16 97.73,36.54 96.92,37.05 96.17,37.67 95.50,38.36 94.89,39.11 94.33,39.90 93.78,40.70 93.24,41.50 92.70,42.30 92.16,43.10 91.61,43.90 91.07,44.70 90.53,45.50 89.99,46.30 89.44,47.10 88.90,47.90" fill="#646466"/><g stroke="#ffffff" stroke-opacity="0.8" stroke-width="0.7" fill="#e8f0dc" fill-opacity="0.35"><polygon points="80.5,45.5 90.5,48 89,53.5 79,51"/><polygon points="80,51.5 88.5,53.5 87,58 79.5,56"/></g><rect x="0.3" y="0.3" width="131.4" height="131.4" fill="none" stroke="#000" stroke-opacity="0.07" stroke-width="0.8"/></g><circle cx="26.3" cy="132.2" r="11.75" fill="#f6c5dd" stroke="#fff" stroke-width="2.5"/></svg></div>
<div class="cap" style="left:215px;top:325.0px">Biofilm<br>management<br>of periodontal<br>pockets</div>
<div class="cell" style="left:369px;top:324px"><svg width="132" height="132" viewBox="0 0 132 132"><g clip-path="url(#cb)"><rect width="132" height="132" fill="url(#bgV)"/><ellipse cx="48" cy="110" rx="50" ry="36" fill="url(#glow)"/><linearGradient id="sp3" gradientUnits="userSpaceOnUse" x1="91.5" y1="51.5" x2="78.5" y2="89.5"><stop offset="0" stop-color="#f6fbee" stop-opacity="0.42"/><stop offset="1" stop-color="#f6fbee" stop-opacity="0.10"/></linearGradient><polygon points="87.7,50.2 72.5,91.0 84.5,88.0 95.3,52.8" fill="url(#sp3)"/><path d="M11.5,132 L16.2,94.6 Q19.9,89 23.5,93 L33,118.8 L33,132 Z" fill="url(#gumG)"/><path d="M14.3,132 L18.5,106 Q20.9,101 23.5,106 L33,132 Z" fill="url(#bone)"/><path d="M63.8,132 L63.8,117 L74,93 Q77.8,89 81.5,93.5 L83.4,97.4 L84.8,132 Z" fill="url(#gumG)"/><path d="M63.8,132 L71,109 Q74.1,101 77.5,107 L82,132 Z" fill="url(#bone)"/><path d="M21.3,75.9 C20.5,62 25,52 32.1,50.2 C38,49.5 44,52 48,54.9 C52,52 58,49.5 64.8,50.2 C71,52 75.5,62 75,74 C74.5,86 71,94 66.6,103 L30.7,103 C25.5,94 21.8,86 21.3,75.9 Z" fill="#ffffff"/><rect x="34.4" y="78.2" width="28.5" height="25.3" fill="url(#abut)"/><rect x="34.4" y="78.2" width="28.5" height="1.2" fill="#c8c8c8"/><path d="M29.7,102.7 L67.1,102.7 L63.8,111.5 L33.0,111.5 Z" fill="url(#collar)"/><rect x="29.7" y="103.0" width="37.4" height="1.6" fill="#a0a0a0"/><rect x="33.0" y="110.7" width="30.8" height="28.5" fill="url(#collar)"/><rect x="33.0" y="110.7" width="30.8" height="1.2" fill="#5e5e5e"/><path d="M32.5,122.7 L64.3,120.3 L64.3,122.1 L32.5,124.5 Z" fill="#d0d0d0"/><path d="M32.5,124.9 L64.3,122.5" stroke="#3a3a3a" stroke-width="0.9"/><path d="M32.5,127.3 L64.3,124.9 L64.3,126.7 L32.5,129.1 Z" fill="#d0d0d0"/><path d="M32.5,129.5 L64.3,127.1" stroke="#3a3a3a" stroke-width="0.9"/><path d="M32.5,131.9 L64.3,129.5 L64.3,131.3 L32.5,133.7 Z" fill="#d0d0d0"/><path d="M32.5,134.1 L64.3,131.7" stroke="#3a3a3a" stroke-width="0.9"/><path d="M32.5,136.5 L64.3,134.1 L64.3,135.9 L32.5,138.3 Z" fill="#d0d0d0"/><path d="M32.5,138.7 L64.3,136.3" stroke="#3a3a3a" stroke-width="0.9"/><polygon points="87.50,49.20 88.12,48.26 88.75,47.32 89.37,46.38 90.00,45.45 90.62,44.51 91.25,43.57 91.87,42.63 92.50,41.69 93.12,40.75 93.74,39.81 94.37,38.88 94.99,37.94 95.62,37.00 96.24,36.06 96.87,35.12 97.49,34.18 98.12,33.24 98.74,32.31 99.36,31.37 99.99,30.43 100.61,29.49 101.24,28.55 101.86,27.61 102.49,26.68 103.18,25.79 103.96,24.97 104.81,24.24 105.74,23.60 106.73,23.05 107.74,22.55 108.75,22.07 109.79,21.63 110.85,21.24 111.93,20.91 113.02,20.63 114.12,20.40 115.24,20.24 116.36,20.11 117.48,20.04 118.61,19.98 119.73,19.92 120.86,19.87 121.99,19.81 123.11,19.75 124.24,19.70 125.36,19.64 126.49,19.58 127.62,19.53 128.74,19.47 129.87,19.41 130.99,19.36 132.12,19.30 133.24,19.24 134.37,19.18 135.50,19.13 136.62,19.07 137.75,19.01 138.87,18.96 140.00,18.90 140.00,23.36 138.93,23.38 137.86,23.40 136.79,23.42 135.73,23.44 134.66,23.46 133.59,23.48 132.52,23.50 131.45,23.52 130.38,23.54 129.32,23.55 128.25,23.57 127.18,23.59 126.11,23.61 125.04,23.63 123.97,23.65 122.91,23.67 121.84,23.69 120.77,23.71 119.70,23.73 118.63,23.75 117.56,23.78 116.50,23.85 115.44,23.96 114.39,24.12 113.34,24.32 112.31,24.56 111.29,24.86 110.29,25.20 109.31,25.58 108.33,25.99 107.37,26.44 106.45,26.98 105.60,27.61 104.82,28.32 104.12,29.11 103.47,29.95 102.83,30.80 102.20,31.67 101.59,32.54 100.98,33.42 100.37,34.30 99.76,35.18 99.15,36.06 98.54,36.94 97.93,37.82 97.32,38.70 96.71,39.58 96.11,40.46 95.50,41.34 94.89,42.22 94.28,43.10 93.67,43.98 93.06,44.86 92.45,45.74 91.84,46.62 91.24,47.50 90.63,48.38 90.02,49.26 89.41,50.14" fill="#909092"/><polygon points="88.91,49.90 89.52,49.00 90.14,48.11 90.75,47.21 91.36,46.32 91.98,45.42 92.59,44.52 93.20,43.63 93.81,42.73 94.43,41.84 95.04,40.94 95.65,40.05 96.27,39.15 96.88,38.26 97.49,37.36 98.10,36.46 98.72,35.57 99.33,34.67 99.94,33.78 100.56,32.88 101.17,31.99 101.79,31.10 102.41,30.21 103.05,29.34 103.69,28.48 104.39,27.66 105.17,26.92 106.03,26.26 106.94,25.70 107.91,25.22 108.90,24.79 109.89,24.38 110.90,24.01 111.93,23.70 112.97,23.43 114.03,23.21 115.10,23.03 116.17,22.91 117.25,22.82 118.33,22.78 119.42,22.75 120.50,22.72 121.58,22.69 122.67,22.66 123.75,22.63 124.83,22.60 125.92,22.58 127.00,22.55 128.08,22.52 129.17,22.49 130.25,22.46 131.33,22.43 132.42,22.40 133.50,22.37 134.58,22.34 135.67,22.31 136.75,22.29 137.83,22.26 138.92,22.23 140.00,22.20 140.00,27.24 138.98,27.23 137.96,27.21 136.94,27.20 135.93,27.19 134.91,27.17 133.89,27.16 132.87,27.15 131.85,27.13 130.83,27.12 129.82,27.11 128.80,27.09 127.78,27.08 126.76,27.07 125.74,27.05 124.72,27.04 123.70,27.03 122.69,27.01 121.67,27.00 120.65,26.99 119.63,26.97 118.61,26.97 117.60,26.99 116.58,27.05 115.58,27.15 114.57,27.28 113.58,27.45 112.60,27.67 111.63,27.92 110.67,28.22 109.72,28.54 108.78,28.91 107.88,29.36 107.03,29.90 106.25,30.52 105.53,31.23 104.86,31.98 104.21,32.76 103.59,33.56 102.98,34.37 102.38,35.20 101.78,36.03 101.19,36.86 100.59,37.69 100.00,38.52 99.40,39.35 98.81,40.18 98.21,41.01 97.62,41.84 97.02,42.67 96.43,43.50 95.83,44.33 95.24,45.16 94.64,45.99 94.04,46.82 93.45,47.64 92.85,48.47 92.26,49.30 91.66,50.13 91.07,50.96" fill="#fcfcfc"/><polygon points="90.57,50.72 91.17,49.87 91.77,49.03 92.37,48.18 92.97,47.34 93.57,46.49 94.17,45.65 94.77,44.80 95.37,43.96 95.96,43.11 96.56,42.27 97.16,41.42 97.76,40.58 98.36,39.73 98.96,38.89 99.56,38.05 100.16,37.20 100.76,36.36 101.36,35.51 101.96,34.67 102.56,33.82 103.17,32.99 103.80,32.17 104.44,31.37 105.10,30.59 105.82,29.86 106.60,29.21 107.45,28.64 108.35,28.17 109.30,27.77 110.26,27.43 111.23,27.10 112.21,26.82 113.20,26.59 114.21,26.39 115.22,26.24 116.24,26.12 117.27,26.05 118.30,26.01 119.33,26.00 120.36,26.01 121.40,26.01 122.43,26.02 123.46,26.02 124.50,26.02 125.53,26.03 126.56,26.03 127.60,26.03 128.63,26.04 129.67,26.04 130.70,26.04 131.73,26.05 132.77,26.05 133.80,26.06 134.83,26.06 135.87,26.06 136.90,26.07 137.93,26.07 138.97,26.07 140.00,26.08 140.00,30.15 139.02,30.11 138.04,30.08 137.06,30.04 136.08,30.00 135.09,29.96 134.11,29.92 133.13,29.89 132.15,29.85 131.17,29.81 130.19,29.77 129.21,29.73 128.23,29.70 127.25,29.66 126.27,29.62 125.28,29.58 124.30,29.54 123.32,29.50 122.34,29.47 121.36,29.43 120.38,29.39 119.40,29.36 118.42,29.35 117.44,29.37 116.47,29.42 115.50,29.50 114.54,29.62 113.58,29.77 112.63,29.96 111.69,30.19 110.76,30.45 109.84,30.76 108.95,31.15 108.11,31.62 107.32,32.18 106.59,32.81 105.91,33.50 105.25,34.23 104.62,34.97 104.02,35.75 103.43,36.54 102.84,37.33 102.26,38.12 101.67,38.91 101.09,39.70 100.50,40.50 99.92,41.29 99.33,42.08 98.75,42.87 98.16,43.66 97.58,44.45 96.99,45.25 96.41,46.04 95.82,46.83 95.24,47.62 94.65,48.41 94.07,49.20 93.48,49.99 92.90,50.79 92.31,51.58" fill="#8a8a8c"/><polygon points="91.82,51.33 92.41,50.53 92.99,49.72 93.58,48.91 94.17,48.10 94.76,47.30 95.35,46.49 95.94,45.68 96.53,44.88 97.12,44.07 97.71,43.26 98.30,42.46 98.88,41.65 99.47,40.84 100.06,40.04 100.65,39.23 101.24,38.42 101.83,37.62 102.42,36.81 103.01,36.00 103.60,35.20 104.21,34.41 104.84,33.64 105.49,32.89 106.16,32.18 106.89,31.52 107.68,30.93 108.52,30.43 109.41,30.02 110.34,29.69 111.28,29.40 112.23,29.15 113.19,28.93 114.15,28.75 115.13,28.61 116.11,28.51 117.10,28.44 118.09,28.41 119.08,28.40 120.08,28.42 121.08,28.45 122.07,28.48 123.07,28.51 124.06,28.54 125.06,28.56 126.06,28.59 127.05,28.62 128.05,28.65 129.04,28.68 130.04,28.71 131.04,28.73 132.03,28.76 133.03,28.79 134.02,28.82 135.02,28.85 136.02,28.88 137.01,28.90 138.01,28.93 139.00,28.96 140.00,28.99 140.00,36.17 139.10,36.08 138.19,35.99 137.29,35.90 136.39,35.81 135.48,35.72 134.58,35.63 133.67,35.54 132.77,35.46 131.87,35.37 130.96,35.28 130.06,35.19 129.16,35.10 128.25,35.01 127.35,34.92 126.45,34.83 125.54,34.74 124.64,34.66 123.73,34.57 122.83,34.48 121.93,34.39 121.02,34.30 120.12,34.23 119.22,34.16 118.31,34.12 117.41,34.10 116.50,34.10 115.60,34.13 114.70,34.18 113.81,34.28 112.91,34.41 112.03,34.58 111.16,34.84 110.33,35.17 109.53,35.59 108.78,36.09 108.07,36.65 107.40,37.26 106.77,37.91 106.17,38.59 105.60,39.30 105.04,40.01 104.47,40.73 103.91,41.44 103.35,42.15 102.78,42.87 102.22,43.58 101.65,44.29 101.09,45.01 100.53,45.72 99.96,46.43 99.40,47.14 98.83,47.86 98.27,48.57 97.71,49.28 97.14,50.00 96.58,50.71 96.01,51.42 95.45,52.14 94.89,52.85" fill="#555557"/><polygon points="94.39,52.60 94.96,51.87 95.53,51.15 96.09,50.42 96.66,49.69 97.23,48.96 97.80,48.23 98.37,47.51 98.93,46.78 99.50,46.05 100.07,45.32 100.64,44.59 101.21,43.86 101.77,43.14 102.34,42.41 102.91,41.68 103.48,40.95 104.05,40.22 104.61,39.49 105.18,38.77 105.75,38.04 106.35,37.34 106.98,36.67 107.65,36.04 108.35,35.46 109.10,34.93 109.90,34.49 110.74,34.12 111.61,33.84 112.50,33.64 113.40,33.49 114.30,33.37 115.21,33.28 116.12,33.23 117.04,33.21 117.96,33.21 118.87,33.24 119.79,33.28 120.71,33.35 121.63,33.42 122.55,33.50 123.46,33.58 124.38,33.66 125.30,33.74 126.22,33.82 127.14,33.90 128.06,33.97 128.98,34.05 129.90,34.13 130.81,34.21 131.73,34.29 132.65,34.37 133.57,34.45 134.49,34.53 135.41,34.61 136.33,34.69 137.24,34.76 138.16,34.84 139.08,34.92 140.00,35.00 140.00,38.30 139.12,38.19 138.25,38.09 137.37,37.98 136.50,37.87 135.62,37.77 134.74,37.66 133.87,37.55 132.99,37.45 132.11,37.34 131.24,37.23 130.36,37.12 129.49,37.02 128.61,36.91 127.73,36.80 126.86,36.70 125.98,36.59 125.11,36.48 124.23,36.38 123.35,36.27 122.48,36.16 121.60,36.06 120.72,35.95 119.85,35.86 118.97,35.79 118.09,35.73 117.20,35.69 116.32,35.67 115.44,35.68 114.56,35.72 113.68,35.81 112.81,35.94 111.95,36.15 111.12,36.44 110.31,36.80 109.55,37.25 108.83,37.76 108.16,38.33 107.53,38.95 106.94,39.60 106.37,40.28 105.82,40.97 105.26,41.65 104.70,42.34 104.15,43.02 103.59,43.71 103.03,44.39 102.48,45.08 101.92,45.76 101.36,46.45 100.81,47.13 100.25,47.82 99.70,48.50 99.14,49.19 98.58,49.87 98.03,50.56 97.47,51.24 96.91,51.93 96.36,52.61 95.80,53.30" fill="#6a6a6c"/><rect x="0.3" y="0.3" width="131.4" height="131.4" fill="none" stroke="#000" stroke-opacity="0.07" stroke-width="0.8"/></g><circle cx="26.3" cy="132.2" r="11.75" fill="#f6c5dd" stroke="#fff" stroke-width="2.5"/></svg></div>
<div class="cap" style="left:523px;top:325.0px">Care of<br>implant surfaces</div>
<div class="cell" style="left:677px;top:324px"><svg width="132" height="132" viewBox="0 0 132 132"><g clip-path="url(#cb)"><rect width="132" height="132" fill="url(#bgV6)"/><ellipse cx="50" cy="105" rx="52" ry="38" fill="url(#glow)"/><path d="M13,132 L14.8,83.5 Q16,75.5 20,75.5 Q25,75.5 28,84 L34,106.6 L35,132 Z" fill="url(#gumRL)"/><path d="M15.4,132 L18,95 Q20,88.7 22.5,92 L34,118 L35,132 Z" fill="url(#bone)"/><path d="M64.8,132 L64.8,108.9 L74,84 Q78,76.6 84.4,76.6 Q90,77 90.7,83.5 L89,132 Z" fill="url(#gumRR)"/><path d="M64.8,132 L64.8,113.5 L77,96 Q81,91.6 83,96 L85.5,132 Z" fill="url(#bone)"/><path d="M22.3,62.8 C21.5,50 26,39.5 32.6,37.5 C39,37 45,39.5 49.3,42.1 C54,39.5 60,37 66,37.5 C72.5,40 77.5,50 76.9,64 C76.5,74 75,80 72.9,85.8 L68.9,90.4 L30.9,90.4 L28,85.8 C25,80 22.5,72 22.3,62.8 Z" fill="#ffffff"/><rect x="35.1" y="65.1" width="29.2" height="25.8" fill="url(#abut)"/><rect x="35.1" y="65.1" width="29.2" height="1.2" fill="#c8c8c8"/><path d="M30.9,90.1 L68.9,90.1 L66.0,98.9 L33.8,98.9 Z" fill="url(#collar)"/><rect x="30.9" y="90.4" width="38.0" height="1.6" fill="#a0a0a0"/><rect x="33.8" y="98.1" width="32.2" height="41.1" fill="url(#collar)"/><rect x="33.8" y="98.1" width="32.2" height="1.2" fill="#5e5e5e"/><path d="M33.3,114.7 L66.5,112.3 L66.5,114.1 L33.3,116.5 Z" fill="#d0d0d0"/><path d="M33.3,116.9 L66.5,114.5" stroke="#3a3a3a" stroke-width="0.9"/><path d="M33.3,119.3 L66.5,116.9 L66.5,118.7 L33.3,121.1 Z" fill="#d0d0d0"/><path d="M33.3,121.5 L66.5,119.1" stroke="#3a3a3a" stroke-width="0.9"/><path d="M33.3,123.9 L66.5,121.5 L66.5,123.3 L33.3,125.7 Z" fill="#d0d0d0"/><path d="M33.3,126.1 L66.5,123.7" stroke="#3a3a3a" stroke-width="0.9"/><path d="M33.3,128.5 L66.5,126.1 L66.5,127.9 L33.3,130.3 Z" fill="#d0d0d0"/><path d="M33.3,130.7 L66.5,128.3" stroke="#3a3a3a" stroke-width="0.9"/><path d="M33.3,133.1 L66.5,130.7 L66.5,132.5 L33.3,134.9 Z" fill="#d0d0d0"/><path d="M33.3,135.3 L66.5,132.9" stroke="#3a3a3a" stroke-width="0.9"/><circle cx="70" cy="90" r="5" fill="#fff" fill-opacity="0.3"/><polygon points="86.6,60.5 88.6,61.0 71.8,89.0 70.2,88.5" fill="#f4fae8" fill-opacity="0.60"/><polygon points="87.40,49.00 87.97,48.06 88.54,47.11 89.11,46.17 89.69,45.22 90.26,44.28 90.83,43.33 91.40,42.39 91.97,41.44 92.54,40.50 93.11,39.55 93.69,38.61 94.26,37.66 94.83,36.72 95.40,35.77 95.97,34.83 96.54,33.88 97.12,32.94 97.69,31.99 98.26,31.05 98.84,30.11 99.51,29.23 100.27,28.43 101.11,27.71 102.02,27.09 103.00,26.57 103.99,26.09 105.01,25.66 106.05,25.29 107.10,24.97 108.17,24.70 109.26,24.48 110.34,24.29 111.44,24.15 112.54,24.03 113.64,23.92 114.73,23.80 115.83,23.69 116.93,23.58 118.03,23.46 119.13,23.35 120.23,23.24 121.33,23.12 122.42,23.01 123.52,22.90 124.62,22.78 125.72,22.67 126.82,22.56 127.92,22.44 129.01,22.33 130.11,22.22 131.21,22.11 132.31,21.99 133.41,21.88 134.51,21.77 135.61,21.65 136.70,21.54 137.80,21.43 138.90,21.31 140.00,21.20 140.00,26.20 138.97,26.26 137.94,26.32 136.91,26.38 135.88,26.44 134.84,26.51 133.81,26.57 132.78,26.63 131.75,26.69 130.72,26.75 129.69,26.81 128.66,26.87 127.63,26.93 126.60,27.00 125.57,27.06 124.53,27.12 123.50,27.18 122.47,27.24 121.44,27.30 120.41,27.36 119.38,27.42 118.35,27.48 117.32,27.55 116.29,27.61 115.25,27.67 114.22,27.73 113.19,27.80 112.16,27.89 111.14,28.01 110.12,28.17 109.11,28.36 108.11,28.59 107.12,28.87 106.15,29.20 105.19,29.57 104.26,29.98 103.36,30.47 102.53,31.05 101.76,31.72 101.07,32.47 100.46,33.27 99.86,34.10 99.27,34.95 98.69,35.80 98.13,36.67 97.56,37.54 97.00,38.41 96.44,39.28 95.88,40.15 95.32,41.02 94.76,41.89 94.20,42.76 93.64,43.63 93.08,44.50 92.52,45.37 91.96,46.24 91.40,47.11 90.84,47.98 90.28,48.85 89.73,49.73" fill="#909092"/><polygon points="89.17,49.55 89.73,48.66 90.29,47.77 90.86,46.89 91.42,46.00 91.98,45.11 92.54,44.22 93.11,43.33 93.67,42.44 94.23,41.55 94.79,40.67 95.36,39.78 95.92,38.89 96.48,38.00 97.05,37.11 97.61,36.22 98.18,35.34 98.75,34.46 99.34,33.60 99.93,32.74 100.54,31.90 101.22,31.12 101.99,30.42 102.82,29.81 103.72,29.29 104.67,28.85 105.63,28.45 106.61,28.10 107.61,27.80 108.63,27.55 109.65,27.33 110.69,27.16 111.73,27.03 112.77,26.92 113.82,26.84 114.87,26.77 115.91,26.69 116.96,26.62 118.01,26.55 119.05,26.47 120.10,26.40 121.15,26.33 122.20,26.25 123.24,26.18 124.29,26.10 125.34,26.03 126.39,25.96 127.43,25.88 128.48,25.81 129.53,25.74 130.57,25.66 131.62,25.59 132.67,25.52 133.72,25.44 134.76,25.37 135.81,25.29 136.86,25.22 137.91,25.15 138.95,25.07 140.00,25.00 140.00,30.20 139.02,30.22 138.05,30.24 137.07,30.26 136.09,30.28 135.11,30.30 134.14,30.32 133.16,30.34 132.18,30.36 131.21,30.38 130.23,30.40 129.25,30.42 128.27,30.43 127.30,30.45 126.32,30.47 125.34,30.49 124.37,30.51 123.39,30.53 122.41,30.55 121.44,30.57 120.46,30.59 119.48,30.61 118.50,30.63 117.53,30.65 116.55,30.67 115.57,30.69 114.60,30.72 113.62,30.76 112.65,30.84 111.68,30.94 110.71,31.07 109.76,31.23 108.81,31.44 107.88,31.68 106.95,31.96 106.04,32.28 105.17,32.68 104.34,33.15 103.57,33.72 102.86,34.35 102.22,35.06 101.59,35.79 100.99,36.55 100.41,37.34 99.85,38.14 99.30,38.95 98.74,39.76 98.19,40.57 97.64,41.38 97.09,42.19 96.54,43.00 95.99,43.82 95.44,44.63 94.89,45.44 94.34,46.25 93.79,47.06 93.24,47.87 92.69,48.68 92.14,49.49 91.59,50.30" fill="#fcfcfc"/><polygon points="91.03,50.13 91.58,49.30 92.13,48.47 92.69,47.64 93.24,46.81 93.79,45.99 94.35,45.16 94.90,44.33 95.46,43.50 96.01,42.67 96.56,41.84 97.12,41.01 97.67,40.18 98.22,39.35 98.78,38.52 99.33,37.70 99.90,36.88 100.48,36.07 101.07,35.29 101.69,34.52 102.33,33.79 103.03,33.12 103.80,32.52 104.63,32.01 105.51,31.59 106.43,31.25 107.36,30.94 108.30,30.67 109.26,30.44 110.23,30.26 111.21,30.10 112.19,29.99 113.18,29.90 114.17,29.84 115.17,29.80 116.16,29.77 117.15,29.74 118.15,29.70 119.14,29.67 120.13,29.64 121.13,29.61 122.12,29.58 123.11,29.54 124.11,29.51 125.10,29.48 126.09,29.45 127.09,29.42 128.08,29.38 129.07,29.35 130.07,29.32 131.06,29.29 132.05,29.26 133.05,29.22 134.04,29.19 135.03,29.16 136.03,29.13 137.02,29.10 138.01,29.06 139.01,29.03 140.00,29.00 140.00,32.60 139.06,32.59 138.11,32.59 137.17,32.58 136.22,32.58 135.28,32.57 134.33,32.57 133.39,32.56 132.44,32.56 131.50,32.55 130.55,32.55 129.61,32.54 128.66,32.54 127.72,32.53 126.77,32.52 125.83,32.52 124.88,32.51 123.94,32.51 123.00,32.50 122.05,32.50 121.11,32.49 120.16,32.49 119.22,32.48 118.27,32.48 117.33,32.47 116.38,32.47 115.44,32.47 114.49,32.49 113.55,32.53 112.61,32.60 111.68,32.69 110.75,32.82 109.82,32.98 108.91,33.17 108.01,33.40 107.12,33.67 106.25,34.00 105.43,34.41 104.65,34.91 103.93,35.49 103.27,36.13 102.64,36.81 102.03,37.52 101.44,38.26 100.88,39.02 100.33,39.79 99.79,40.57 99.24,41.35 98.70,42.12 98.15,42.90 97.61,43.67 97.06,44.45 96.52,45.22 95.97,46.00 95.43,46.78 94.88,47.55 94.34,48.33 93.79,49.10 93.25,49.88 92.70,50.65" fill="#727274"/><polygon points="92.14,50.48 92.69,49.69 93.24,48.89 93.79,48.10 94.33,47.31 94.88,46.51 95.43,45.72 95.98,44.93 96.53,44.13 97.07,43.34 97.62,42.54 98.17,41.75 98.72,40.96 99.27,40.16 99.81,39.37 100.36,38.58 100.93,37.80 101.51,37.04 102.12,36.30 102.74,35.59 103.40,34.92 104.11,34.31 104.88,33.78 105.71,33.34 106.58,32.98 107.48,32.68 108.39,32.43 109.32,32.21 110.25,32.02 111.20,31.88 112.14,31.77 113.10,31.68 114.06,31.63 115.02,31.59 115.98,31.58 116.94,31.57 117.90,31.56 118.86,31.56 119.82,31.55 120.78,31.54 121.74,31.53 122.70,31.53 123.66,31.52 124.63,31.51 125.59,31.51 126.55,31.50 127.51,31.49 128.47,31.48 129.43,31.48 130.39,31.47 131.35,31.46 132.31,31.46 133.27,31.45 134.23,31.44 135.20,31.44 136.16,31.43 137.12,31.42 138.08,31.41 139.04,31.41 140.00,31.40 140.00,39.00 139.14,38.93 138.28,38.86 137.42,38.78 136.57,38.71 135.71,38.64 134.85,38.57 133.99,38.50 133.13,38.42 132.27,38.35 131.42,38.28 130.56,38.21 129.70,38.14 128.84,38.06 127.98,37.99 127.12,37.92 126.27,37.85 125.41,37.78 124.55,37.70 123.69,37.63 122.83,37.56 121.97,37.49 121.12,37.42 120.26,37.34 119.40,37.27 118.54,37.20 117.68,37.14 116.82,37.09 115.96,37.05 115.10,37.03 114.24,37.03 113.38,37.04 112.53,37.08 111.67,37.14 110.82,37.24 109.98,37.36 109.14,37.53 108.33,37.78 107.54,38.10 106.79,38.51 106.08,38.98 105.42,39.51 104.78,40.09 104.19,40.72 103.64,41.38 103.10,42.05 102.57,42.73 102.04,43.42 101.51,44.10 100.98,44.78 100.45,45.46 99.92,46.14 99.39,46.82 98.86,47.50 98.33,48.18 97.80,48.86 97.27,49.54 96.74,50.22 96.21,50.90 95.68,51.58" fill="#525254"/><polygon points="95.12,51.41 95.65,50.71 96.19,50.01 96.72,49.31 97.25,48.61 97.79,47.92 98.32,47.22 98.85,46.52 99.38,45.82 99.92,45.12 100.45,44.42 100.98,43.73 101.52,43.03 102.05,42.33 102.58,41.63 103.12,40.93 103.68,40.26 104.27,39.61 104.89,39.00 105.56,38.45 106.25,37.94 107.00,37.51 107.78,37.15 108.60,36.87 109.44,36.67 110.30,36.52 111.16,36.40 112.02,36.31 112.89,36.25 113.76,36.21 114.64,36.20 115.51,36.20 116.39,36.23 117.26,36.26 118.14,36.31 119.01,36.37 119.89,36.43 120.76,36.49 121.63,36.55 122.51,36.61 123.38,36.67 124.26,36.73 125.13,36.79 126.01,36.85 126.88,36.91 127.76,36.97 128.63,37.03 129.51,37.09 130.38,37.15 131.25,37.20 132.13,37.26 133.00,37.32 133.88,37.38 134.75,37.44 135.63,37.50 136.50,37.56 137.38,37.62 138.25,37.68 139.13,37.74 140.00,37.80 140.00,41.20 139.17,41.11 138.34,41.01 137.51,40.92 136.69,40.82 135.86,40.73 135.03,40.63 134.20,40.54 133.37,40.44 132.54,40.35 131.71,40.25 130.88,40.16 130.06,40.06 129.23,39.97 128.40,39.87 127.57,39.78 126.74,39.68 125.91,39.59 125.08,39.49 124.26,39.40 123.43,39.30 122.60,39.21 121.77,39.11 120.94,39.02 120.11,38.92 119.28,38.83 118.45,38.75 117.62,38.67 116.79,38.61 115.96,38.55 115.13,38.52 114.29,38.49 113.46,38.49 112.62,38.51 111.79,38.55 110.96,38.63 110.14,38.75 109.32,38.93 108.53,39.20 107.77,39.54 107.05,39.96 106.37,40.44 105.73,40.98 105.14,41.56 104.58,42.19 104.06,42.83 103.53,43.48 103.00,44.13 102.48,44.77 101.95,45.42 101.43,46.07 100.90,46.72 100.38,47.37 99.85,48.01 99.33,48.66 98.80,49.31 98.28,49.96 97.75,50.60 97.23,51.25 96.70,51.90" fill="#646466"/><g stroke="#ffffff" stroke-opacity="0.8" stroke-width="0.7" fill="#e8f0dc" fill-opacity="0.35"><polygon points="84.5,48.5 96,51.5 94,57.5 83.5,54.5"/><polygon points="85.5,54.8 93.5,57.2 92,61.5 85,59.5"/></g><rect x="0.3" y="0.3" width="131.4" height="131.4" fill="none" stroke="#000" stroke-opacity="0.07" stroke-width="0.8"/></g><circle cx="26.3" cy="132.2" r="11.75" fill="#f6c5dd" stroke="#fff" stroke-width="2.5"/></svg></div>
<div class="cap" style="left:831px;top:325.0px">Treatment of<br>peri-implantitis</div>
<div class="cell" style="left:61px;top:511px"><svg width="132" height="132" viewBox="0 0 132 132"><g clip-path="url(#cb)"><rect width="132" height="132" fill="url(#bgV)"/><ellipse cx="48" cy="102" rx="50" ry="40" fill="url(#glow)"/><path d="M9.9,132 L13,78 Q14.5,72.5 20.3,72.5 Q26,72.5 27,80 L29,132 Z" fill="url(#gumG)"/><path d="M14,132 L16.5,90 Q18,85 20.5,85 Q23,85 24,91 L27,132 Z" fill="url(#bone)"/><path d="M67,132 L69,80 Q71,72.5 78.9,72.5 Q85,72.5 85.5,78 L88.6,132 Z" fill="url(#gumG)"/><path d="M70,132 L71,92 Q72.5,87 77,87 Q81,87 82,92 L85,132 Z" fill="url(#bone)"/><g transform="translate(1.5,1.6)"><g transform="translate(0.0,0.0)"><path d="M22.3,66 C20.8,55 24,43.5 32,41.2 C38,40.2 43,43 46.7,45.5 C51,42.6 57,40.2 63,40.8 C71,43 73.3,55 72.2,64 C71.6,72 69.5,78 68.8,86 L65.5,132 L28.5,132 L25,86 C24.2,78 22.8,72 22.3,66 Z" fill="#ffffff"/><path d="M24.2,66 C23.6,58 25,46.5 32,43.3 C38,42.5 43,45 46.7,47.6 C51,44.8 57,42.5 63,43 C69.5,45 71.3,55 70.5,64 C70,72 67.8,78 67,86 L63.8,132 L30.2,132 L26.8,86 C26,78 24.5,72 24.2,66 Z" fill="url(#dentP)"/><path d="M24.2,66 C23.6,58 25,46.5 32,43.3 C38,42.5 43,45 46.7,47.6 C51,44.8 57,42.5 63,43 C69.5,45 71.3,55 70.5,64 C70.2,72 69,78 67.6,83.4 L66.4,83.4 L61,57.4 L36.6,57.4 L31.2,83.4 L27.2,83.4 C25.6,78 24.4,72 24.2,66 Z" fill="url(#resto)"/><path d="M31.5,84 Q30,100 31.5,118" stroke="url(#canalP)" stroke-width="3" fill="none"/><path d="M66,84 Q67.5,100 64,118" stroke="url(#canalP)" stroke-width="3" fill="none"/><path d="M35,132 L37.5,96 Q38.5,86.5 46.9,86.5 Q55.3,86.5 56.3,96 L58.8,132 Z" fill="#f8fafc"/><path d="M37,132 L39.7,97 Q40.5,90.6 46.9,90.6 Q53.3,90.6 54.1,97 L56.8,132 Z" fill="#e9845f"/><path d="M39.3,132 L41.8,98.5 Q42.5,93.3 46.9,93.3 Q51.3,93.3 52,98.5 L54.5,132 Z" fill="url(#bone)"/></g></g><linearGradient id="sp4" gradientUnits="userSpaceOnUse" x1="91.5" y1="76.0" x2="73.2" y2="61.2"><stop offset="0" stop-color="#f6fbee" stop-opacity="0.70"/><stop offset="1" stop-color="#f6fbee" stop-opacity="0.08"/></linearGradient><polygon points="93.1,74.1 74.0,53.0 72.5,69.5 89.9,77.9" fill="url(#sp4)"/><polygon points="91.80,72.80 92.79,72.91 93.78,73.03 94.78,73.16 95.74,73.40 96.67,73.77 97.59,74.15 98.52,74.53 99.44,74.92 100.36,75.30 101.29,75.68 102.21,76.06 103.13,76.45 104.05,76.83 104.98,77.21 105.90,77.59 106.82,77.98 107.77,78.29 108.75,78.48 109.75,78.51 110.73,78.35 111.67,78.02 112.54,77.53 113.33,76.93 114.08,76.26 114.82,75.59 115.56,74.92 116.30,74.25 117.04,73.58 117.78,72.91 118.52,72.24 119.26,71.57 120.00,70.90 120.74,70.23 121.48,69.56 122.23,68.89 122.97,68.22 123.71,67.55 124.45,66.88 125.19,66.21 125.93,65.54 126.67,64.87 127.41,64.20 128.15,63.53 128.89,62.85 129.63,62.18 130.37,61.51 131.11,60.84 131.85,60.17 132.59,59.50 133.33,58.83 134.08,58.16 134.82,57.49 135.56,56.82 136.30,56.15 137.04,55.48 137.78,54.81 138.52,54.14 139.26,53.47 140.00,52.80 140.00,59.83 139.23,60.44 138.46,61.06 137.69,61.68 136.92,62.29 136.15,62.91 135.38,63.53 134.61,64.14 133.84,64.76 133.07,65.38 132.30,65.99 131.53,66.61 130.76,67.23 129.99,67.84 129.22,68.46 128.45,69.08 127.68,69.69 126.91,70.31 126.14,70.93 125.37,71.54 124.60,72.16 123.83,72.78 123.06,73.39 122.29,74.01 121.52,74.63 120.75,75.24 119.98,75.86 119.21,76.48 118.43,77.08 117.65,77.67 116.86,78.23 116.06,78.78 115.26,79.29 114.45,79.77 113.65,80.22 112.85,80.65 112.06,81.04 111.24,81.36 110.37,81.57 109.47,81.66 108.55,81.61 107.62,81.42 106.70,81.11 105.81,80.71 104.93,80.27 104.06,79.82 103.18,79.38 102.30,78.93 101.43,78.48 100.55,78.04 99.68,77.59 98.80,77.15 97.92,76.70 97.05,76.25 96.17,75.81 95.29,75.37 94.38,75.02 93.46,74.76 92.53,74.51 91.60,74.26" fill="#3c3c3e"/><polygon points="91.65,73.94 92.59,74.17 93.53,74.39 94.47,74.62 95.39,74.95 96.28,75.37 97.16,75.80 98.05,76.24 98.94,76.67 99.82,77.10 100.71,77.53 101.60,77.96 102.48,78.40 103.37,78.83 104.25,79.26 105.14,79.69 106.03,80.13 106.93,80.51 107.86,80.79 108.81,80.95 109.74,80.95 110.65,80.81 111.52,80.54 112.33,80.16 113.11,79.71 113.90,79.23 114.69,78.73 115.48,78.21 116.27,77.66 117.06,77.09 117.84,76.51 118.61,75.90 119.38,75.28 120.14,74.65 120.91,74.03 121.67,73.40 122.43,72.77 123.20,72.14 123.96,71.51 124.73,70.88 125.49,70.26 126.25,69.63 127.02,69.00 127.78,68.37 128.54,67.74 129.31,67.12 130.07,66.49 130.84,65.86 131.60,65.23 132.36,64.60 133.13,63.98 133.89,63.35 134.65,62.72 135.42,62.09 136.18,61.46 136.95,60.83 137.71,60.21 138.47,59.58 139.24,58.95 140.00,58.32 140.00,65.10 139.21,65.68 138.42,66.25 137.62,66.83 136.83,67.40 136.04,67.98 135.25,68.56 134.46,69.13 133.66,69.71 132.87,70.29 132.08,70.86 131.29,71.44 130.50,72.02 129.70,72.59 128.91,73.17 128.12,73.74 127.33,74.32 126.54,74.90 125.74,75.47 124.95,76.05 124.16,76.63 123.37,77.20 122.58,77.78 121.78,78.36 120.99,78.93 120.20,79.51 119.41,80.08 118.61,80.66 117.81,81.22 117.00,81.74 116.16,82.23 115.32,82.67 114.47,83.07 113.62,83.41 112.77,83.70 111.93,83.94 111.10,84.12 110.26,84.23 109.40,84.24 108.53,84.14 107.65,83.94 106.77,83.62 105.90,83.23 105.05,82.77 104.21,82.27 103.37,81.78 102.53,81.29 101.68,80.79 100.84,80.30 100.00,79.80 99.16,79.31 98.32,78.82 97.48,78.32 96.64,77.83 95.79,77.34 94.95,76.85 94.09,76.43 93.21,76.06 92.33,75.70 91.46,75.35" fill="#4c4c4e"/><polygon points="91.50,75.04 92.39,75.36 93.28,75.69 94.17,76.03 95.05,76.43 95.90,76.90 96.75,77.38 97.60,77.86 98.46,78.34 99.31,78.82 100.16,79.30 101.01,79.78 101.86,80.26 102.71,80.74 103.56,81.22 104.41,81.70 105.27,82.18 106.13,82.62 107.01,82.99 107.91,83.27 108.80,83.44 109.68,83.48 110.54,83.41 111.37,83.24 112.19,83.00 113.02,82.71 113.86,82.37 114.70,81.99 115.53,81.56 116.36,81.09 117.18,80.58 117.99,80.04 118.78,79.46 119.57,78.88 120.36,78.29 121.14,77.70 121.93,77.11 122.71,76.53 123.50,75.94 124.29,75.35 125.07,74.76 125.86,74.17 126.64,73.59 127.43,73.00 128.21,72.41 129.00,71.82 129.79,71.24 130.57,70.65 131.36,70.06 132.14,69.47 132.93,68.88 133.71,68.30 134.50,67.71 135.29,67.12 136.07,66.53 136.86,65.94 137.64,65.36 138.43,64.77 139.21,64.18 140.00,63.59 140.00,67.11 139.20,67.67 138.40,68.23 137.60,68.79 136.80,69.35 136.00,69.91 135.20,70.47 134.40,71.03 133.60,71.60 132.80,72.16 132.00,72.72 131.20,73.28 130.40,73.84 129.59,74.40 128.79,74.96 127.99,75.52 127.19,76.08 126.39,76.64 125.59,77.21 124.79,77.77 123.99,78.33 123.19,78.89 122.39,79.45 121.59,80.01 120.79,80.57 119.99,81.13 119.19,81.69 118.39,82.25 117.58,82.79 116.75,83.29 115.90,83.75 115.04,84.16 114.17,84.51 113.30,84.80 112.43,85.02 111.58,85.19 110.73,85.30 109.89,85.33 109.03,85.26 108.17,85.09 107.31,84.82 106.45,84.46 105.60,84.03 104.76,83.55 103.93,83.04 103.10,82.53 102.28,82.01 101.45,81.50 100.62,80.99 99.79,80.48 98.96,79.97 98.14,79.45 97.31,78.94 96.48,78.43 95.65,77.92 94.82,77.41 93.97,76.96 93.12,76.56 92.26,76.16 91.40,75.76" fill="#707072"/><polygon points="91.44,75.45 92.32,75.82 93.19,76.19 94.06,76.56 94.92,76.99 95.76,77.48 96.60,77.98 97.44,78.48 98.27,78.98 99.11,79.47 99.95,79.97 100.79,80.47 101.62,80.97 102.46,81.47 103.30,81.97 104.14,82.46 104.98,82.96 105.83,83.43 106.69,83.83 107.57,84.16 108.44,84.38 109.31,84.50 110.17,84.51 111.01,84.41 111.84,84.25 112.68,84.03 113.54,83.76 114.40,83.43 115.25,83.04 116.10,82.61 116.93,82.13 117.75,81.61 118.56,81.06 119.35,80.49 120.15,79.91 120.94,79.34 121.74,78.77 122.53,78.20 123.32,77.62 124.12,77.05 124.91,76.48 125.71,75.91 126.50,75.33 127.29,74.76 128.09,74.19 128.88,73.62 129.68,73.04 130.47,72.47 131.26,71.90 132.06,71.33 132.85,70.75 133.65,70.18 134.44,69.61 135.24,69.04 136.03,68.46 136.82,67.89 137.62,67.32 138.41,66.75 139.21,66.17 140.00,65.60 140.00,73.38 139.17,73.90 138.35,74.41 137.52,74.92 136.69,75.43 135.87,75.95 135.04,76.46 134.21,76.97 133.39,77.49 132.56,78.00 131.73,78.51 130.91,79.03 130.08,79.54 129.25,80.05 128.43,80.56 127.60,81.08 126.77,81.59 125.95,82.10 125.12,82.62 124.29,83.13 123.47,83.64 122.64,84.16 121.81,84.67 120.99,85.18 120.16,85.70 119.33,86.21 118.51,86.72 117.68,87.23 116.84,87.72 115.97,88.14 115.08,88.50 114.16,88.79 113.24,89.00 112.31,89.13 111.39,89.16 110.48,89.10 109.59,88.97 108.73,88.74 107.88,88.43 107.05,88.05 106.24,87.59 105.44,87.09 104.65,86.55 103.85,85.99 103.07,85.43 102.28,84.86 101.50,84.29 100.71,83.72 99.92,83.15 99.14,82.58 98.35,82.01 97.56,81.44 96.78,80.88 95.99,80.31 95.20,79.74 94.42,79.17 93.62,78.63 92.82,78.10 92.02,77.58 91.23,77.06" fill="#ffffff"/><polygon points="91.27,76.75 92.08,77.24 92.89,77.73 93.71,78.23 94.51,78.75 95.31,79.30 96.11,79.86 96.90,80.41 97.70,80.97 98.50,81.52 99.29,82.08 100.09,82.63 100.89,83.19 101.68,83.74 102.48,84.30 103.28,84.85 104.07,85.41 104.87,85.95 105.68,86.46 106.50,86.93 107.32,87.34 108.16,87.67 109.00,87.92 109.86,88.09 110.74,88.17 111.64,88.17 112.55,88.09 113.46,87.92 114.38,87.68 115.27,87.36 116.15,86.98 117.01,86.53 117.85,86.04 118.67,85.51 119.49,84.99 120.31,84.47 121.13,83.94 121.95,83.42 122.77,82.89 123.59,82.37 124.41,81.84 125.23,81.32 126.05,80.79 126.87,80.27 127.69,79.74 128.52,79.22 129.34,78.70 130.16,78.17 130.98,77.65 131.80,77.12 132.62,76.60 133.44,76.07 134.26,75.55 135.08,75.02 135.90,74.50 136.72,73.97 137.54,73.45 138.36,72.93 139.18,72.40 140.00,71.88 140.00,77.90 139.15,78.38 138.31,78.86 137.46,79.34 136.62,79.81 135.77,80.29 134.93,80.77 134.08,81.25 133.24,81.73 132.39,82.21 131.54,82.69 130.70,83.16 129.85,83.64 129.01,84.12 128.16,84.60 127.32,85.08 126.47,85.56 125.63,86.04 124.78,86.51 123.94,86.99 123.09,87.47 122.24,87.95 121.40,88.43 120.55,88.91 119.71,89.38 118.86,89.86 118.02,90.34 117.17,90.82 116.30,91.26 115.41,91.63 114.48,91.93 113.53,92.13 112.57,92.24 111.60,92.25 110.63,92.14 109.69,91.92 108.77,91.61 107.89,91.20 107.05,90.72 106.24,90.17 105.47,89.58 104.72,88.97 103.96,88.36 103.20,87.75 102.45,87.15 101.69,86.54 100.93,85.93 100.18,85.32 99.42,84.71 98.66,84.10 97.91,83.49 97.15,82.88 96.40,82.27 95.64,81.66 94.88,81.05 94.13,80.44 93.37,79.83 92.61,79.22 91.86,78.61 91.10,78.00" fill="#8e8d98"/><rect x="0.3" y="0.3" width="131.4" height="131.4" fill="none" stroke="#000" stroke-opacity="0.07" stroke-width="0.8"/></g><circle cx="26.3" cy="132.2" r="11.75" fill="#b9cae9" stroke="#fff" stroke-width="2.5"/><circle cx="42.3" cy="132.2" r="11.75" fill="#f6c5dd" stroke="#fff" stroke-width="2.5"/></svg></div>
<div class="cap" style="left:215px;top:512.0px">Cleaning of<br>restorative<br>materials</div>
<div class="cell" style="left:369px;top:511px"><svg width="132" height="132" viewBox="0 0 132 132"><g clip-path="url(#cb)"><rect width="132" height="132" fill="url(#bgM)"/><path d="M0,132 L0,124 L15,112 L40,106 L52,92 L70,72 L84,46 L100,37 L132,22 L132,132 Z" fill="url(#gumM)"/><path d="M52,132 Q60,112 74,108 Q90,100 104,86 Q118,74 132,72 L132,132 Z" fill="#f29a78" fill-opacity="0.3"/><path d="M-2,84 Q8,86 15.7,100 Q17,110 13,120 L8,132 L-2,132 Z" fill="url(#molar)"/><path d="M12.9,76 Q17,70.5 24.4,70.7 Q31,71.5 35,73.5 Q41,72.5 45.8,74.5 Q51.5,80 51.6,89 Q50.5,104 47.3,114.6 Q43,120 37.2,120 Q27,117 17.2,107.4 Q12,98 11.5,89 Q11.5,80 12.9,76 Z" fill="url(#molar)"/><path d="M22,80 Q29,76.5 37,80 Q33,85.5 25,84 Z" fill="#f0f0f0"/><path d="M41.5,60.5 Q46,55.5 54.4,54.6 Q60,52.5 63.5,49.5 Q68,45.3 73,45.8 Q80,47.5 86,52 Q91,53.5 95,55.5 Q101.5,59 103.2,65 Q104,77 100.3,86.5 Q90,96 80,101 Q76,104.6 74.5,104.6 Q72,104 68,100 Q60,96.5 54.4,93.1 Q45.5,86 40.8,72 Q40.6,65 41.5,60.5 Z" fill="url(#molar)"/><path d="M58,60 Q66,58.5 72,63.5 Q80,60 88,59.5 M72,63.5 Q73,55 70,49" stroke="#e6dcd0" stroke-width="0.7" fill="none"/><path d="M62,56 Q70,52 76,56 Q82,60 78,66 Q70,70 64,64 Z" fill="#f2f2f2"/><path d="M74,80 L74.5,100" stroke="#ffffff" stroke-width="1.4"/><path d="M91.7,33 Q99,25 106,23.5 Q110,21.5 113.2,21.5 Q122,22 132,25.8 L134,26 L134,63 Q124,66.5 114.6,67.3 Q103,63.5 94.6,57.3 Q90,46 91.7,33 Z" fill="url(#molar)"/><path d="M104,31 Q112,27 119,33 Q112,37.5 106,35.5 Z" fill="#f2f2f2"/><linearGradient id="sp5" gradientUnits="userSpaceOnUse" x1="67.0" y1="39.0" x2="68.0" y2="52.0"><stop offset="0" stop-color="#ffffff" stop-opacity="0.85"/><stop offset="1" stop-color="#ffffff" stop-opacity="0.55"/></linearGradient><polygon points="64.0,39.2 62.0,52.0 74.0,52.0 70.0,38.8" fill="url(#sp5)"/><polygon points="0.00,0.00 1.53,0.25 3.05,0.51 4.58,0.76 6.11,1.01 7.63,1.27 9.16,1.52 10.69,1.78 12.21,2.03 13.74,2.28 15.27,2.54 16.79,2.79 18.32,3.04 19.85,3.30 21.37,3.55 22.90,3.80 24.43,4.06 25.95,4.31 27.48,4.56 29.01,4.82 30.53,5.07 32.06,5.33 33.59,5.58 35.11,5.83 36.64,6.09 38.17,6.34 39.69,6.59 41.22,6.85 42.75,7.10 44.27,7.35 45.80,7.61 47.33,7.86 48.85,8.12 50.38,8.37 51.91,8.62 53.43,8.88 54.96,9.13 56.49,9.39 58.00,9.71 59.47,10.18 60.88,10.82 62.18,11.66 63.28,12.75 64.14,14.03 64.78,15.43 65.26,16.90 65.62,18.41 65.98,19.92 66.33,21.42 66.68,22.93 67.03,24.44 67.38,25.94 67.74,27.45 68.09,28.96 68.44,30.46 68.79,31.97 69.14,33.48 69.50,34.99 69.85,36.49 70.20,38.00 68.34,38.41 67.97,36.99 67.60,35.57 67.22,34.15 66.85,32.73 66.48,31.31 66.10,29.89 65.73,28.48 65.36,27.06 64.98,25.64 64.60,24.23 64.19,22.82 63.76,21.43 63.30,20.06 62.80,18.71 62.18,17.42 61.40,16.24 60.44,15.20 59.30,14.36 58.01,13.73 56.64,13.28 55.23,12.95 53.78,12.72 52.33,12.55 50.88,12.37 49.42,12.20 47.97,12.02 46.52,11.84 45.06,11.67 43.61,11.49 42.16,11.32 40.70,11.14 39.25,10.97 37.79,10.79 36.34,10.62 34.89,10.44 33.43,10.27 31.98,10.09 30.53,9.92 29.07,9.74 27.62,9.57 26.17,9.39 24.71,9.22 23.26,9.04 21.80,8.86 20.35,8.69 18.90,8.51 17.44,8.34 15.99,8.16 14.54,7.99 13.08,7.81 11.63,7.64 10.18,7.46 8.72,7.29 7.27,7.11 5.81,6.94 4.36,6.76 2.91,6.59 1.45,6.41 0.00,6.24" fill="#9a9a9c"/><polygon points="0.00,4.95 1.47,5.14 2.94,5.33 4.41,5.52 5.87,5.71 7.34,5.90 8.81,6.09 10.28,6.29 11.75,6.48 13.22,6.67 14.69,6.86 16.16,7.05 17.62,7.24 19.09,7.43 20.56,7.63 22.03,7.82 23.50,8.01 24.97,8.20 26.44,8.39 27.91,8.58 29.37,8.77 30.84,8.97 32.31,9.16 33.78,9.35 35.25,9.54 36.72,9.73 38.19,9.92 39.66,10.12 41.12,10.31 42.59,10.50 44.06,10.69 45.53,10.88 47.00,11.07 48.47,11.26 49.94,11.46 51.41,11.65 52.87,11.84 54.34,12.03 55.80,12.28 57.23,12.64 58.61,13.13 59.90,13.80 61.03,14.69 61.97,15.78 62.72,17.01 63.31,18.33 63.78,19.72 64.22,21.12 64.63,22.53 65.03,23.96 65.41,25.39 65.78,26.83 66.15,28.26 66.51,29.70 66.88,31.14 67.25,32.57 67.62,34.01 67.99,35.45 68.36,36.89 68.73,38.32 67.19,38.66 66.81,37.29 66.42,35.93 66.03,34.57 65.65,33.20 65.26,31.84 64.87,30.48 64.49,29.11 64.10,27.75 63.71,26.39 63.30,25.03 62.86,23.69 62.38,22.37 61.85,21.08 61.27,19.83 60.57,18.65 59.71,17.61 58.69,16.72 57.52,16.03 56.23,15.54 54.89,15.20 53.51,14.96 52.11,14.79 50.70,14.67 49.29,14.54 47.88,14.41 46.47,14.29 45.07,14.16 43.66,14.03 42.25,13.91 40.84,13.78 39.43,13.65 38.02,13.53 36.62,13.40 35.21,13.27 33.80,13.15 32.39,13.02 30.98,12.89 29.57,12.77 28.17,12.64 26.76,12.51 25.35,12.39 23.94,12.26 22.53,12.13 21.12,12.01 19.72,11.88 18.31,11.75 16.90,11.63 15.49,11.50 14.08,11.37 12.67,11.25 11.27,11.12 9.86,10.99 8.45,10.87 7.04,10.74 5.63,10.61 4.22,10.49 2.82,10.36 1.41,10.23 0.00,10.10" fill="#fafafa"/><polygon points="0.00,8.82 1.42,8.96 2.85,9.10 4.27,9.24 5.69,9.39 7.12,9.53 8.54,9.67 9.96,9.82 11.39,9.96 12.81,10.10 14.23,10.24 15.66,10.39 17.08,10.53 18.50,10.67 19.93,10.82 21.35,10.96 22.77,11.10 24.20,11.24 25.62,11.39 27.05,11.53 28.47,11.67 29.89,11.82 31.32,11.96 32.74,12.10 34.16,12.24 35.59,12.39 37.01,12.53 38.43,12.67 39.86,12.82 41.28,12.96 42.70,13.10 44.13,13.24 45.55,13.39 46.97,13.53 48.40,13.67 49.82,13.82 51.24,13.96 52.67,14.10 54.08,14.29 55.47,14.56 56.83,14.93 58.11,15.47 59.27,16.22 60.27,17.15 61.10,18.24 61.78,19.45 62.33,20.74 62.84,22.06 63.30,23.40 63.73,24.76 64.13,26.14 64.52,27.52 64.90,28.90 65.28,30.28 65.66,31.66 66.05,33.05 66.43,34.43 66.81,35.81 67.19,37.19 67.58,38.57 66.49,38.81 66.09,37.48 65.70,36.15 65.30,34.82 64.91,33.49 64.51,32.16 64.12,30.83 63.72,29.50 63.33,28.17 62.93,26.84 62.51,25.52 62.05,24.22 61.54,22.95 60.97,21.70 60.34,20.51 59.58,19.41 58.67,18.45 57.61,17.66 56.43,17.05 55.15,16.64 53.82,16.37 52.46,16.19 51.08,16.06 49.70,15.96 48.32,15.86 46.94,15.77 45.56,15.67 44.18,15.57 42.80,15.48 41.42,15.38 40.04,15.28 38.66,15.19 37.28,15.09 35.90,14.99 34.52,14.89 33.13,14.80 31.75,14.70 30.37,14.60 28.99,14.51 27.61,14.41 26.23,14.31 24.85,14.22 23.47,14.12 22.09,14.02 20.71,13.92 19.33,13.83 17.95,13.73 16.57,13.63 15.19,13.54 13.81,13.44 12.43,13.34 11.04,13.25 9.66,13.15 8.28,13.05 6.90,12.95 5.52,12.86 4.14,12.76 2.76,12.66 1.38,12.57 0.00,12.47" fill="#858587"/><polygon points="0.00,11.18 1.40,11.29 2.79,11.41 4.19,11.52 5.58,11.63 6.98,11.75 8.37,11.86 9.77,11.97 11.17,12.09 12.56,12.20 13.96,12.31 15.35,12.43 16.75,12.54 18.14,12.65 19.54,12.76 20.94,12.88 22.33,12.99 23.73,13.10 25.12,13.22 26.52,13.33 27.91,13.44 29.31,13.56 30.71,13.67 32.10,13.78 33.50,13.90 34.89,14.01 36.29,14.12 37.68,14.24 39.08,14.35 40.48,14.46 41.87,14.58 43.27,14.69 44.66,14.80 46.06,14.92 47.45,15.03 48.85,15.14 50.25,15.26 51.64,15.37 53.03,15.52 54.40,15.73 55.74,16.04 57.02,16.50 58.20,17.15 59.23,17.99 60.12,19.00 60.84,20.14 61.45,21.36 62.00,22.63 62.49,23.93 62.94,25.25 63.36,26.59 63.75,27.94 64.14,29.29 64.53,30.64 64.92,31.99 65.31,33.33 65.70,34.68 66.09,36.03 66.48,37.38 66.87,38.73 64.89,39.16 64.47,37.91 64.06,36.65 63.65,35.40 63.24,34.15 62.82,32.89 62.41,31.64 62.00,30.39 61.58,29.13 61.17,27.88 60.72,26.64 60.21,25.43 59.62,24.25 58.96,23.12 58.21,22.07 57.34,21.12 56.31,20.35 55.17,19.77 53.95,19.38 52.68,19.15 51.38,19.04 50.07,18.98 48.75,18.94 47.44,18.91 46.12,18.88 44.80,18.85 43.48,18.82 42.17,18.79 40.85,18.76 39.53,18.73 38.21,18.70 36.89,18.67 35.58,18.64 34.26,18.61 32.94,18.58 31.62,18.55 30.31,18.52 28.99,18.49 27.67,18.46 26.35,18.43 25.04,18.41 23.72,18.38 22.40,18.35 21.08,18.32 19.77,18.29 18.45,18.26 17.13,18.23 15.81,18.20 14.49,18.17 13.18,18.14 11.86,18.11 10.54,18.08 9.22,18.05 7.91,18.02 6.59,17.99 5.27,17.96 3.95,17.93 2.64,17.90 1.32,17.87 0.00,17.85" fill="#626264"/><polygon points="0.00,16.55 1.33,16.60 2.67,16.65 4.00,16.69 5.33,16.74 6.66,16.78 8.00,16.83 9.33,16.87 10.66,16.92 12.00,16.97 13.33,17.01 14.66,17.06 15.99,17.10 17.33,17.15 18.66,17.19 19.99,17.24 21.32,17.29 22.66,17.33 23.99,17.38 25.32,17.42 26.66,17.47 27.99,17.51 29.32,17.56 30.65,17.61 31.99,17.65 33.32,17.70 34.65,17.74 35.99,17.79 37.32,17.83 38.65,17.88 39.98,17.93 41.32,17.97 42.65,18.02 43.98,18.06 45.31,18.11 46.65,18.15 47.98,18.20 49.31,18.25 50.64,18.31 51.96,18.40 53.27,18.55 54.54,18.82 55.76,19.26 56.88,19.90 57.88,20.71 58.72,21.69 59.45,22.78 60.08,23.94 60.65,25.14 61.15,26.37 61.59,27.63 62.00,28.90 62.41,30.17 62.82,31.45 63.23,32.72 63.64,33.99 64.05,35.26 64.45,36.53 64.86,37.81 65.27,39.08 63.80,39.40 63.37,38.20 62.95,37.00 62.52,35.79 62.10,34.59 61.67,33.39 61.25,32.19 60.82,30.99 60.39,29.79 59.97,28.58 59.50,27.40 58.95,26.25 58.32,25.14 57.60,24.09 56.77,23.12 55.81,22.28 54.71,21.65 53.51,21.21 52.27,20.96 50.99,20.86 49.72,20.86 48.44,20.88 47.17,20.89 45.90,20.91 44.62,20.93 43.35,20.94 42.07,20.96 40.80,20.98 39.52,20.99 38.25,21.01 36.97,21.02 35.70,21.04 34.42,21.06 33.15,21.07 31.87,21.09 30.60,21.11 29.32,21.12 28.05,21.14 26.77,21.16 25.50,21.17 24.22,21.19 22.95,21.20 21.67,21.22 20.40,21.24 19.12,21.25 17.85,21.27 16.57,21.29 15.30,21.30 14.02,21.32 12.75,21.34 11.47,21.35 10.20,21.37 8.92,21.39 7.65,21.40 6.37,21.42 5.10,21.43 3.82,21.45 2.55,21.47 1.27,21.48 0.00,21.50" fill="#7e7e80"/><rect x="0.3" y="0.3" width="131.4" height="131.4" fill="none" stroke="#000" stroke-opacity="0.07" stroke-width="0.8"/></g><circle cx="26.3" cy="132.2" r="11.75" fill="#b9cae9" stroke="#fff" stroke-width="2.5"/><circle cx="42.3" cy="132.2" r="11.75" fill="#f6c5dd" stroke="#fff" stroke-width="2.5"/></svg></div>
<div class="cap" style="left:523px;top:512.0px">Care of<br>fillings</div>
<div class="cell" style="left:677px;top:511px"><svg width="132" height="132" viewBox="0 0 132 132"><g clip-path="url(#cb)"><rect width="132" height="132" fill="url(#bgH)"/><path d="M38,0 H134 V78 H41.5 L41.5,69.0 Q38,67.0 38,62.0 Z" fill="url(#gumF)"/><path d="M38,0 H134 V78 H41.5 L41.5,69.0 Q38,67.0 38,62.0 Z" fill="url(#gumFv)"/><path d="M41,81.4 C40.6,66.4 43,52.4 46.4,51.4 C49.5,51.4 51.5,56.4 52.5,62.4 L51,93.0 C47,94.0 44,93.5 43,92.0 C41.5,88.0 41,83.0 41,81.4 Z" fill="url(#toothF)"/><path d="M48.8,91.0 C48.5,70.0 50,55.0 53,48.6 C55,45.1 57,44.8 59.2,45.0 C64,45.6 68,53.0 69.8,61.0 L70,93.5 C66,95.0 62,95.0 59.7,94.7 C55,94.5 51,93.5 48.8,91.0 Z" fill="url(#toothF)"/><path d="M70.5,58.6 C71.5,50.6 77,44.1 83.4,44.0 C92,44.1 100,52.6 102.3,64.0 L102,91.5 C98,94.0 92,95.2 85.4,95.2 C79,95.0 74,94.0 71.2,93.0 C70.4,80.0 70.3,64.0 70.5,58.6 Z" fill="url(#toothF)"/><path d="M103.6,61.6 C106,51.6 111,47.0 116.9,47.0 C124,47.1 131,53.6 134,59.6 L134,93.0 C128,94.0 122,94.2 117,94.2 C112,94.0 106,93.5 103.6,92.5 Z" fill="url(#toothF)"/><line x1="40.5" y1="74.1" x2="134" y2="74.1" stroke="#8e8e8e" stroke-width="1.1"/><rect x="39.9" y="69.7" width="5.0" height="8.9" rx="0.8" fill="#9a9a9a"/><rect x="40.2" y="70.2" width="2.0" height="3.4" rx="0.7" fill="#d4d4d4"/><rect x="40.2" y="70.2" width="1.4" height="2.3" rx="0.5" fill="#ffffff"/><rect x="42.6" y="70.2" width="2.0" height="3.4" rx="0.7" fill="#d4d4d4"/><rect x="42.6" y="70.2" width="1.4" height="2.3" rx="0.5" fill="#ffffff"/><rect x="40.2" y="74.7" width="2.0" height="3.4" rx="0.7" fill="#d4d4d4"/><rect x="40.2" y="74.7" width="1.4" height="2.3" rx="0.5" fill="#ffffff"/><rect x="42.6" y="74.7" width="2.0" height="3.4" rx="0.7" fill="#d4d4d4"/><rect x="42.6" y="74.7" width="1.4" height="2.3" rx="0.5" fill="#ffffff"/><rect x="50.3" y="68.7" width="10.4" height="10.8" rx="0.8" fill="#9a9a9a"/><rect x="50.9" y="69.3" width="4.2" height="4.1" rx="0.7" fill="#d4d4d4"/><rect x="50.9" y="69.3" width="2.9" height="2.8" rx="0.5" fill="#ffffff"/><rect x="55.9" y="69.3" width="4.2" height="4.1" rx="0.7" fill="#d4d4d4"/><rect x="55.9" y="69.3" width="2.9" height="2.8" rx="0.5" fill="#ffffff"/><rect x="50.9" y="74.7" width="4.2" height="4.1" rx="0.7" fill="#d4d4d4"/><rect x="50.9" y="74.7" width="2.9" height="2.8" rx="0.5" fill="#ffffff"/><rect x="55.9" y="74.7" width="4.2" height="4.1" rx="0.7" fill="#d4d4d4"/><rect x="55.9" y="74.7" width="2.9" height="2.8" rx="0.5" fill="#ffffff"/><rect x="72.0" y="67.2" width="15.3" height="13.3" rx="0.8" fill="#9a9a9a"/><rect x="72.9" y="68.0" width="6.1" height="5.1" rx="0.7" fill="#d4d4d4"/><rect x="72.9" y="68.0" width="4.3" height="3.5" rx="0.5" fill="#ffffff"/><rect x="80.3" y="68.0" width="6.1" height="5.1" rx="0.7" fill="#d4d4d4"/><rect x="80.3" y="68.0" width="4.3" height="3.5" rx="0.5" fill="#ffffff"/><rect x="72.9" y="74.6" width="6.1" height="5.1" rx="0.7" fill="#d4d4d4"/><rect x="72.9" y="74.6" width="4.3" height="3.5" rx="0.5" fill="#ffffff"/><rect x="80.3" y="74.6" width="6.1" height="5.1" rx="0.7" fill="#d4d4d4"/><rect x="80.3" y="74.6" width="4.3" height="3.5" rx="0.5" fill="#ffffff"/><rect x="108.5" y="67.2" width="16.8" height="14.3" rx="0.8" fill="#9a9a9a"/><rect x="109.5" y="68.1" width="6.7" height="5.4" rx="0.7" fill="#d4d4d4"/><rect x="109.5" y="68.1" width="4.7" height="3.7" rx="0.5" fill="#ffffff"/><rect x="117.6" y="68.1" width="6.7" height="5.4" rx="0.7" fill="#d4d4d4"/><rect x="117.6" y="68.1" width="4.7" height="3.7" rx="0.5" fill="#ffffff"/><rect x="109.5" y="75.2" width="6.7" height="5.4" rx="0.7" fill="#d4d4d4"/><rect x="109.5" y="75.2" width="4.7" height="3.7" rx="0.5" fill="#ffffff"/><rect x="117.6" y="75.2" width="6.7" height="5.4" rx="0.7" fill="#d4d4d4"/><rect x="117.6" y="75.2" width="4.7" height="3.7" rx="0.5" fill="#ffffff"/><polygon points="88,52 96,51 101,96 89,96" fill="#dcdcdc" fill-opacity="0.45"/><polygon points="90,52 95,51.5 98.5,96 91,96" fill="#f2f2f2" fill-opacity="0.6"/><circle cx="92" cy="100" r="0.55" fill="#e8f4d0" fill-opacity="0.8"/><circle cx="96" cy="104" r="0.55" fill="#e8f4d0" fill-opacity="0.8"/><circle cx="100" cy="99" r="0.55" fill="#e8f4d0" fill-opacity="0.8"/><circle cx="104" cy="106" r="0.55" fill="#e8f4d0" fill-opacity="0.8"/><circle cx="94" cy="109" r="0.55" fill="#e8f4d0" fill-opacity="0.8"/><circle cx="108" cy="102" r="0.55" fill="#e8f4d0" fill-opacity="0.8"/><circle cx="112" cy="108" r="0.55" fill="#e8f4d0" fill-opacity="0.8"/><circle cx="100" cy="112" r="0.55" fill="#e8f4d0" fill-opacity="0.8"/><circle cx="106" cy="114" r="0.55" fill="#e8f4d0" fill-opacity="0.8"/><circle cx="89" cy="105" r="0.55" fill="#e8f4d0" fill-opacity="0.8"/><polygon points="0.00,2.00 2.00,2.44 4.00,2.88 6.00,3.32 7.99,3.76 9.99,4.20 11.99,4.64 13.99,5.08 15.99,5.52 17.99,5.96 19.98,6.40 21.98,6.84 23.98,7.28 25.98,7.72 27.98,8.16 29.98,8.60 31.98,9.04 33.97,9.48 35.97,9.92 37.97,10.36 39.97,10.80 41.97,11.24 43.97,11.68 45.96,12.12 47.96,12.56 49.96,13.00 51.96,13.44 53.96,13.88 55.96,14.32 57.96,14.77 59.95,15.21 61.95,15.65 63.95,16.09 65.95,16.53 67.95,16.97 69.95,17.41 71.94,17.85 73.94,18.29 75.94,18.73 77.94,19.17 79.94,19.61 81.92,20.10 83.87,20.73 85.76,21.51 87.55,22.50 89.15,23.78 90.39,25.40 91.23,27.26 91.72,29.24 92.13,31.25 92.54,33.25 92.94,35.26 93.35,37.26 93.76,39.27 94.16,41.27 94.57,43.28 94.98,45.28 95.39,47.29 95.79,49.29 96.20,51.30 93.94,51.59 93.51,49.69 93.07,47.80 92.64,45.90 92.21,44.01 91.78,42.11 91.34,40.22 90.89,38.32 90.40,36.45 89.85,34.61 89.26,32.80 88.61,31.04 87.85,29.35 86.82,27.79 85.48,26.48 83.86,25.47 82.10,24.73 80.27,24.17 78.39,23.73 76.49,23.38 74.57,23.06 72.66,22.75 70.75,22.44 68.84,22.12 66.93,21.81 65.01,21.50 63.10,21.19 61.19,20.87 59.28,20.56 57.36,20.25 55.45,19.94 53.54,19.62 51.63,19.31 49.72,19.00 47.80,18.69 45.89,18.37 43.98,18.06 42.07,17.75 40.16,17.44 38.24,17.12 36.33,16.81 34.42,16.50 32.51,16.19 30.59,15.87 28.68,15.56 26.77,15.25 24.86,14.94 22.95,14.62 21.03,14.31 19.12,14.00 17.21,13.69 15.30,13.37 13.39,13.06 11.47,12.75 9.56,12.44 7.65,12.12 5.74,11.81 3.82,11.50 1.91,11.19 0.00,10.87" fill="#9a9a9c"/><polygon points="0.00,9.04 1.93,9.38 3.86,9.72 5.79,10.05 7.72,10.39 9.65,10.73 11.58,11.07 13.51,11.41 15.44,11.75 17.37,12.09 19.30,12.43 21.23,12.77 23.16,13.11 25.09,13.44 27.02,13.78 28.95,14.12 30.88,14.46 32.81,14.80 34.74,15.14 36.67,15.48 38.60,15.82 40.53,16.16 42.46,16.49 44.39,16.83 46.32,17.17 48.25,17.51 50.18,17.85 52.11,18.19 54.04,18.53 55.97,18.87 57.90,19.21 59.83,19.55 61.76,19.88 63.69,20.22 65.62,20.56 67.55,20.90 69.48,21.24 71.41,21.58 73.34,21.92 75.27,22.26 77.20,22.60 79.12,22.98 81.01,23.46 82.86,24.06 84.62,24.86 86.24,25.92 87.56,27.30 88.55,28.91 89.25,30.67 89.85,32.48 90.41,34.33 90.93,36.20 91.40,38.10 91.84,40.02 92.27,41.94 92.70,43.86 93.12,45.77 93.55,47.69 93.98,49.61 94.41,51.53 92.53,51.77 92.09,49.94 91.64,48.11 91.19,46.29 90.74,44.46 90.29,42.63 89.84,40.80 89.37,38.98 88.82,37.19 88.19,35.45 87.47,33.77 86.67,32.16 85.76,30.65 84.61,29.28 83.20,28.15 81.57,27.31 79.83,26.73 78.03,26.31 76.20,25.98 74.34,25.71 72.49,25.48 70.63,25.25 68.77,25.01 66.91,24.78 65.05,24.55 63.19,24.31 61.33,24.08 59.48,23.85 57.62,23.61 55.76,23.38 53.90,23.15 52.04,22.91 50.18,22.68 48.32,22.45 46.46,22.21 44.61,21.98 42.75,21.75 40.89,21.51 39.03,21.28 37.17,21.05 35.31,20.81 33.45,20.58 31.60,20.35 29.74,20.11 27.88,19.88 26.02,19.65 24.16,19.41 22.30,19.18 20.44,18.95 18.59,18.71 16.73,18.48 14.87,18.25 13.01,18.02 11.15,17.78 9.29,17.55 7.43,17.32 5.58,17.08 3.72,16.85 1.86,16.62 0.00,16.38" fill="#fafafa"/><polygon points="0.00,14.55 1.88,14.81 3.75,15.07 5.63,15.33 7.51,15.58 9.38,15.84 11.26,16.10 13.14,16.36 15.01,16.62 16.89,16.88 18.76,17.14 20.64,17.40 22.52,17.66 24.39,17.92 26.27,18.18 28.15,18.44 30.02,18.70 31.90,18.96 33.78,19.22 35.65,19.48 37.53,19.74 39.41,20.00 41.28,20.26 43.16,20.52 45.03,20.78 46.91,21.04 48.79,21.30 50.66,21.56 52.54,21.82 54.42,22.08 56.29,22.34 58.17,22.60 60.05,22.86 61.92,23.12 63.80,23.38 65.68,23.64 67.55,23.90 69.43,24.16 71.31,24.41 73.18,24.67 75.06,24.93 76.93,25.23 78.77,25.59 80.58,26.06 82.33,26.70 83.96,27.59 85.35,28.79 86.46,30.21 87.32,31.79 88.07,33.44 88.75,35.17 89.35,36.95 89.88,38.76 90.34,40.61 90.79,42.46 91.23,44.31 91.67,46.16 92.12,48.01 92.56,49.86 93.00,51.71 91.68,51.88 91.22,50.09 90.76,48.31 90.30,46.52 89.84,44.74 89.39,42.95 88.93,41.16 88.44,39.39 87.86,37.65 87.17,35.96 86.38,34.36 85.49,32.84 84.48,31.44 83.26,30.19 81.81,29.18 80.17,28.44 78.44,27.95 76.66,27.61 74.85,27.35 73.03,27.14 71.21,26.96 69.38,26.77 67.56,26.59 65.73,26.40 63.91,26.22 62.08,26.03 60.25,25.85 58.43,25.66 56.60,25.48 54.78,25.29 52.95,25.11 51.12,24.92 49.30,24.74 47.47,24.55 45.65,24.37 43.82,24.18 41.99,24.00 40.17,23.82 38.34,23.63 36.52,23.45 34.69,23.26 32.87,23.08 31.04,22.89 29.21,22.71 27.39,22.52 25.56,22.34 23.74,22.15 21.91,21.97 20.08,21.78 18.26,21.60 16.43,21.41 14.61,21.23 12.78,21.04 10.96,20.86 9.13,20.67 7.30,20.49 5.48,20.30 3.65,20.12 1.83,19.93 0.00,19.75" fill="#858587"/><polygon points="0.00,17.91 1.84,18.12 3.69,18.33 5.53,18.55 7.37,18.76 9.22,18.97 11.06,19.18 12.91,19.39 14.75,19.60 16.59,19.81 18.44,20.02 20.28,20.24 22.12,20.45 23.97,20.66 25.81,20.87 27.66,21.08 29.50,21.29 31.34,21.50 33.19,21.72 35.03,21.93 36.87,22.14 38.72,22.35 40.56,22.56 42.41,22.77 44.25,22.98 46.09,23.19 47.94,23.41 49.78,23.62 51.62,23.83 53.47,24.04 55.31,24.25 57.16,24.46 59.00,24.67 60.84,24.88 62.69,25.10 64.53,25.31 66.37,25.52 68.22,25.73 70.06,25.94 71.90,26.15 73.75,26.36 75.59,26.60 77.41,26.90 79.20,27.28 80.94,27.82 82.57,28.62 83.99,29.70 85.18,31.01 86.14,32.47 86.98,34.03 87.73,35.68 88.38,37.40 88.95,39.17 89.43,40.97 89.88,42.78 90.33,44.58 90.79,46.39 91.24,48.20 91.69,50.01 92.14,51.82 89.73,52.13 89.25,50.44 88.77,48.75 88.29,47.06 87.81,45.36 87.33,43.67 86.85,41.98 86.32,40.30 85.67,38.68 84.86,37.13 83.91,35.70 82.81,34.39 81.57,33.24 80.18,32.26 78.65,31.50 76.99,30.99 75.28,30.72 73.55,30.58 71.81,30.48 70.06,30.39 68.31,30.32 66.56,30.24 64.80,30.17 63.05,30.09 61.30,30.02 59.55,29.94 57.80,29.87 56.05,29.79 54.30,29.72 52.54,29.64 50.79,29.57 49.04,29.49 47.29,29.42 45.54,29.34 43.79,29.27 42.04,29.19 40.28,29.12 38.53,29.04 36.78,28.97 35.03,28.89 33.28,28.82 31.53,28.74 29.78,28.67 28.02,28.60 26.27,28.52 24.52,28.45 22.77,28.37 21.02,28.30 19.27,28.22 17.51,28.15 15.76,28.07 14.01,28.00 12.26,27.92 10.51,27.85 8.76,27.77 7.01,27.70 5.25,27.62 3.50,27.55 1.75,27.47 0.00,27.40" fill="#626264"/><polygon points="0.00,25.56 1.77,25.66 3.54,25.76 5.31,25.87 7.08,25.97 8.85,26.07 10.62,26.17 12.39,26.27 14.15,26.37 15.92,26.47 17.69,26.57 19.46,26.68 21.23,26.78 23.00,26.88 24.77,26.98 26.54,27.08 28.31,27.18 30.08,27.28 31.85,27.38 33.62,27.49 35.39,27.59 37.16,27.69 38.93,27.79 40.69,27.89 42.46,27.99 44.23,28.09 46.00,28.19 47.77,28.30 49.54,28.40 51.31,28.50 53.08,28.60 54.85,28.70 56.62,28.80 58.39,28.90 60.16,29.00 61.93,29.11 63.70,29.21 65.47,29.31 67.23,29.41 69.00,29.51 70.77,29.61 72.54,29.73 74.30,29.87 76.04,30.05 77.76,30.38 79.40,30.94 80.92,31.77 82.27,32.81 83.45,34.02 84.50,35.37 85.42,36.85 86.19,38.43 86.83,40.08 87.35,41.78 87.82,43.50 88.30,45.21 88.77,46.93 89.24,48.64 89.72,50.36 90.19,52.07 88.40,52.30 87.91,50.67 87.41,49.05 86.92,47.42 86.42,45.79 85.93,44.16 85.43,42.54 84.88,40.93 84.18,39.38 83.29,37.93 82.22,36.61 80.98,35.45 79.59,34.47 78.09,33.67 76.49,33.09 74.83,32.73 73.14,32.60 71.44,32.60 69.74,32.60 68.04,32.60 66.33,32.60 64.63,32.60 62.93,32.60 61.23,32.60 59.53,32.60 57.83,32.60 56.13,32.60 54.43,32.60 52.73,32.60 51.03,32.60 49.33,32.60 47.62,32.60 45.92,32.60 44.22,32.60 42.52,32.60 40.82,32.60 39.12,32.60 37.42,32.60 35.72,32.60 34.02,32.60 32.32,32.60 30.62,32.60 28.92,32.60 27.21,32.60 25.51,32.60 23.81,32.60 22.11,32.60 20.41,32.60 18.71,32.60 17.01,32.60 15.31,32.60 13.61,32.60 11.91,32.60 10.21,32.60 8.50,32.60 6.80,32.60 5.10,32.60 3.40,32.60 1.70,32.60 0.00,32.60" fill="#7e7e80"/><line x1="39" y1="12" x2="39.5" y2="32" stroke="#d8d8d8" stroke-width="0.5"/><rect x="0.3" y="0.3" width="131.4" height="131.4" fill="none" stroke="#000" stroke-opacity="0.07" stroke-width="0.8"/></g><circle cx="26.3" cy="132.2" r="11.75" fill="#8fd400" stroke="#fff" stroke-width="2.5"/><circle cx="42.3" cy="132.2" r="11.75" fill="#b9cae9" stroke="#fff" stroke-width="2.5"/><circle cx="58.3" cy="132.2" r="11.75" fill="#f6c5dd" stroke="#fff" stroke-width="2.5"/></svg></div>
<div class="cap" style="left:831px;top:512.0px">Cleaning<br>of brackets</div>
<div class="cell" style="left:61px;top:698px"><svg width="132" height="132" viewBox="0 0 132 132"><g clip-path="url(#cb)"><rect width="132" height="132" fill="url(#bgV)"/><ellipse cx="48" cy="104" rx="50" ry="40" fill="url(#glow)"/><g transform="translate(1.5,0)"><path d="M9.4,132 L12.8,78 Q14,72.2 18.8,72.2 Q24.5,72.2 26,80 L28,132 Z" fill="url(#gumG)"/><path d="M13.8,132 L16,88 Q17,83.6 19.2,83.6 Q22,83.6 23.5,90 L26,132 Z" fill="url(#bone)"/><path d="M67,132 L68,80 Q69.5,72.2 75.5,72.2 Q81,72.2 81.4,78 L84.9,132 Z" fill="url(#gumG)"/><path d="M69.1,132 L70,92 Q71.5,86.6 75,86.6 Q78.5,86.6 79.5,92 L82,132 Z" fill="url(#bone)"/></g><g transform="translate(-1.5,1.0)"><path d="M22.3,66 C20.8,55 24,43.5 32,41.2 C38,40.2 43,43 46.7,45.5 C51,42.6 57,40.2 63,40.8 C71,43 73.3,55 72.2,64 C71.6,72 69.5,78 68.8,86 L65.5,132 L28.5,132 L25,86 C24.2,78 22.8,72 22.3,66 Z" fill="#ffffff"/><path d="M24.2,66 C23.6,61 23.6,57 24.2,54.5 C32,52.5 40,53 46.7,53.8 C56,54.5 64,57 70.6,60.5 C70.8,62 70.7,63 70.5,64 C70,72 67.8,78 67,86 L63.8,132 L30.2,132 L26.8,86 C26,78 24.5,72 24.2,66 Z" fill="#fdf2e2"/><path d="M30.6,63.2 Q31,63 32,63 Q46.9,64.6 62,63 Q63,63 63.4,63.2 L63.2,82 Q64.6,95 64.4,104 Q63.5,110 61.7,116 Q59.8,110 58.8,104 Q57.8,94 56,89 Q52,81.5 46.9,81.2 Q41.8,81.5 37.8,89 Q36,94 35,104 Q34,110 31.6,116 Q29.8,110 29.4,104 Q29.2,95 30.8,82 Z" fill="#f5d6e0"/><path d="M31.8,64.4 Q46.9,66 62.2,64.4 L62,82 Q63.3,95 63.1,104 Q62.6,108 61.7,112 Q60.8,108 60.2,104 Q59.2,94 57.3,88.5 Q53,80 46.9,79.8 Q40.8,80 36.5,88.5 Q34.6,94 33.6,104 Q33,108 31.8,112 Q30.8,108 30.6,104 Q30.5,95 32,82 Z" fill="#e3a0b7"/><path d="M39.6,45.5 L54,45.5 L54,54 L39.6,54 Z" fill="#ece4dc"/><path d="M39.6,45.5 L54,45.5 L54,47 L39.6,47 Z" fill="#d8d0c8"/><path d="M35,132 L37.5,96 Q38.5,86.5 46.9,86.5 Q55.3,86.5 56.3,96 L58.8,132 Z" fill="#f8fafc"/><path d="M37,132 L39.7,97 Q40.5,90.6 46.9,90.6 Q53.3,90.6 54.1,97 L56.8,132 Z" fill="#e9845f"/><path d="M39.3,132 L41.8,98.5 Q42.5,93.3 46.9,93.3 Q51.3,93.3 52,98.5 L54.5,132 Z" fill="url(#bone)"/></g><linearGradient id="sp6" gradientUnits="userSpaceOnUse" x1="46.8" y1="30.0" x2="46.5" y2="46.0"><stop offset="0" stop-color="#ffffff" stop-opacity="0.45"/><stop offset="1" stop-color="#ffffff" stop-opacity="0.25"/></linearGradient><polygon points="42.3,29.9 40.5,46.0 52.5,46.0 51.3,30.1" fill="url(#sp6)"/><polygon points="42.40,30.00 42.36,28.57 42.32,27.15 42.28,25.72 42.24,24.29 42.20,22.87 42.16,21.44 42.11,20.02 42.07,18.59 42.03,17.16 41.99,15.74 41.95,14.31 41.91,12.88 41.87,11.46 41.83,10.03 41.79,8.61 41.75,7.18 41.71,5.75 41.67,4.33 41.70,2.90 41.79,1.48 41.96,0.06 42.19,-1.35 42.47,-2.75 43.00,-4.07 43.88,-5.18 45.07,-5.96 46.43,-6.38 47.84,-6.57 49.26,-6.74 50.68,-6.90 52.09,-7.07 53.51,-7.24 54.93,-7.40 56.34,-7.57 57.76,-7.71 59.19,-7.83 60.61,-7.92 62.04,-7.97 63.46,-8.00 64.89,-8.00 66.32,-8.00 67.74,-8.00 69.17,-8.00 70.60,-8.00 72.02,-8.00 73.45,-8.00 74.88,-8.00 76.30,-8.00 77.73,-8.00 79.16,-8.00 80.59,-8.00 82.01,-8.00 83.44,-8.00 84.87,-8.00 86.29,-8.00 87.72,-8.00 89.15,-8.00 90.57,-8.00 92.00,-8.00 92.00,-7.16 90.63,-7.13 89.26,-7.11 87.89,-7.08 86.52,-7.06 85.15,-7.03 83.78,-7.01 82.40,-6.98 81.03,-6.96 79.66,-6.93 78.29,-6.91 76.92,-6.88 75.55,-6.86 74.18,-6.83 72.81,-6.81 71.44,-6.78 70.07,-6.75 68.70,-6.73 67.33,-6.70 65.96,-6.68 64.59,-6.65 63.22,-6.60 61.85,-6.52 60.48,-6.42 59.11,-6.30 57.75,-6.14 56.39,-5.98 55.03,-5.80 53.66,-5.63 52.30,-5.46 50.94,-5.29 49.58,-5.11 48.22,-4.91 46.92,-4.50 45.76,-3.76 44.89,-2.73 44.32,-1.50 43.98,-0.19 43.70,1.14 43.48,2.48 43.33,3.83 43.26,5.19 43.24,6.56 43.25,7.93 43.26,9.30 43.28,10.67 43.30,12.04 43.32,13.41 43.34,14.78 43.36,16.15 43.38,17.53 43.40,18.90 43.42,20.27 43.44,21.64 43.46,23.01 43.48,24.38 43.50,25.76 43.52,27.13 43.54,28.50 43.56,29.87" fill="#8e8e90"/><polygon points="43.02,29.93 42.99,28.53 42.96,27.14 42.93,25.74 42.91,24.34 42.88,22.95 42.85,21.55 42.82,20.15 42.79,18.76 42.76,17.36 42.73,15.96 42.70,14.56 42.67,13.17 42.64,11.77 42.61,10.37 42.58,8.98 42.56,7.58 42.53,6.19 42.53,4.79 42.58,3.40 42.70,2.02 42.89,0.64 43.15,-0.73 43.46,-2.08 44.02,-3.34 44.89,-4.42 46.07,-5.17 47.39,-5.59 48.78,-5.79 50.16,-5.96 51.55,-6.13 52.94,-6.30 54.33,-6.47 55.71,-6.63 57.10,-6.80 58.49,-6.95 59.88,-7.07 61.28,-7.17 62.67,-7.23 64.07,-7.27 65.47,-7.29 66.86,-7.30 68.26,-7.31 69.65,-7.33 71.05,-7.34 72.45,-7.36 73.84,-7.37 75.24,-7.38 76.64,-7.40 78.03,-7.41 79.43,-7.43 80.83,-7.44 82.22,-7.45 83.62,-7.47 85.02,-7.48 86.41,-7.49 87.81,-7.51 89.21,-7.52 90.60,-7.53 92.00,-7.54 92.00,-5.46 90.74,-5.39 89.48,-5.32 88.22,-5.25 86.97,-5.17 85.71,-5.10 84.45,-5.03 83.19,-4.95 81.93,-4.88 80.67,-4.80 79.42,-4.73 78.16,-4.65 76.90,-4.57 75.64,-4.49 74.38,-4.42 73.13,-4.34 71.87,-4.26 70.61,-4.18 69.35,-4.11 68.10,-4.03 66.84,-3.95 65.58,-3.85 64.32,-3.74 63.07,-3.61 61.81,-3.46 60.56,-3.30 59.31,-3.12 58.06,-2.94 56.80,-2.76 55.55,-2.58 54.30,-2.40 53.05,-2.20 51.81,-1.97 50.62,-1.57 49.53,-0.93 48.66,-0.05 48.01,0.99 47.56,2.12 47.18,3.29 46.85,4.48 46.60,5.69 46.42,6.92 46.31,8.16 46.24,9.42 46.21,10.68 46.19,11.94 46.16,13.20 46.14,14.46 46.12,15.73 46.10,16.99 46.07,18.25 46.05,19.51 46.03,20.77 46.01,22.04 45.98,23.30 45.96,24.56 45.94,25.82 45.92,27.09 45.89,28.35 45.87,29.61" fill="#f4f4f4"/><polygon points="45.34,29.67 45.35,28.38 45.36,27.10 45.38,25.81 45.39,24.52 45.40,23.23 45.41,21.95 45.43,20.66 45.44,19.37 45.45,18.08 45.47,16.80 45.48,15.51 45.49,14.22 45.50,12.93 45.52,11.65 45.53,10.36 45.55,9.07 45.60,7.79 45.69,6.52 45.85,5.26 46.07,4.02 46.37,2.79 46.73,1.59 47.16,0.42 47.79,-0.67 48.66,-1.59 49.76,-2.25 50.98,-2.65 52.25,-2.88 53.53,-3.07 54.80,-3.25 56.08,-3.42 57.36,-3.60 58.63,-3.78 59.91,-3.95 61.19,-4.12 62.47,-4.26 63.75,-4.38 65.04,-4.49 66.32,-4.57 67.60,-4.64 68.89,-4.70 70.17,-4.77 71.45,-4.84 72.74,-4.90 74.02,-4.97 75.30,-5.03 76.59,-5.10 77.87,-5.16 79.16,-5.23 80.44,-5.29 81.72,-5.36 83.01,-5.42 84.29,-5.48 85.58,-5.55 86.86,-5.61 88.15,-5.67 89.43,-5.73 90.72,-5.79 92.00,-5.86 92.00,-4.23 90.82,-4.12 89.65,-4.01 88.47,-3.91 87.29,-3.80 86.12,-3.69 84.94,-3.58 83.76,-3.47 82.59,-3.36 81.41,-3.24 80.24,-3.13 79.06,-3.02 77.88,-2.90 76.71,-2.79 75.53,-2.67 74.36,-2.55 73.18,-2.44 72.01,-2.32 70.83,-2.21 69.66,-2.09 68.48,-1.98 67.31,-1.85 66.13,-1.71 64.96,-1.56 63.79,-1.39 62.61,-1.22 61.44,-1.03 60.27,-0.85 59.10,-0.66 57.93,-0.47 56.76,-0.29 55.59,-0.08 54.44,0.17 53.32,0.56 52.29,1.14 51.41,1.91 50.72,2.81 50.18,3.81 49.72,4.86 49.32,5.94 48.99,7.05 48.73,8.18 48.56,9.34 48.44,10.51 48.36,11.69 48.31,12.87 48.26,14.05 48.20,15.23 48.15,16.41 48.10,17.60 48.04,18.78 47.99,19.96 47.94,21.14 47.88,22.33 47.83,23.51 47.78,24.69 47.72,25.87 47.67,27.06 47.62,28.24 47.56,29.42" fill="#a0a0a2"/><polygon points="47.03,29.48 47.07,28.27 47.12,27.06 47.16,25.86 47.20,24.65 47.25,23.44 47.29,22.23 47.33,21.03 47.38,19.82 47.42,18.61 47.46,17.40 47.51,16.20 47.55,14.99 47.60,13.78 47.64,12.57 47.68,11.37 47.74,10.16 47.85,8.97 48.00,7.78 48.23,6.62 48.54,5.48 48.92,4.36 49.35,3.28 49.86,2.24 50.54,1.29 51.42,0.48 52.46,-0.11 53.61,-0.51 54.79,-0.75 55.98,-0.95 57.18,-1.14 58.37,-1.32 59.57,-1.51 60.77,-1.69 61.96,-1.87 63.16,-2.05 64.36,-2.21 65.56,-2.35 66.76,-2.48 67.96,-2.60 69.16,-2.70 70.37,-2.81 71.57,-2.91 72.77,-3.01 73.97,-3.12 75.17,-3.22 76.37,-3.33 77.57,-3.43 78.78,-3.53 79.98,-3.63 81.18,-3.74 82.38,-3.84 83.58,-3.94 84.78,-4.04 85.99,-4.13 87.19,-4.23 88.39,-4.33 89.59,-4.43 90.80,-4.52 92.00,-4.62 92.00,-1.50 91.00,-1.31 90.01,-1.13 89.01,-0.94 88.02,-0.75 87.02,-0.57 86.03,-0.38 85.03,-0.19 84.04,0.01 83.04,0.20 82.05,0.39 81.06,0.59 80.06,0.79 79.07,0.99 78.08,1.19 77.08,1.39 76.09,1.59 75.10,1.79 74.10,1.99 73.11,2.19 72.12,2.39 71.12,2.58 70.13,2.78 69.14,2.98 68.15,3.18 67.15,3.38 66.16,3.58 65.17,3.78 64.17,3.98 63.18,4.18 62.19,4.39 61.20,4.63 60.23,4.92 59.29,5.28 58.37,5.71 57.50,6.23 56.69,6.84 55.97,7.54 55.34,8.34 54.76,9.17 54.26,10.05 53.85,10.97 53.52,11.93 53.28,12.92 53.12,13.92 53.00,14.92 52.88,15.93 52.76,16.93 52.64,17.94 52.52,18.94 52.39,19.95 52.27,20.96 52.15,21.96 52.03,22.97 51.91,23.97 51.79,24.98 51.66,25.98 51.54,26.99 51.42,27.99 51.30,29.00" fill="#727274"/><rect x="0.3" y="0.3" width="131.4" height="131.4" fill="none" stroke="#000" stroke-opacity="0.07" stroke-width="0.8"/></g><circle cx="26.3" cy="132.2" r="11.75" fill="#8fd400" stroke="#fff" stroke-width="2.5"/><circle cx="42.3" cy="132.2" r="11.75" fill="#b9cae9" stroke="#fff" stroke-width="2.5"/><circle cx="58.3" cy="132.2" r="11.75" fill="#f6c5dd" stroke="#fff" stroke-width="2.5"/></svg></div>
<div class="cap" style="left:215px;top:699.0px">Cleaning of<br>cavity<br>margins prior to<br>etching</div>
<div class="cell" style="left:369px;top:698px"><svg width="132" height="132" viewBox="0 0 132 132"><g clip-path="url(#cb)"><rect width="132" height="132" fill="url(#bgM)"/><path d="M0,132 L0,124 L15,112 L40,106 L52,92 L70,72 L84,46 L100,37 L132,22 L132,132 Z" fill="url(#gumM)"/><path d="M52,132 Q60,112 74,108 Q90,100 104,86 Q118,74 132,72 L132,132 Z" fill="#f29a78" fill-opacity="0.3"/><path d="M-2,84 Q8,86 15.7,100 Q17,110 13,120 L8,132 L-2,132 Z" fill="url(#molar)"/><path d="M12.9,76 Q17,70.5 24.4,70.7 Q31,71.5 35,73.5 Q41,72.5 45.8,74.5 Q51.5,80 51.6,89 Q50.5,104 47.3,114.6 Q43,120 37.2,120 Q27,117 17.2,107.4 Q12,98 11.5,89 Q11.5,80 12.9,76 Z" fill="url(#molar)"/><path d="M22,80 Q29,76.5 37,80 Q33,85.5 25,84 Z" fill="#f0f0f0"/><path d="M41.5,60.5 Q46,55.5 54.4,54.6 Q60,52.5 63.5,49.5 Q68,45.3 73,45.8 Q80,47.5 86,52 Q91,53.5 95,55.5 Q101.5,59 103.2,65 Q104,77 100.3,86.5 Q90,96 80,101 Q76,104.6 74.5,104.6 Q72,104 68,100 Q60,96.5 54.4,93.1 Q45.5,86 40.8,72 Q40.6,65 41.5,60.5 Z" fill="url(#molar)"/><path d="M58,60 Q66,58.5 72,63.5 Q80,60 88,59.5 M72,63.5 Q73,55 70,49" stroke="#e6dcd0" stroke-width="0.7" fill="none"/><path d="M62,56 Q70,52 76,56 Q82,60 78,66 Q70,70 64,64 Z" fill="#f2f2f2"/><path d="M74,80 L74.5,100" stroke="#ffffff" stroke-width="1.4"/><path d="M91.7,33 Q99,25 106,23.5 Q110,21.5 113.2,21.5 Q122,22 132,25.8 L134,26 L134,63 Q124,66.5 114.6,67.3 Q103,63.5 94.6,57.3 Q90,46 91.7,33 Z" fill="url(#molar)"/><path d="M104,31 Q112,27 119,33 Q112,37.5 106,35.5 Z" fill="#f2f2f2"/><linearGradient id="sp7" gradientUnits="userSpaceOnUse" x1="67.0" y1="39.0" x2="68.0" y2="52.0"><stop offset="0" stop-color="#ffffff" stop-opacity="0.85"/><stop offset="1" stop-color="#ffffff" stop-opacity="0.55"/></linearGradient><polygon points="64.0,39.2 62.0,52.0 74.0,52.0 70.0,38.8" fill="url(#sp7)"/><polygon points="0.00,0.00 1.53,0.25 3.05,0.51 4.58,0.76 6.11,1.01 7.63,1.27 9.16,1.52 10.69,1.78 12.21,2.03 13.74,2.28 15.27,2.54 16.79,2.79 18.32,3.04 19.85,3.30 21.37,3.55 22.90,3.80 24.43,4.06 25.95,4.31 27.48,4.56 29.01,4.82 30.53,5.07 32.06,5.33 33.59,5.58 35.11,5.83 36.64,6.09 38.17,6.34 39.69,6.59 41.22,6.85 42.75,7.10 44.27,7.35 45.80,7.61 47.33,7.86 48.85,8.12 50.38,8.37 51.91,8.62 53.43,8.88 54.96,9.13 56.49,9.39 58.00,9.71 59.47,10.18 60.88,10.82 62.18,11.66 63.28,12.75 64.14,14.03 64.78,15.43 65.26,16.90 65.62,18.41 65.98,19.92 66.33,21.42 66.68,22.93 67.03,24.44 67.38,25.94 67.74,27.45 68.09,28.96 68.44,30.46 68.79,31.97 69.14,33.48 69.50,34.99 69.85,36.49 70.20,38.00 68.34,38.41 67.97,36.99 67.60,35.57 67.22,34.15 66.85,32.73 66.48,31.31 66.10,29.89 65.73,28.48 65.36,27.06 64.98,25.64 64.60,24.23 64.19,22.82 63.76,21.43 63.30,20.06 62.80,18.71 62.18,17.42 61.40,16.24 60.44,15.20 59.30,14.36 58.01,13.73 56.64,13.28 55.23,12.95 53.78,12.72 52.33,12.55 50.88,12.37 49.42,12.20 47.97,12.02 46.52,11.84 45.06,11.67 43.61,11.49 42.16,11.32 40.70,11.14 39.25,10.97 37.79,10.79 36.34,10.62 34.89,10.44 33.43,10.27 31.98,10.09 30.53,9.92 29.07,9.74 27.62,9.57 26.17,9.39 24.71,9.22 23.26,9.04 21.80,8.86 20.35,8.69 18.90,8.51 17.44,8.34 15.99,8.16 14.54,7.99 13.08,7.81 11.63,7.64 10.18,7.46 8.72,7.29 7.27,7.11 5.81,6.94 4.36,6.76 2.91,6.59 1.45,6.41 0.00,6.24" fill="#9a9a9c"/><polygon points="0.00,4.95 1.47,5.14 2.94,5.33 4.41,5.52 5.87,5.71 7.34,5.90 8.81,6.09 10.28,6.29 11.75,6.48 13.22,6.67 14.69,6.86 16.16,7.05 17.62,7.24 19.09,7.43 20.56,7.63 22.03,7.82 23.50,8.01 24.97,8.20 26.44,8.39 27.91,8.58 29.37,8.77 30.84,8.97 32.31,9.16 33.78,9.35 35.25,9.54 36.72,9.73 38.19,9.92 39.66,10.12 41.12,10.31 42.59,10.50 44.06,10.69 45.53,10.88 47.00,11.07 48.47,11.26 49.94,11.46 51.41,11.65 52.87,11.84 54.34,12.03 55.80,12.28 57.23,12.64 58.61,13.13 59.90,13.80 61.03,14.69 61.97,15.78 62.72,17.01 63.31,18.33 63.78,19.72 64.22,21.12 64.63,22.53 65.03,23.96 65.41,25.39 65.78,26.83 66.15,28.26 66.51,29.70 66.88,31.14 67.25,32.57 67.62,34.01 67.99,35.45 68.36,36.89 68.73,38.32 67.19,38.66 66.81,37.29 66.42,35.93 66.03,34.57 65.65,33.20 65.26,31.84 64.87,30.48 64.49,29.11 64.10,27.75 63.71,26.39 63.30,25.03 62.86,23.69 62.38,22.37 61.85,21.08 61.27,19.83 60.57,18.65 59.71,17.61 58.69,16.72 57.52,16.03 56.23,15.54 54.89,15.20 53.51,14.96 52.11,14.79 50.70,14.67 49.29,14.54 47.88,14.41 46.47,14.29 45.07,14.16 43.66,14.03 42.25,13.91 40.84,13.78 39.43,13.65 38.02,13.53 36.62,13.40 35.21,13.27 33.80,13.15 32.39,13.02 30.98,12.89 29.57,12.77 28.17,12.64 26.76,12.51 25.35,12.39 23.94,12.26 22.53,12.13 21.12,12.01 19.72,11.88 18.31,11.75 16.90,11.63 15.49,11.50 14.08,11.37 12.67,11.25 11.27,11.12 9.86,10.99 8.45,10.87 7.04,10.74 5.63,10.61 4.22,10.49 2.82,10.36 1.41,10.23 0.00,10.10" fill="#fafafa"/><polygon points="0.00,8.82 1.42,8.96 2.85,9.10 4.27,9.24 5.69,9.39 7.12,9.53 8.54,9.67 9.96,9.82 11.39,9.96 12.81,10.10 14.23,10.24 15.66,10.39 17.08,10.53 18.50,10.67 19.93,10.82 21.35,10.96 22.77,11.10 24.20,11.24 25.62,11.39 27.05,11.53 28.47,11.67 29.89,11.82 31.32,11.96 32.74,12.10 34.16,12.24 35.59,12.39 37.01,12.53 38.43,12.67 39.86,12.82 41.28,12.96 42.70,13.10 44.13,13.24 45.55,13.39 46.97,13.53 48.40,13.67 49.82,13.82 51.24,13.96 52.67,14.10 54.08,14.29 55.47,14.56 56.83,14.93 58.11,15.47 59.27,16.22 60.27,17.15 61.10,18.24 61.78,19.45 62.33,20.74 62.84,22.06 63.30,23.40 63.73,24.76 64.13,26.14 64.52,27.52 64.90,28.90 65.28,30.28 65.66,31.66 66.05,33.05 66.43,34.43 66.81,35.81 67.19,37.19 67.58,38.57 66.49,38.81 66.09,37.48 65.70,36.15 65.30,34.82 64.91,33.49 64.51,32.16 64.12,30.83 63.72,29.50 63.33,28.17 62.93,26.84 62.51,25.52 62.05,24.22 61.54,22.95 60.97,21.70 60.34,20.51 59.58,19.41 58.67,18.45 57.61,17.66 56.43,17.05 55.15,16.64 53.82,16.37 52.46,16.19 51.08,16.06 49.70,15.96 48.32,15.86 46.94,15.77 45.56,15.67 44.18,15.57 42.80,15.48 41.42,15.38 40.04,15.28 38.66,15.19 37.28,15.09 35.90,14.99 34.52,14.89 33.13,14.80 31.75,14.70 30.37,14.60 28.99,14.51 27.61,14.41 26.23,14.31 24.85,14.22 23.47,14.12 22.09,14.02 20.71,13.92 19.33,13.83 17.95,13.73 16.57,13.63 15.19,13.54 13.81,13.44 12.43,13.34 11.04,13.25 9.66,13.15 8.28,13.05 6.90,12.95 5.52,12.86 4.14,12.76 2.76,12.66 1.38,12.57 0.00,12.47" fill="#858587"/><polygon points="0.00,11.18 1.40,11.29 2.79,11.41 4.19,11.52 5.58,11.63 6.98,11.75 8.37,11.86 9.77,11.97 11.17,12.09 12.56,12.20 13.96,12.31 15.35,12.43 16.75,12.54 18.14,12.65 19.54,12.76 20.94,12.88 22.33,12.99 23.73,13.10 25.12,13.22 26.52,13.33 27.91,13.44 29.31,13.56 30.71,13.67 32.10,13.78 33.50,13.90 34.89,14.01 36.29,14.12 37.68,14.24 39.08,14.35 40.48,14.46 41.87,14.58 43.27,14.69 44.66,14.80 46.06,14.92 47.45,15.03 48.85,15.14 50.25,15.26 51.64,15.37 53.03,15.52 54.40,15.73 55.74,16.04 57.02,16.50 58.20,17.15 59.23,17.99 60.12,19.00 60.84,20.14 61.45,21.36 62.00,22.63 62.49,23.93 62.94,25.25 63.36,26.59 63.75,27.94 64.14,29.29 64.53,30.64 64.92,31.99 65.31,33.33 65.70,34.68 66.09,36.03 66.48,37.38 66.87,38.73 64.89,39.16 64.47,37.91 64.06,36.65 63.65,35.40 63.24,34.15 62.82,32.89 62.41,31.64 62.00,30.39 61.58,29.13 61.17,27.88 60.72,26.64 60.21,25.43 59.62,24.25 58.96,23.12 58.21,22.07 57.34,21.12 56.31,20.35 55.17,19.77 53.95,19.38 52.68,19.15 51.38,19.04 50.07,18.98 48.75,18.94 47.44,18.91 46.12,18.88 44.80,18.85 43.48,18.82 42.17,18.79 40.85,18.76 39.53,18.73 38.21,18.70 36.89,18.67 35.58,18.64 34.26,18.61 32.94,18.58 31.62,18.55 30.31,18.52 28.99,18.49 27.67,18.46 26.35,18.43 25.04,18.41 23.72,18.38 22.40,18.35 21.08,18.32 19.77,18.29 18.45,18.26 17.13,18.23 15.81,18.20 14.49,18.17 13.18,18.14 11.86,18.11 10.54,18.08 9.22,18.05 7.91,18.02 6.59,17.99 5.27,17.96 3.95,17.93 2.64,17.90 1.32,17.87 0.00,17.85" fill="#626264"/><polygon points="0.00,16.55 1.33,16.60 2.67,16.65 4.00,16.69 5.33,16.74 6.66,16.78 8.00,16.83 9.33,16.87 10.66,16.92 12.00,16.97 13.33,17.01 14.66,17.06 15.99,17.10 17.33,17.15 18.66,17.19 19.99,17.24 21.32,17.29 22.66,17.33 23.99,17.38 25.32,17.42 26.66,17.47 27.99,17.51 29.32,17.56 30.65,17.61 31.99,17.65 33.32,17.70 34.65,17.74 35.99,17.79 37.32,17.83 38.65,17.88 39.98,17.93 41.32,17.97 42.65,18.02 43.98,18.06 45.31,18.11 46.65,18.15 47.98,18.20 49.31,18.25 50.64,18.31 51.96,18.40 53.27,18.55 54.54,18.82 55.76,19.26 56.88,19.90 57.88,20.71 58.72,21.69 59.45,22.78 60.08,23.94 60.65,25.14 61.15,26.37 61.59,27.63 62.00,28.90 62.41,30.17 62.82,31.45 63.23,32.72 63.64,33.99 64.05,35.26 64.45,36.53 64.86,37.81 65.27,39.08 63.80,39.40 63.37,38.20 62.95,37.00 62.52,35.79 62.10,34.59 61.67,33.39 61.25,32.19 60.82,30.99 60.39,29.79 59.97,28.58 59.50,27.40 58.95,26.25 58.32,25.14 57.60,24.09 56.77,23.12 55.81,22.28 54.71,21.65 53.51,21.21 52.27,20.96 50.99,20.86 49.72,20.86 48.44,20.88 47.17,20.89 45.90,20.91 44.62,20.93 43.35,20.94 42.07,20.96 40.80,20.98 39.52,20.99 38.25,21.01 36.97,21.02 35.70,21.04 34.42,21.06 33.15,21.07 31.87,21.09 30.60,21.11 29.32,21.12 28.05,21.14 26.77,21.16 25.50,21.17 24.22,21.19 22.95,21.20 21.67,21.22 20.40,21.24 19.12,21.25 17.85,21.27 16.57,21.29 15.30,21.30 14.02,21.32 12.75,21.34 11.47,21.35 10.20,21.37 8.92,21.39 7.65,21.40 6.37,21.42 5.10,21.43 3.82,21.45 2.55,21.47 1.27,21.48 0.00,21.50" fill="#7e7e80"/><rect x="0.3" y="0.3" width="131.4" height="131.4" fill="none" stroke="#000" stroke-opacity="0.07" stroke-width="0.8"/></g><circle cx="26.3" cy="132.2" r="11.75" fill="#8fd400" stroke="#fff" stroke-width="2.5"/><circle cx="42.3" cy="132.2" r="11.75" fill="#b9cae9" stroke="#fff" stroke-width="2.5"/></svg></div>
<div class="cap" style="left:523px;top:699.0px">Cleaning of<br>fissures<br>prior to sealing</div>
<div class="cell" style="left:677px;top:698px"><svg width="132" height="132" viewBox="0 0 132 132"><g clip-path="url(#cb)"><rect width="132" height="132" fill="url(#bgH)"/><path d="M38,0 H134 V78 H41.5 L41.5,57.0 Q38,55.0 38,50.0 Z" fill="url(#gumF)"/><path d="M38,0 H134 V78 H41.5 L41.5,57.0 Q38,55.0 38,50.0 Z" fill="url(#gumFv)"/><path d="M41,73.6 C40.6,58.6 43,44.6 46.4,43.6 C49.5,43.6 51.5,48.6 52.5,54.6 L51,86.5 C47,87.5 44,87.0 43,85.5 C41.5,81.5 41,76.5 41,73.6 Z" fill="url(#toothF)"/><path d="M48.8,84.5 C48.5,70.0 50,46.9 53,40.5 C55,37.0 57,36.7 59.2,36.9 C64,37.5 68,44.9 69.8,52.9 L70,87.0 C66,88.5 62,88.5 59.7,88.2 C55,88.0 51,87.0 48.8,84.5 Z" fill="url(#toothF)"/><path d="M70.5,49.4 C71.5,41.4 77,34.9 83.4,34.8 C92,34.9 100,43.4 102.3,54.8 L102,85.0 C98,87.5 92,88.7 85.4,88.7 C79,88.5 74,87.5 71.2,86.5 C70.4,80.0 70.3,64.0 70.5,49.4 Z" fill="url(#toothF)"/><path d="M103.6,54.2 C106,44.2 111,39.6 116.9,39.6 C124,39.7 131,46.2 134,52.2 L134,86.5 C128,87.5 122,87.7 117,87.7 C112,87.5 106,87.0 103.6,86.0 Z" fill="url(#toothF)"/><polygon points="69,37 76,35.5 93,88 82,88" fill="#d8d8d8" fill-opacity="0.45"/><polygon points="71.5,37 75,36.5 90.5,88 85,88" fill="#f4f4f4" fill-opacity="0.7"/><polygon points="92.5,81.6 93.0,89.4 96.0,87.1 93.7,90.1 101.5,90.6 93.7,91.1 96.0,94.1 93.0,91.8 92.5,99.6 92.0,91.8 89.0,94.1 91.3,91.1 83.5,90.6 91.3,90.1 89.0,87.1 92.0,89.4" fill="#ffffff"/><polygon points="97.8,59.4 98.2,64.5 100.1,63.1 98.7,65.0 103.8,65.4 98.7,65.8 100.1,67.7 98.2,66.3 97.8,71.4 97.4,66.3 95.5,67.7 96.9,65.8 91.8,65.4 96.9,65.0 95.5,63.1 97.4,64.5" fill="#ffffff"/><circle cx="84" cy="95" r="0.5" fill="#fff" fill-opacity="0.6"/><circle cx="88" cy="99" r="0.5" fill="#fff" fill-opacity="0.6"/><circle cx="95" cy="97" r="0.5" fill="#fff" fill-opacity="0.6"/><circle cx="99" cy="101" r="0.5" fill="#fff" fill-opacity="0.6"/><circle cx="103" cy="96" r="0.5" fill="#fff" fill-opacity="0.6"/><circle cx="90" cy="104" r="0.5" fill="#fff" fill-opacity="0.6"/><circle cx="97" cy="106" r="0.5" fill="#fff" fill-opacity="0.6"/><circle cx="106" cy="100" r="0.5" fill="#fff" fill-opacity="0.6"/><polygon points="0.00,10.90 1.50,10.88 2.99,10.87 4.49,10.85 5.99,10.84 7.48,10.82 8.98,10.81 10.47,10.79 11.97,10.78 13.47,10.76 14.96,10.75 16.46,10.73 17.96,10.72 19.45,10.70 20.95,10.69 22.44,10.67 23.94,10.65 25.44,10.64 26.93,10.62 28.43,10.61 29.93,10.59 31.42,10.58 32.92,10.56 34.41,10.55 35.91,10.53 37.41,10.52 38.90,10.50 40.40,10.49 41.90,10.47 43.39,10.46 44.89,10.44 46.38,10.43 47.88,10.41 49.38,10.39 50.87,10.38 52.37,10.36 53.87,10.35 55.36,10.34 56.86,10.42 58.34,10.60 59.80,10.91 61.23,11.37 62.54,12.08 63.66,13.07 64.58,14.25 65.33,15.54 65.94,16.90 66.55,18.27 67.15,19.64 67.76,21.01 68.36,22.38 68.97,23.75 69.57,25.12 70.17,26.49 70.78,27.86 71.38,29.22 71.99,30.59 72.59,31.96 73.20,33.33 73.80,34.70 72.23,35.66 71.60,34.37 70.97,33.07 70.34,31.78 69.71,30.49 69.08,29.20 68.45,27.91 67.82,26.62 67.17,25.33 66.51,24.07 65.82,22.82 65.11,21.60 64.37,20.41 63.61,19.26 62.82,18.15 61.92,17.13 60.90,16.23 59.73,15.51 58.42,15.02 57.04,14.75 55.63,14.62 54.21,14.59 52.79,14.64 51.36,14.74 49.93,14.86 48.51,14.97 47.08,15.08 45.65,15.19 44.23,15.30 42.80,15.41 41.37,15.52 39.95,15.64 38.52,15.75 37.09,15.86 35.67,15.97 34.24,16.08 32.81,16.19 31.39,16.31 29.96,16.42 28.53,16.53 27.11,16.64 25.68,16.75 24.25,16.86 22.83,16.97 21.40,17.09 19.97,17.20 18.55,17.31 17.12,17.42 15.69,17.53 14.27,17.64 12.84,17.76 11.41,17.87 9.99,17.98 8.56,18.09 7.13,18.20 5.71,18.31 4.28,18.42 2.85,18.54 1.43,18.65 0.00,18.76" fill="#808082"/><polygon points="0.00,17.13 1.44,17.04 2.88,16.95 4.32,16.86 5.76,16.77 7.21,16.67 8.65,16.58 10.09,16.49 11.53,16.40 12.97,16.31 14.41,16.22 15.85,16.13 17.29,16.03 18.73,15.94 20.17,15.85 21.62,15.76 23.06,15.67 24.50,15.58 25.94,15.48 27.38,15.39 28.82,15.30 30.26,15.21 31.70,15.12 33.14,15.03 34.58,14.93 36.03,14.84 37.47,14.75 38.91,14.66 40.35,14.57 41.79,14.48 43.23,14.38 44.67,14.29 46.11,14.20 47.55,14.11 49.00,14.02 50.44,13.93 51.88,13.83 53.32,13.75 54.76,13.73 56.19,13.79 57.61,13.95 59.00,14.27 60.31,14.80 61.47,15.58 62.47,16.54 63.34,17.61 64.09,18.77 64.82,19.97 65.53,21.19 66.22,22.44 66.89,23.72 67.54,25.01 68.18,26.31 68.80,27.62 69.43,28.92 70.06,30.23 70.68,31.54 71.31,32.84 71.93,34.15 72.56,35.46 71.21,36.28 70.56,35.04 69.91,33.80 69.26,32.56 68.61,31.32 67.96,30.08 67.31,28.84 66.67,27.60 66.00,26.37 65.30,25.17 64.56,24.00 63.77,22.88 62.95,21.81 62.08,20.80 61.18,19.86 60.19,19.02 59.09,18.31 57.89,17.75 56.58,17.41 55.22,17.26 53.85,17.25 52.48,17.33 51.10,17.45 49.72,17.62 48.34,17.80 46.95,17.97 45.57,18.15 44.19,18.32 42.81,18.50 41.43,18.67 40.05,18.85 38.67,19.02 37.29,19.19 35.91,19.37 34.53,19.54 33.14,19.72 31.76,19.89 30.38,20.07 29.00,20.24 27.62,20.42 26.24,20.59 24.86,20.77 23.48,20.94 22.10,21.11 20.72,21.29 19.33,21.46 17.95,21.64 16.57,21.81 15.19,21.99 13.81,22.16 12.43,22.34 11.05,22.51 9.67,22.69 8.29,22.86 6.91,23.04 5.52,23.21 4.14,23.38 2.76,23.56 1.38,23.73 0.00,23.91" fill="#fafafa"/><polygon points="0.00,22.28 1.40,22.13 2.79,21.97 4.19,21.82 5.58,21.66 6.98,21.51 8.37,21.35 9.77,21.20 11.16,21.04 12.56,20.89 13.95,20.74 15.35,20.58 16.75,20.43 18.14,20.27 19.54,20.12 20.93,19.96 22.33,19.81 23.72,19.65 25.12,19.50 26.51,19.34 27.91,19.19 29.30,19.03 30.70,18.88 32.09,18.72 33.49,18.57 34.89,18.42 36.28,18.26 37.68,18.11 39.07,17.95 40.47,17.80 41.86,17.64 43.26,17.49 44.65,17.33 46.05,17.18 47.44,17.02 48.84,16.87 50.24,16.71 51.63,16.57 53.02,16.46 54.41,16.42 55.79,16.47 57.16,16.66 58.47,17.04 59.66,17.65 60.74,18.43 61.70,19.32 62.56,20.31 63.40,21.37 64.19,22.47 64.96,23.63 65.68,24.82 66.37,26.05 67.03,27.29 67.67,28.55 68.32,29.80 68.96,31.06 69.60,32.32 70.25,33.57 70.89,34.83 71.53,36.09 70.83,36.52 70.17,35.29 69.52,34.07 68.86,32.85 68.21,31.63 67.55,30.41 66.90,29.19 66.24,27.96 65.57,26.76 64.85,25.58 64.09,24.44 63.28,23.35 62.42,22.32 61.52,21.37 60.57,20.49 59.55,19.72 58.43,19.07 57.21,18.58 55.90,18.29 54.55,18.19 53.20,18.22 51.84,18.33 50.48,18.49 49.11,18.68 47.75,18.88 46.38,19.08 45.02,19.28 43.65,19.48 42.29,19.67 40.93,19.87 39.56,20.07 38.20,20.27 36.83,20.46 35.47,20.66 34.11,20.86 32.74,21.06 31.38,21.26 30.01,21.45 28.65,21.65 27.28,21.85 25.92,22.05 24.56,22.24 23.19,22.44 21.83,22.64 20.46,22.84 19.10,23.04 17.73,23.23 16.37,23.43 15.01,23.63 13.64,23.83 12.28,24.02 10.91,24.22 9.55,24.42 8.19,24.62 6.82,24.82 5.46,25.01 4.09,25.21 2.73,25.41 1.36,25.61 0.00,25.80" fill="#6a6a6c"/><polygon points="0.00,24.18 1.38,24.00 2.76,23.82 4.14,23.65 5.51,23.47 6.89,23.29 8.27,23.11 9.65,22.93 11.03,22.76 12.41,22.58 13.79,22.40 15.16,22.22 16.54,22.04 17.92,21.87 19.30,21.69 20.68,21.51 22.06,21.33 23.44,21.15 24.82,20.98 26.19,20.80 27.57,20.62 28.95,20.44 30.33,20.27 31.71,20.09 33.09,19.91 34.47,19.73 35.84,19.55 37.22,19.38 38.60,19.20 39.98,19.02 41.36,18.84 42.74,18.66 44.12,18.49 45.49,18.31 46.87,18.13 48.25,17.95 49.63,17.77 51.01,17.60 52.39,17.47 53.76,17.39 55.13,17.40 56.48,17.54 57.79,17.87 59.00,18.41 60.09,19.12 61.09,19.95 62.00,20.88 62.87,21.88 63.70,22.95 64.49,24.06 65.23,25.23 65.94,26.43 66.60,27.65 67.25,28.89 67.90,30.13 68.55,31.37 69.20,32.60 69.85,33.84 70.50,35.08 71.15,36.32 69.32,37.44 68.64,36.29 67.96,35.15 67.27,34.00 66.59,32.85 65.91,31.71 65.23,30.56 64.55,29.41 63.84,28.29 63.06,27.20 62.22,26.18 61.31,25.24 60.32,24.39 59.26,23.64 58.15,23.01 56.98,22.51 55.76,22.12 54.49,21.89 53.19,21.82 51.88,21.90 50.58,22.11 49.28,22.36 47.99,22.64 46.69,22.93 45.39,23.22 44.10,23.51 42.80,23.80 41.50,24.09 40.21,24.38 38.91,24.67 37.61,24.96 36.32,25.25 35.02,25.54 33.72,25.83 32.42,26.13 31.13,26.42 29.83,26.71 28.53,27.00 27.24,27.29 25.94,27.58 24.64,27.87 23.35,28.16 22.05,28.45 20.75,28.74 19.45,29.03 18.16,29.32 16.86,29.61 15.56,29.90 14.27,30.20 12.97,30.49 11.67,30.78 10.38,31.07 9.08,31.36 7.78,31.65 6.48,31.94 5.19,32.23 3.89,32.52 2.59,32.81 1.30,33.10 0.00,33.39" fill="#444446"/><polygon points="0.00,31.77 1.31,31.50 2.62,31.23 3.93,30.95 5.25,30.68 6.56,30.41 7.87,30.14 9.18,29.87 10.49,29.60 11.80,29.33 13.11,29.06 14.43,28.79 15.74,28.52 17.05,28.25 18.36,27.98 19.67,27.71 20.98,27.43 22.29,27.16 23.60,26.89 24.92,26.62 26.23,26.35 27.54,26.08 28.85,25.81 30.16,25.54 31.47,25.27 32.78,25.00 34.10,24.73 35.41,24.46 36.72,24.18 38.03,23.91 39.34,23.64 40.65,23.37 41.96,23.10 43.28,22.83 44.59,22.56 45.90,22.29 47.21,22.02 48.52,21.75 49.83,21.50 51.14,21.27 52.45,21.10 53.77,21.06 55.07,21.18 56.33,21.47 57.53,21.91 58.67,22.47 59.75,23.15 60.77,23.94 61.73,24.83 62.62,25.81 63.45,26.86 64.21,27.96 64.91,29.10 65.59,30.27 66.26,31.43 66.94,32.59 67.61,33.75 68.29,34.92 68.97,36.08 69.64,37.24 68.40,38.00 67.70,36.90 67.01,35.80 66.31,34.70 65.61,33.60 64.91,32.50 64.22,31.39 63.52,30.29 62.79,29.22 61.98,28.19 61.09,27.24 60.11,26.38 59.04,25.64 57.89,25.02 56.68,24.54 55.43,24.20 54.14,23.98 52.84,23.90 51.54,23.96 50.26,24.15 48.99,24.46 47.73,24.81 46.48,25.16 45.22,25.50 43.97,25.85 42.71,26.20 41.45,26.55 40.20,26.89 38.94,27.24 37.68,27.59 36.43,27.93 35.17,28.28 33.92,28.63 32.66,28.98 31.40,29.32 30.15,29.67 28.89,30.02 27.64,30.36 26.38,30.71 25.12,31.06 23.87,31.41 22.61,31.75 21.35,32.10 20.10,32.45 18.84,32.79 17.59,33.14 16.33,33.49 15.07,33.83 13.82,34.18 12.56,34.53 11.31,34.88 10.05,35.22 8.79,35.57 7.54,35.92 6.28,36.26 5.02,36.61 3.77,36.96 2.51,37.31 1.26,37.65 0.00,38.00" fill="#6c6c6e"/><line x1="17" y1="12" x2="17.5" y2="33" stroke="#d8d8d8" stroke-width="0.5"/><rect x="0.3" y="0.3" width="131.4" height="131.4" fill="none" stroke="#000" stroke-opacity="0.07" stroke-width="0.8"/></g><circle cx="26.3" cy="132.2" r="11.75" fill="#8fd400" stroke="#fff" stroke-width="2.5"/><circle cx="42.3" cy="132.2" r="11.75" fill="#b9cae9" stroke="#fff" stroke-width="2.5"/><circle cx="58.3" cy="132.2" r="11.75" fill="#f6c5dd" stroke="#fff" stroke-width="2.5"/></svg></div>
<div class="cap" style="left:831px;top:699.0px">Preparation<br>for bleaching</div>
</body></html>
